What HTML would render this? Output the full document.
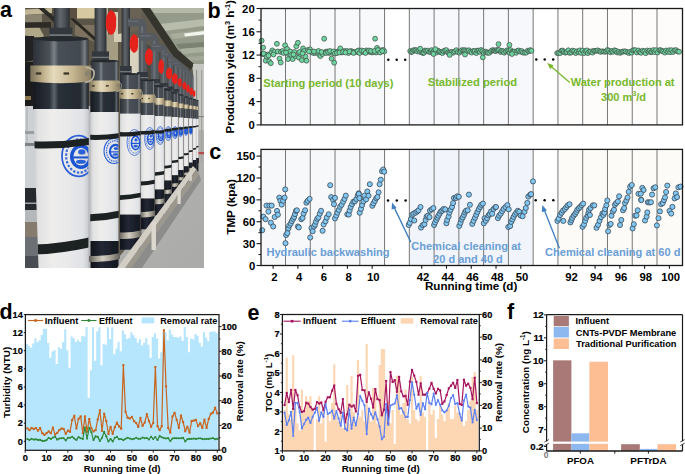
<!DOCTYPE html>
<html><head><meta charset="utf-8"><title>Figure</title>
<style>
html,body{margin:0;padding:0;background:#fff;width:685px;height:474px;overflow:hidden;}
svg{display:block;}
text{font-family:"Liberation Sans",sans-serif;}
</style></head>
<body>
<svg width="685" height="474" viewBox="0 0 685 474">
<defs>
<clipPath id="pc"><rect x="25" y="8" width="179" height="260"/></clipPath>
<filter id="blur1" x="-5%" y="-5%" width="110%" height="110%"><feGaussianBlur stdDeviation="0.6"/></filter>
<linearGradient id="gwhite" x1="0" y1="0" x2="1" y2="0"><stop offset="0" stop-color="#caccce"/><stop offset="0.1" stop-color="#e2e2e2"/><stop offset="0.35" stop-color="#eeedec"/><stop offset="0.6" stop-color="#eaeaeb"/><stop offset="0.9" stop-color="#e0e2e6"/><stop offset="1" stop-color="#c8cbd0"/></linearGradient>
<linearGradient id="gdark" x1="0" y1="0" x2="1" y2="0"><stop offset="0" stop-color="#2c3137"/><stop offset="0.3" stop-color="#4c5259"/><stop offset="0.38" stop-color="#7c8288"/><stop offset="0.46" stop-color="#4a5057"/><stop offset="0.85" stop-color="#42484f"/><stop offset="0.93" stop-color="#787e84"/><stop offset="1" stop-color="#30353b"/></linearGradient>
<linearGradient id="gpipe" x1="0" y1="0" x2="1" y2="0"><stop offset="0" stop-color="#2c3034"/><stop offset="0.4" stop-color="#62676d"/><stop offset="0.7" stop-color="#4a4f55"/><stop offset="1" stop-color="#2a2e32"/></linearGradient>
<linearGradient id="gblack" x1="0" y1="0" x2="1" y2="0"><stop offset="0" stop-color="#10131a"/><stop offset="0.4" stop-color="#222734"/><stop offset="1" stop-color="#141820"/></linearGradient>
<linearGradient id="gclamp" x1="0" y1="0" x2="1" y2="0"><stop offset="0" stop-color="#7a705a"/><stop offset="0.2" stop-color="#bcad88"/><stop offset="0.38" stop-color="#e4dabc"/><stop offset="0.7" stop-color="#c6b690"/><stop offset="1" stop-color="#8c7f62"/></linearGradient>
<linearGradient id="gdark2" x1="0" y1="0" x2="1" y2="0"><stop offset="0" stop-color="#161a20"/><stop offset="0.3" stop-color="#2c323a"/><stop offset="0.38" stop-color="#5e646c"/><stop offset="0.46" stop-color="#2a3038"/><stop offset="0.85" stop-color="#242a32"/><stop offset="0.93" stop-color="#5e646a"/><stop offset="1" stop-color="#1a1e24"/></linearGradient>
<linearGradient id="gsilver" x1="0" y1="0" x2="1" y2="0"><stop offset="0" stop-color="#5e5c56"/><stop offset="0.25" stop-color="#a8a498"/><stop offset="0.45" stop-color="#d2cec2"/><stop offset="0.75" stop-color="#9c988c"/><stop offset="1" stop-color="#62605a"/></linearGradient>
<linearGradient id="gceil" x1="0" y1="0" x2="0" y2="1"><stop offset="0" stop-color="#a4a99b"/><stop offset="1" stop-color="#c4c7bd"/></linearGradient>
<linearGradient id="gfloor" x1="0" y1="0" x2="1" y2="1"><stop offset="0" stop-color="#b4b4b2"/><stop offset="1" stop-color="#aaaaa8"/></linearGradient>
</defs>
<defs><g id="photoc">
<rect x="15" y="-2" width="199" height="280" fill="#625c50"/>
<rect x="25" y="8" width="95" height="60" fill="#5a5446"/>
<polygon points="25,9.5 52,8 52,13 25,15" fill="#c2b898"/>
<polygon points="25,15 42,14 42,22 25,22.5" fill="#8a8470"/>
<polygon points="38,8 44,8 60,22 56,24" fill="#2c2a26"/>
<polygon points="25,22.5 51,22 51,27.7 25,27.7" fill="#2e2b26"/>
<polygon points="25,28 39.5,27.7 44,36 42,38 25,35.6" fill="#b0a688"/>
<polygon points="70,8 77,8 77,18 70,20" fill="#5a5040"/>
<polygon points="77,8 96,8 96,18.5 77,18.5" fill="#d6c8a0"/>
<polygon points="75,25 95,25 95,42 75,35" fill="#7c725e"/>
<polygon points="70,18.5 74,18.5 96,38 96,42" fill="#2a2620"/>
<polygon points="25,36 34,36 34,60 25,62" fill="#242220"/>
<polygon points="96,8 108,8 108,48 96,40" fill="#beb497"/>
<polygon points="106,36 118,30 118,62 106,62" fill="#a59c84"/>
<rect x="114" y="12" width="8" height="30" fill="#d5cdb5"/>
<rect x="130" y="38" width="9" height="40" fill="#d9d2be"/>
<polygon points="118,8 142,8 142,30 118,34" fill="#6a6454"/>
<polygon points="140,40 190,70 190,100 140,100" fill="#4e4a42"/>
<polygon points="144,8 204,8 204,112 192,68 176,54" fill="#959b8a"/>
<polygon points="150,8 204,8 204,13 154,13" fill="#b4b8a6"/>
<polygon points="160,24 204,19 204,26 165,31" fill="#b8bcaa"/>
<polygon points="170,34 204,30 204,35 173,39" fill="#a9ae9c"/>
<polygon points="184,33.5 204,31 204,34.5 185,36.5" fill="#f2f4ee"/>
<polygon points="176,44 204,42 204,47 179,49" fill="#7c8272"/>
<polygon points="180,49 204,47 204,52 183,54" fill="#aab09e"/>
<polygon points="186,57 204,56 204,60 188,61" fill="#a4a898"/>
<polygon points="141,8 150,8 178,50 194,64 191,70 173,56" fill="#34362f"/>
<rect x="193" y="64" width="11" height="140" fill="#b0afab"/>
<rect x="193" y="64" width="11" height="66" fill="#c6c6c0"/>
<rect x="192" y="158" width="7" height="18" fill="#4a3a3c"/>
<rect x="196" y="70" width="1.2" height="125" fill="#8e918e"/>
<rect x="201" y="70" width="1.2" height="125" fill="#a0a3a0"/>
<rect x="192" y="152" width="12" height="2.2" fill="#b84848"/>
<rect x="193" y="116" width="11" height="1.2" fill="#888"/>
<rect x="25" y="62" width="11" height="44" fill="#1c1b1a"/>
<rect x="25" y="96" width="6" height="4" fill="#8a7650"/>
<rect x="25" y="106" width="14" height="162" fill="#cdd1d4"/>
<rect x="26.5" y="106" width="1" height="40" fill="#a8acb0"/>
<rect x="25" y="131" width="14" height="3" fill="#9a9ea2"/>
<rect x="25" y="143" width="14" height="3" fill="#7e8286"/>
<rect x="25" y="188" width="14" height="22" fill="#25292d"/>
<rect x="25" y="202.5" width="14" height="1.5" fill="#a0a4a8"/>
<rect x="25" y="210" width="14" height="12" fill="#b4b8bb"/>
<rect x="25" y="222" width="14" height="15" fill="#857c6e"/>
<circle cx="37.5" cy="240" r="1.3" fill="#c03030"/>
<rect x="25" y="237" width="14" height="31" fill="#6c7074"/>
<rect x="25" y="256" width="14" height="12" fill="#4a4d52"/>
<rect x="86" y="106" width="6" height="162" fill="#b9bbbe"/>
<polygon points="110,268 204,268 204,160 194,166" fill="url(#gfloor)"/>
<rect x="53.8" y="8" width="16.00" height="31.0" fill="url(#gpipe)"/>
<rect x="94.6" y="8" width="11.90" height="53.0" fill="url(#gpipe)"/>
<rect x="121.6" y="8" width="8.40" height="67.0" fill="url(#gpipe)"/>
<path d="M138.70,81.0 L138.70,26.40 L128.00,26.40 L128.00,18.50 L138.70,18.50 Q146.60,18.50 146.60,26.40 L146.60,81.0 Z" fill="#555a60"/>
<rect x="141.07" y="26.40" width="1.98" height="54.60" fill="#6c7177"/>
<rect x="128.00" y="20.48" width="10.70" height="1.74" fill="#666b70"/>
<path d="M151.00,87.0 L151.00,40.80 L140.00,40.80 L140.00,33.00 L151.00,33.00 Q158.80,33.00 158.80,40.80 L158.80,87.0 Z" fill="#555a60"/>
<rect x="153.34" y="40.80" width="1.95" height="46.20" fill="#6c7177"/>
<rect x="140.00" y="34.95" width="11.00" height="1.72" fill="#666b70"/>
<path d="M160.60,90.0 L160.60,50.60 L152.00,50.60 L152.00,44.00 L160.60,44.00 Q167.20,44.00 167.20,50.60 L167.20,90.0 Z" fill="#555a60"/>
<rect x="162.58" y="50.60" width="1.65" height="39.40" fill="#6c7177"/>
<rect x="152.00" y="45.65" width="8.60" height="1.45" fill="#666b70"/>
<path d="M168.20,93.0 L168.20,57.30 L161.00,57.30 L161.00,52.50 L168.20,52.50 Q173.00,52.50 173.00,57.30 L173.00,93.0 Z" fill="#555a60"/>
<rect x="169.64" y="57.30" width="1.20" height="35.70" fill="#6c7177"/>
<rect x="161.00" y="53.70" width="7.20" height="1.06" fill="#666b70"/>
<path d="M173.90,95.0 L173.90,63.00 L168.00,63.00 L168.00,58.30 L173.90,58.30 Q178.60,58.30 178.60,63.00 L178.60,95.0 Z" fill="#555a60"/>
<rect x="175.31" y="63.00" width="1.17" height="32.00" fill="#6c7177"/>
<rect x="168.00" y="59.47" width="5.90" height="1.03" fill="#666b70"/>
<path d="M178.60,97.0 L178.60,65.80 L173.00,65.80 L173.00,62.00 L178.60,62.00 Q182.40,62.00 182.40,65.80 L182.40,97.0 Z" fill="#555a60"/>
<rect x="179.74" y="65.80" width="0.95" height="31.20" fill="#6c7177"/>
<rect x="173.00" y="62.95" width="5.60" height="0.84" fill="#666b70"/>
<path d="M182.40,98.5 L182.40,68.20 L178.00,68.20 L178.00,65.00 L182.40,65.00 Q185.60,65.00 185.60,68.20 L185.60,98.5 Z" fill="#555a60"/>
<rect x="183.36" y="68.20" width="0.80" height="30.30" fill="#6c7177"/>
<rect x="178.00" y="65.80" width="4.40" height="0.70" fill="#666b70"/>
<path d="M185.60,99.5 L185.60,71.10 L182.00,71.10 L182.00,68.00 L185.60,68.00 Q188.70,68.00 188.70,71.10 L188.70,99.5 Z" fill="#555a60"/>
<rect x="186.53" y="71.10" width="0.77" height="28.40" fill="#6c7177"/>
<rect x="182.00" y="68.78" width="3.60" height="0.68" fill="#666b70"/>
<path d="M188.70,100.5 L188.70,73.50 L185.00,73.50 L185.00,71.00 L188.70,71.00 Q191.20,71.00 191.20,73.50 L191.20,100.5 Z" fill="#555a60"/>
<rect x="189.45" y="73.50" width="0.62" height="27.00" fill="#6c7177"/>
<rect x="185.00" y="71.62" width="3.70" height="0.55" fill="#666b70"/>
<path d="M191.20,101.0 L191.20,75.90 L188.00,75.90 L188.00,73.50 L191.20,73.50 Q193.60,73.50 193.60,75.90 L193.60,101.0 Z" fill="#555a60"/>
<rect x="191.92" y="75.90" width="0.60" height="25.10" fill="#6c7177"/>
<rect x="188.00" y="74.10" width="3.20" height="0.53" fill="#666b70"/>
<rect x="49.3" y="27.7" width="23.00" height="11.80" fill="#33373c"/>
<rect x="49.3" y="34.2" width="23.00" height="1.8" fill="#70757a"/>
<rect x="92.0" y="51.4" width="17.00" height="9.60" fill="#33373c"/>
<rect x="92.0" y="56.7" width="17.00" height="1.4" fill="#70757a"/>
<rect x="120.0" y="66.0" width="11.60" height="9.00" fill="#33373c"/>
<rect x="120.0" y="71.0" width="11.60" height="1.3" fill="#70757a"/>
<rect x="137.2" y="72.0" width="11.00" height="9.00" fill="#33373c"/>
<rect x="137.2" y="77.0" width="11.00" height="1.3" fill="#70757a"/>
<rect x="149.8" y="79.0" width="10.20" height="8.00" fill="#33373c"/>
<rect x="149.8" y="83.4" width="10.20" height="1.2" fill="#70757a"/>
<rect x="159.6" y="83.0" width="8.60" height="7.00" fill="#33373c"/>
<rect x="159.6" y="86.8" width="8.60" height="1.1" fill="#70757a"/>
<rect x="167.4" y="86.5" width="6.40" height="6.50" fill="#33373c"/>
<rect x="167.4" y="90.1" width="6.40" height="1.0" fill="#70757a"/>
<rect x="173.2" y="89.0" width="6.00" height="6.00" fill="#33373c"/>
<rect x="173.2" y="92.3" width="6.00" height="0.9" fill="#70757a"/>
<path d="M110.9,10.0 Q117.5,12.5 116.0,22.5 Q117.0,33.1 110.9,35.0 Q105.3,31.2 105.8,22.5 Q105.5,13.8 110.9,10.0 Z" fill="#e5241d"/>
<path d="M133.8,34.0 Q139.3,35.9 138.0,43.5 Q138.8,51.6 133.8,53.0 Q129.2,50.1 129.6,43.5 Q129.4,36.9 133.8,34.0 Z" fill="#e5241d"/>
<path d="M148.8,48.3 Q153.7,50.0 152.6,56.9 Q153.4,64.2 148.8,65.5 Q144.6,62.9 145.0,56.9 Q144.8,50.9 148.8,48.3 Z" fill="#e5241d"/>
<path d="M161.0,59.0 Q164.6,60.5 163.8,66.5 Q164.4,72.9 161.0,74.0 Q157.9,71.8 158.2,66.5 Q158.1,61.2 161.0,59.0 Z" fill="#e5241d"/>
<path d="M169.0,67.5 Q172.9,68.7 172.0,73.5 Q172.6,78.6 169.0,79.5 Q165.7,77.7 166.0,73.5 Q165.8,69.3 169.0,67.5 Z" fill="#e5241d"/>
<path d="M174.7,73.2 Q178.5,74.3 177.6,78.8 Q178.2,83.5 174.7,84.3 Q171.5,82.6 171.8,78.8 Q171.7,74.9 174.7,73.2 Z" fill="#e5241d"/>
<path d="M179.6,78.0 Q182.5,78.9 181.8,82.5 Q182.2,86.3 179.6,87.0 Q177.2,85.7 177.4,82.5 Q177.3,79.3 179.6,78.0 Z" fill="#e5241d"/>
<path d="M184.3,81.8 Q187.0,82.6 186.4,85.9 Q186.8,89.4 184.3,90.0 Q182.0,88.8 182.2,85.9 Q182.1,83.0 184.3,81.8 Z" fill="#e5241d"/>
<path d="M187.8,84.7 Q190.1,85.5 189.6,88.8 Q190.0,92.2 187.8,92.8 Q185.8,91.6 186.0,88.8 Q185.9,85.9 187.8,84.7 Z" fill="#e5241d"/>
<path d="M191.2,87.5 Q193.6,88.3 193.0,91.5 Q193.4,94.9 191.2,95.5 Q189.1,94.3 189.3,91.5 Q189.2,88.7 191.2,87.5 Z" fill="#e5241d"/>
<path d="M194.0,90.0 Q195.8,90.7 195.4,93.5 Q195.7,96.5 194.0,97.0 Q192.5,96.0 192.6,93.5 Q192.5,91.0 194.0,90.0 Z" fill="#e5241d"/>
<rect x="196.2" y="100.5" width="2.200000000000017" height="18.799999999999997" fill="url(#gdark)"/>
<ellipse cx="197.3" cy="100.5" rx="1.1000000000000085" ry="0.80" fill="#262a2f"/>
<path d="M196.09,106.5 L198.51,106.5 L198.51,110.0 Q197.30,110.13 196.09,110.0 Z" fill="url(#gclamp)"/>
<rect x="196.2" y="118.8" width="2.200000000000017" height="39.2" fill="url(#gwhite)"/>
<path d="M196.18,146.14 Q197.30,146.11 198.42,145.86 L198.42,147.36 Q197.30,147.61 196.18,147.64 Z" fill="#1d2024"/>
<path d="M196.18,125.47 Q197.30,125.51 198.42,125.33 L198.42,126.83 Q197.30,127.01 196.18,126.97 Z" fill="#1d2024"/>
<rect x="196.2" y="158.0" width="2.200000000000017" height="13.48" fill="url(#gblack)"/>
<rect x="193.0" y="99.5" width="3.0" height="19.599999999999994" fill="url(#gdark)"/>
<ellipse cx="194.5" cy="99.5" rx="1.5" ry="0.80" fill="#262a2f"/>
<path d="M192.85,106.0 L196.15,106.0 L196.15,109.5 Q194.50,109.68 192.85,109.5 Z" fill="url(#gclamp)"/>
<rect x="193.0" y="118.6" width="3.0" height="41.400000000000006" fill="url(#gwhite)"/>
<path d="M192.97,148.19 Q194.50,148.15 196.03,147.81 L196.03,149.41 Q194.50,149.75 192.97,149.79 Z" fill="#1d2024"/>
<path d="M192.97,125.89 Q194.50,125.95 196.03,125.71 L196.03,127.31 Q194.50,127.55 192.97,127.49 Z" fill="#1d2024"/>
<rect x="193.0" y="160.0" width="3.0" height="14.75" fill="url(#gblack)"/>
<rect x="189.0" y="98.5" width="3.5999999999999943" height="20.299999999999997" fill="url(#gdark)"/>
<ellipse cx="190.8" cy="98.5" rx="1.7999999999999972" ry="0.80" fill="#262a2f"/>
<path d="M188.82,105.5 L192.78,105.5 L192.78,109.0 Q190.80,109.22 188.82,109.0 Z" fill="url(#gclamp)"/>
<rect x="189.0" y="118.3" width="3.5999999999999943" height="44.39999999999999" fill="url(#gwhite)"/>
<path d="M188.96,150.43 Q190.80,150.38 192.64,149.97 L192.64,151.77 Q190.80,152.18 188.96,152.23 Z" fill="#1d2024"/>
<clipPath id="lc189"><rect x="189.0" y="118.3" width="3.5999999999999943" height="44.39999999999999"/></clipPath>
<g clip-path="url(#lc189)"><ellipse cx="190.8" cy="130.5" rx="1.4" ry="4.0" fill="none" stroke="#2b5fd6" stroke-width="0.77"/><ellipse cx="190.87" cy="130.5" rx="1.12" ry="3.28" fill="none" stroke="#3a6ad6" stroke-width="0.98" stroke-dasharray="1.05,0.70"/><ellipse cx="191.01" cy="130.62" rx="0.78" ry="2.08" fill="none" stroke="#1d55d2" stroke-width="1.54"/><rect x="190.17" y="130.58" width="1.68" height="0.40" fill="#1d55d2"/><ellipse cx="191.08" cy="129.70" rx="0.31" ry="0.52" fill="#2a60d8"/><ellipse cx="191.01" cy="131.62" rx="0.42" ry="0.40" fill="#2a60d8"/></g>
<path d="M188.96,126.31 Q190.80,126.38 192.64,126.09 L192.64,127.89 Q190.80,128.18 188.96,128.11 Z" fill="#1d2024"/>
<rect x="189.0" y="162.7" width="3.5999999999999943" height="16.36" fill="url(#gblack)"/>
<path d="M188.82,168.22 Q190.80,168.36 192.78,167.86 L192.78,170.06 Q190.80,170.56 188.82,170.42 Z" fill="url(#gsilver)"/>
<rect x="184.0" y="97.0" width="4.5" height="21.5" fill="url(#gdark)"/>
<ellipse cx="186.25" cy="97.0" rx="2.25" ry="0.80" fill="#262a2f"/>
<path d="M183.78,104.5 L188.72,104.5 L188.72,108.5 Q186.25,108.77 183.78,108.5 Z" fill="url(#gclamp)"/>
<rect x="184.0" y="118.0" width="4.5" height="48.30000000000001" fill="url(#gwhite)"/>
<path d="M183.96,153.29 Q186.25,153.22 188.54,152.71 L188.54,154.71 Q186.25,155.22 183.96,155.29 Z" fill="#1d2024"/>
<clipPath id="lc184"><rect x="184.0" y="118.0" width="4.5" height="48.30000000000001"/></clipPath>
<g clip-path="url(#lc184)"><ellipse cx="186.0" cy="131.0" rx="1.7" ry="4.5" fill="none" stroke="#2b5fd6" stroke-width="0.77"/><ellipse cx="186.09" cy="131.0" rx="1.36" ry="3.69" fill="none" stroke="#3a6ad6" stroke-width="0.98" stroke-dasharray="1.05,0.70"/><ellipse cx="186.25" cy="131.13" rx="0.95" ry="2.34" fill="none" stroke="#1d55d2" stroke-width="1.54"/><rect x="185.24" y="131.09" width="2.04" height="0.45" fill="#1d55d2"/><ellipse cx="186.34" cy="130.10" rx="0.37" ry="0.58" fill="#2a60d8"/><ellipse cx="186.25" cy="132.26" rx="0.51" ry="0.45" fill="#2a60d8"/></g>
<path d="M183.96,126.73 Q186.25,126.82 188.54,126.46 L188.54,128.46 Q186.25,128.82 183.96,128.74 Z" fill="#1d2024"/>
<rect x="184.0" y="166.3" width="4.5" height="18.07" fill="url(#gblack)"/>
<path d="M183.78,172.77 Q186.25,172.95 188.72,172.32 L188.72,174.82 Q186.25,175.45 183.78,175.27 Z" fill="url(#gsilver)"/>
<rect x="178.5" y="95.0" width="5.0" height="23.0" fill="url(#gdark)"/>
<ellipse cx="181.0" cy="95.0" rx="2.5" ry="0.80" fill="#262a2f"/>
<path d="M178.25,103.5 L183.75,103.5 L183.75,108.0 Q181.00,108.30 178.25,108.0 Z" fill="url(#gclamp)"/>
<rect x="178.5" y="117.5" width="5.0" height="52.5" fill="url(#gwhite)"/>
<path d="M178.45,156.92 Q181.00,156.85 183.55,156.28 L183.55,158.47 Q181.00,159.05 178.45,159.12 Z" fill="#1d2024"/>
<clipPath id="lc178"><rect x="178.5" y="117.5" width="5.0" height="52.5"/></clipPath>
<g clip-path="url(#lc178)"><ellipse cx="180.6" cy="131.8" rx="2.0" ry="5.0" fill="none" stroke="#2b5fd6" stroke-width="0.77"/><ellipse cx="180.70" cy="131.8" rx="1.60" ry="4.10" fill="none" stroke="#3a6ad6" stroke-width="0.98" stroke-dasharray="1.05,0.70"/><ellipse cx="180.90" cy="131.95" rx="1.12" ry="2.60" fill="none" stroke="#1d55d2" stroke-width="1.54"/><rect x="179.70" y="131.90" width="2.40" height="0.50" fill="#1d55d2"/><ellipse cx="181.00" cy="130.80" rx="0.44" ry="0.65" fill="#2a60d8"/><ellipse cx="180.90" cy="133.20" rx="0.60" ry="0.50" fill="#2a60d8"/></g>
<path d="M178.45,127.35 Q181.00,127.45 183.55,127.05 L183.55,129.25 Q181.00,129.65 178.45,129.55 Z" fill="#1d2024"/>
<rect x="178.5" y="170.0" width="5.0" height="20.50" fill="url(#gblack)"/>
<path d="M178.25,177.30 Q181.00,177.50 183.75,176.80 L183.75,179.80 Q181.00,180.50 178.25,180.30 Z" fill="url(#gsilver)"/>
<rect x="172.0" y="93.0" width="6.0" height="24.5" fill="url(#gdark)"/>
<ellipse cx="175.0" cy="93.0" rx="3.0" ry="0.80" fill="#262a2f"/>
<path d="M171.70,102.0 L178.30,102.0 L178.30,107.0 Q175.00,107.36 171.70,107.0 Z" fill="url(#gclamp)"/>
<rect x="172.0" y="117.0" width="6.0" height="58.30000000000001" fill="url(#gwhite)"/>
<path d="M171.94,160.59 Q175.00,160.50 178.06,159.81 L178.06,162.31 Q175.00,163.00 171.94,163.09 Z" fill="#1d2024"/>
<clipPath id="lc172"><rect x="172.0" y="117.0" width="6.0" height="58.30000000000001"/></clipPath>
<g clip-path="url(#lc172)"><ellipse cx="175.0" cy="132.6" rx="2.6" ry="6.0" fill="none" stroke="#2b5fd6" stroke-width="0.77"/><ellipse cx="175.13" cy="132.6" rx="2.08" ry="4.92" fill="none" stroke="#3a6ad6" stroke-width="0.98" stroke-dasharray="1.05,0.70"/><ellipse cx="175.39" cy="132.78" rx="1.46" ry="3.12" fill="none" stroke="#1d55d2" stroke-width="1.54"/><rect x="173.83" y="132.72" width="3.12" height="0.60" fill="#1d55d2"/><ellipse cx="175.52" cy="131.40" rx="0.57" ry="0.78" fill="#2a60d8"/><ellipse cx="175.39" cy="134.28" rx="0.78" ry="0.60" fill="#2a60d8"/></g>
<path d="M171.94,127.98 Q175.00,128.10 178.06,127.62 L178.06,130.12 Q175.00,130.60 171.94,130.48 Z" fill="#1d2024"/>
<rect x="172.0" y="175.3" width="6.0" height="22.20" fill="url(#gblack)"/>
<path d="M171.70,183.36 Q175.00,183.60 178.30,182.76 L178.30,186.26 Q175.00,187.10 171.70,186.86 Z" fill="url(#gsilver)"/>
<rect x="164.5" y="90.0" width="7.0" height="27.0" fill="url(#gdark)"/>
<ellipse cx="168.0" cy="90.0" rx="3.5" ry="0.80" fill="#262a2f"/>
<path d="M164.15,100.6 L171.85,100.6 L171.85,106.0 Q168.00,106.42 164.15,106.0 Z" fill="url(#gclamp)"/>
<rect x="164.5" y="116.5" width="7.0" height="64.1" fill="url(#gwhite)"/>
<path d="M164.43,165.66 Q168.00,165.55 171.57,164.74 L171.57,167.54 Q168.00,168.35 164.43,168.46 Z" fill="#1d2024"/>
<clipPath id="lc164"><rect x="164.5" y="116.5" width="7.0" height="64.1"/></clipPath>
<g clip-path="url(#lc164)"><ellipse cx="168.3" cy="133.6" rx="3.2" ry="7.0" fill="none" stroke="#2b5fd6" stroke-width="0.77"/><ellipse cx="168.46" cy="133.6" rx="2.56" ry="5.74" fill="none" stroke="#3a6ad6" stroke-width="0.98" stroke-dasharray="1.05,0.70"/><ellipse cx="168.78" cy="133.81" rx="1.79" ry="3.64" fill="none" stroke="#1d55d2" stroke-width="1.54"/><rect x="166.86" y="133.74" width="3.84" height="0.70" fill="#1d55d2"/><ellipse cx="168.94" cy="132.20" rx="0.70" ry="0.91" fill="#2a60d8"/><ellipse cx="168.78" cy="135.56" rx="0.96" ry="0.70" fill="#2a60d8"/></g>
<path d="M164.43,128.91 Q168.00,129.05 171.57,128.49 L171.57,131.29 Q168.00,131.85 164.43,131.71 Z" fill="#1d2024"/>
<rect x="164.5" y="180.6" width="7.0" height="25.06" fill="url(#gblack)"/>
<path d="M164.15,190.02 Q168.00,190.30 171.85,189.32 L171.85,193.32 Q168.00,194.30 164.15,194.02 Z" fill="url(#gsilver)"/>
<rect x="155.0" y="86.5" width="9.0" height="30.0" fill="url(#gdark)"/>
<ellipse cx="159.5" cy="86.5" rx="4.5" ry="0.80" fill="#262a2f"/>
<path d="M154.55,98.0 L164.45,98.0 L164.45,104.5 Q159.50,105.04 154.55,104.5 Z" fill="url(#gclamp)"/>
<rect x="155.0" y="116.0" width="9.0" height="73.6" fill="url(#gwhite)"/>
<path d="M154.91,172.28 Q159.50,172.15 164.09,171.11 L164.09,174.61 Q159.50,175.65 154.91,175.78 Z" fill="#1d2024"/>
<clipPath id="lc155"><rect x="155.0" y="116.0" width="9.0" height="73.6"/></clipPath>
<g clip-path="url(#lc155)"><ellipse cx="160.2" cy="135.5" rx="4.0" ry="9.0" fill="none" stroke="#2b5fd6" stroke-width="0.77"/><ellipse cx="160.40" cy="135.5" rx="3.20" ry="7.38" fill="none" stroke="#3a6ad6" stroke-width="0.98" stroke-dasharray="1.05,0.70"/><ellipse cx="160.80" cy="135.77" rx="2.24" ry="4.68" fill="none" stroke="#1d55d2" stroke-width="1.54"/><rect x="158.40" y="135.68" width="4.80" height="0.90" fill="#1d55d2"/><ellipse cx="161.00" cy="133.70" rx="0.88" ry="1.17" fill="#2a60d8"/><ellipse cx="160.80" cy="138.02" rx="1.20" ry="0.90" fill="#2a60d8"/></g>
<path d="M154.91,130.57 Q159.50,130.75 164.09,130.03 L164.09,133.03 Q159.50,133.75 154.91,133.57 Z" fill="#1d2024"/>
<rect x="155.0" y="189.6" width="9.0" height="25.98" fill="url(#gblack)"/>
<path d="M154.55,199.14 Q159.50,199.50 164.45,198.24 L164.45,203.24 Q159.50,204.50 154.55,204.14 Z" fill="url(#gsilver)"/>
<rect x="141.0" y="80.5" width="13.5" height="35.0" fill="url(#gdark)"/>
<ellipse cx="147.75" cy="80.5" rx="6.75" ry="0.80" fill="#262a2f"/>
<path d="M140.32,94.5 L155.17,94.5 L155.17,102.5 Q147.75,103.31 140.32,102.5 Z" fill="url(#gclamp)"/>
<rect x="141.68" y="97.94" width="1.35" height="1.12" fill="#3a3428"/>
<rect x="148.43" y="97.94" width="1.35" height="1.12" fill="#3a3428"/>
<path d="M153.69,95.30 Q156.12,96.10 155.85,98.50 Q155.85,102.50 153.69,102.90" fill="none" stroke="#b9b2a2" stroke-width="0.60"/>
<circle cx="154.23" cy="98.50" r="0.61" fill="#8a8272"/>
<rect x="141.0" y="115.0" width="13.5" height="83.6" fill="url(#gwhite)"/>
<path d="M140.87,181.48 Q147.75,181.28 154.63,179.72 L154.63,183.72 Q147.75,185.28 140.87,185.48 Z" fill="#1d2024"/>
<clipPath id="lc141"><rect x="141.0" y="115.0" width="13.5" height="83.6"/></clipPath>
<g clip-path="url(#lc141)"><ellipse cx="149.8" cy="138.5" rx="5.2" ry="11.0" fill="none" stroke="#2b5fd6" stroke-width="0.77"/><ellipse cx="150.06" cy="138.5" rx="4.16" ry="9.02" fill="none" stroke="#3a6ad6" stroke-width="0.98" stroke-dasharray="1.05,0.70"/><ellipse cx="150.58" cy="138.83" rx="2.91" ry="5.72" fill="none" stroke="#1d55d2" stroke-width="1.54"/><rect x="147.46" y="138.72" width="6.24" height="1.10" fill="#1d55d2"/><ellipse cx="150.84" cy="136.30" rx="1.14" ry="1.43" fill="#2a60d8"/><ellipse cx="150.58" cy="141.58" rx="1.56" ry="1.10" fill="#2a60d8"/></g>
<path d="M140.87,130.91 Q147.75,131.18 154.63,130.09 L154.63,133.69 Q147.75,134.78 140.87,134.50 Z" fill="#1d2024"/>
<rect x="141.0" y="198.6" width="13.5" height="30.69" fill="url(#gblack)"/>
<path d="M140.32,211.81 Q147.75,212.35 155.18,210.46 L155.18,215.96 Q147.75,217.85 140.32,217.31 Z" fill="url(#gsilver)"/>
<rect x="120.0" y="74.0" width="20.5" height="40.099999999999994" fill="url(#gdark)"/>
<ellipse cx="130.25" cy="74.0" rx="10.25" ry="0.92" fill="#262a2f"/>
<path d="M118.97,89.0 L141.53,89.0 L141.53,98.5 Q130.25,99.73 118.97,98.5 Z" fill="url(#gclamp)"/>
<rect x="121.03" y="93.08" width="2.05" height="1.33" fill="#3a3428"/>
<rect x="131.28" y="93.08" width="2.05" height="1.33" fill="#3a3428"/>
<path d="M139.27,89.95 Q142.96,90.90 142.55,93.75 Q142.55,98.50 139.27,98.97" fill="none" stroke="#b9b2a2" stroke-width="0.61"/>
<circle cx="140.09" cy="93.75" r="0.92" fill="#8a8272"/>
<rect x="120.0" y="113.6" width="20.5" height="101.1" fill="url(#gwhite)"/>
<path d="M119.80,195.33 Q130.25,195.03 140.71,192.67 L140.71,197.27 Q130.25,199.62 119.80,199.93 Z" fill="#1d2024"/>
<clipPath id="lc120"><rect x="120.0" y="113.6" width="20.5" height="101.1"/></clipPath>
<g clip-path="url(#lc120)"><ellipse cx="134.5" cy="142.5" rx="7.5" ry="13.0" fill="none" stroke="#2b5fd6" stroke-width="0.78"/><ellipse cx="134.88" cy="142.5" rx="6.00" ry="10.66" fill="none" stroke="#3a6ad6" stroke-width="1.00" stroke-dasharray="1.07,0.71"/><ellipse cx="135.62" cy="142.89" rx="4.20" ry="6.76" fill="none" stroke="#1d55d2" stroke-width="1.57"/><rect x="131.12" y="142.76" width="9.00" height="1.30" fill="#1d55d2"/><ellipse cx="136.00" cy="139.90" rx="1.65" ry="1.69" fill="#2a60d8"/><ellipse cx="135.62" cy="146.14" rx="2.25" ry="1.30" fill="#2a60d8"/></g>
<path d="M119.80,132.12 Q130.25,132.53 140.71,130.88 L140.71,135.19 Q130.25,136.83 119.80,136.42 Z" fill="#1d2024"/>
<rect x="120.0" y="214.7" width="20.5" height="35.01" fill="url(#gblack)"/>
<path d="M118.97,232.23 Q130.25,233.05 141.53,230.18 L141.53,236.68 Q130.25,239.55 118.97,238.73 Z" fill="url(#gsilver)"/>
<rect x="90.5" y="61.0" width="28.0" height="51.5" fill="url(#gdark)"/>
<rect x="90.5" y="91.1" width="28.0" height="21.400000000000006" fill="url(#gdark2)"/>
<ellipse cx="104.5" cy="61.0" rx="14.0" ry="1.26" fill="#262a2f"/>
<path d="M89.10,80.6 L119.90,80.6 L119.90,91.1 Q104.50,92.78 89.10,91.1 Z" fill="url(#gclamp)"/>
<rect x="91.90" y="85.11" width="2.80" height="1.47" fill="#3a3428"/>
<rect x="105.90" y="85.11" width="2.80" height="1.47" fill="#3a3428"/>
<path d="M116.82,81.65 Q121.86,82.70 121.30,85.85 Q121.30,91.10 116.82,91.62" fill="none" stroke="#b9b2a2" stroke-width="0.84"/>
<circle cx="117.94" cy="85.85" r="1.26" fill="#8a8272"/>
<rect x="90.5" y="112.0" width="28.0" height="129.0" fill="url(#gwhite)"/>
<path d="M90.22,214.32 Q104.50,213.90 118.78,210.68 L118.78,217.68 Q104.50,220.90 90.22,221.32 Z" fill="#1d2024"/>
<clipPath id="lc90"><rect x="90.5" y="112.0" width="28.0" height="129.0"/></clipPath>
<g clip-path="url(#lc90)"><ellipse cx="114.0" cy="151.0" rx="10.0" ry="12.5" fill="none" stroke="#2b5fd6" stroke-width="1.04"/><ellipse cx="114.50" cy="151.0" rx="8.00" ry="10.25" fill="none" stroke="#3a6ad6" stroke-width="1.33" stroke-dasharray="1.42,0.95"/><ellipse cx="115.50" cy="151.38" rx="5.60" ry="6.50" fill="none" stroke="#1d55d2" stroke-width="2.09"/><rect x="109.50" y="151.25" width="12.00" height="1.25" fill="#1d55d2"/><ellipse cx="116.00" cy="148.50" rx="2.20" ry="1.62" fill="#2a60d8"/><ellipse cx="115.50" cy="154.50" rx="3.00" ry="1.25" fill="#2a60d8"/></g>
<path d="M90.22,134.84 Q104.50,135.40 118.78,133.16 L118.78,138.16 Q104.50,140.40 90.22,139.84 Z" fill="#1d2024"/>
<rect x="90.5" y="241.0" width="28.0" height="29.00" fill="url(#gblack)"/>
<path d="M89.10,255.68 Q104.50,256.80 119.90,252.88 L119.90,258.88 Q104.50,262.80 89.10,261.68 Z" fill="url(#gsilver)"/>
<rect x="33.0" y="38.8" width="55.5" height="70.7" fill="url(#gdark)"/>
<rect x="33.0" y="81.5" width="55.5" height="28.0" fill="url(#gdark2)"/>
<ellipse cx="60.75" cy="38.8" rx="27.75" ry="2.50" fill="#262a2f"/>
<path d="M30.23,65.5 L91.28,65.5 L91.28,81.5 Q60.75,84.83 30.23,81.5 Z" fill="url(#gclamp)"/>
<rect x="35.77" y="72.38" width="5.55" height="2.24" fill="#3a3428"/>
<rect x="63.53" y="72.38" width="5.55" height="2.24" fill="#3a3428"/>
<path d="M85.17,67.10 Q95.16,68.70 94.05,73.50 Q94.05,81.50 85.17,82.30" fill="none" stroke="#b9b2a2" stroke-width="1.67"/>
<circle cx="87.39" cy="73.50" r="2.50" fill="#8a8272"/>
<clipPath id="m1c"><polygon points="33,100 89,100 88.3,270 38.6,270"/></clipPath><g clip-path="url(#m1c)">
<rect x="33.0" y="109.0" width="55.5" height="161.0" fill="url(#gwhite)"/>
<path d="M32.45,244.61 Q60.75,243.78 89.06,237.39 L89.06,247.39 Q60.75,253.78 32.45,254.61 Z" fill="#1d2024"/>
<clipPath id="lc33"><rect x="33.0" y="109.0" width="55.5" height="161.0"/></clipPath>
<g clip-path="url(#lc33)"><ellipse cx="78.5" cy="156.0" rx="16.5" ry="20.3" fill="none" stroke="#2b5fd6" stroke-width="1.72"/><ellipse cx="79.33" cy="156.0" rx="13.20" ry="16.65" fill="none" stroke="#3a6ad6" stroke-width="2.19" stroke-dasharray="2.35,1.57"/><ellipse cx="80.97" cy="156.61" rx="9.24" ry="10.56" fill="none" stroke="#1d55d2" stroke-width="3.45"/><rect x="71.08" y="156.41" width="19.80" height="2.03" fill="#1d55d2"/><ellipse cx="81.80" cy="151.94" rx="3.63" ry="2.64" fill="#2a60d8"/><ellipse cx="80.97" cy="161.68" rx="4.95" ry="2.03" fill="#2a60d8"/></g>
<path d="M32.45,141.26 Q60.75,142.38 89.06,137.94 L89.06,144.94 Q60.75,149.38 32.45,148.26 Z" fill="#1d2024"/>
</g>
<polygon points="117,268 125,268 196.5,169.5 193,166" fill="#d2cec4"/>
<polygon points="125,268 131,268 199,174 196.5,169.5" fill="#9c988e"/>
<polygon points="131,268 142,268 201,180 199,174" fill="#8c8c8a"/>
<rect x="151.5" y="222" width="4.5" height="28" fill="#dcd8d0"/>
<rect x="177.5" y="190" width="3.2" height="14" fill="#dcd8d0"/>
<rect x="189.3" y="173" width="2.6" height="8" fill="#d4d0c8"/>
</g></defs>
<g clip-path="url(#pc)"><use href="#photoc"/><use href="#photoc" filter="url(#blur1)"/></g>
<text x="0.00" y="16.80" font-size="21.5" font-weight="bold" fill="#000" text-anchor="start" >a</text>
<text x="207.60" y="17.60" font-size="21.5" font-weight="bold" fill="#000" text-anchor="start" >b</text>
<text x="209.30" y="158.90" font-size="21.5" font-weight="bold" fill="#000" text-anchor="start" >c</text>
<text x="-0.60" y="318.70" font-size="21.5" font-weight="bold" fill="#000" text-anchor="start" >d</text>
<text x="247.40" y="319.60" font-size="21.5" font-weight="bold" fill="#000" text-anchor="start" >e</text>
<text x="507.00" y="318.60" font-size="21.5" font-weight="bold" fill="#000" text-anchor="start" >f</text>
<rect x="261.00" y="8.5" width="24.50" height="116.4" fill="#f8f9fa"/>
<rect x="285.50" y="8.5" width="24.77" height="116.4" fill="#f8f9fa"/>
<rect x="310.27" y="8.5" width="24.77" height="116.4" fill="#f8f9fa"/>
<rect x="335.03" y="8.5" width="24.77" height="116.4" fill="#f8f9fa"/>
<rect x="359.80" y="8.5" width="24.77" height="116.4" fill="#f8f9fa"/>
<rect x="409.33" y="8.5" width="24.77" height="116.4" fill="#f6f8fc"/>
<rect x="434.10" y="8.5" width="24.77" height="116.4" fill="#f6f8fc"/>
<rect x="458.87" y="8.5" width="24.77" height="116.4" fill="#f6f8fc"/>
<rect x="483.64" y="8.5" width="24.77" height="116.4" fill="#f6f8fc"/>
<rect x="508.40" y="8.5" width="24.77" height="116.4" fill="#f6f8fc"/>
<rect x="557.94" y="8.5" width="24.77" height="116.4" fill="#fdfcfa"/>
<rect x="582.70" y="8.5" width="24.77" height="116.4" fill="#fdfcfa"/>
<rect x="607.47" y="8.5" width="24.77" height="116.4" fill="#fdfcfa"/>
<rect x="632.24" y="8.5" width="24.77" height="116.4" fill="#fdfcfa"/>
<rect x="657.00" y="8.5" width="25.50" height="116.4" fill="#fdfcfa"/>
<line x1="285.50" y1="8.5" x2="285.50" y2="124.9" stroke="#777777" stroke-width="1"/>
<line x1="310.27" y1="8.5" x2="310.27" y2="124.9" stroke="#777777" stroke-width="1"/>
<line x1="335.03" y1="8.5" x2="335.03" y2="124.9" stroke="#777777" stroke-width="1"/>
<line x1="359.80" y1="8.5" x2="359.80" y2="124.9" stroke="#777777" stroke-width="1"/>
<line x1="384.57" y1="8.5" x2="384.57" y2="124.9" stroke="#777777" stroke-width="1"/>
<line x1="409.33" y1="8.5" x2="409.33" y2="124.9" stroke="#777777" stroke-width="1"/>
<line x1="434.10" y1="8.5" x2="434.10" y2="124.9" stroke="#777777" stroke-width="1"/>
<line x1="458.87" y1="8.5" x2="458.87" y2="124.9" stroke="#777777" stroke-width="1"/>
<line x1="483.64" y1="8.5" x2="483.64" y2="124.9" stroke="#777777" stroke-width="1"/>
<line x1="508.40" y1="8.5" x2="508.40" y2="124.9" stroke="#777777" stroke-width="1"/>
<line x1="533.17" y1="8.5" x2="533.17" y2="124.9" stroke="#777777" stroke-width="1"/>
<line x1="557.94" y1="8.5" x2="557.94" y2="124.9" stroke="#777777" stroke-width="1"/>
<line x1="582.70" y1="8.5" x2="582.70" y2="124.9" stroke="#777777" stroke-width="1"/>
<line x1="607.47" y1="8.5" x2="607.47" y2="124.9" stroke="#777777" stroke-width="1"/>
<line x1="632.24" y1="8.5" x2="632.24" y2="124.9" stroke="#777777" stroke-width="1"/>
<line x1="657.00" y1="8.5" x2="657.00" y2="124.9" stroke="#777777" stroke-width="1"/>
<circle cx="261.6" cy="40.7" r="2.45" fill="#6dd5a0" stroke="#45574d" stroke-width="0.8"/>
<circle cx="263.1" cy="47.6" r="2.45" fill="#6dd5a0" stroke="#45574d" stroke-width="0.8"/>
<circle cx="262.6" cy="54.0" r="2.45" fill="#6dd5a0" stroke="#45574d" stroke-width="0.8"/>
<circle cx="264.6" cy="54.5" r="2.45" fill="#6dd5a0" stroke="#45574d" stroke-width="0.8"/>
<circle cx="265.7" cy="60.7" r="2.45" fill="#6dd5a0" stroke="#45574d" stroke-width="0.8"/>
<circle cx="267.7" cy="54.5" r="2.45" fill="#6dd5a0" stroke="#45574d" stroke-width="0.8"/>
<circle cx="266.7" cy="56.6" r="2.45" fill="#6dd5a0" stroke="#45574d" stroke-width="0.8"/>
<circle cx="269.2" cy="61.2" r="2.45" fill="#6dd5a0" stroke="#45574d" stroke-width="0.8"/>
<circle cx="270.8" cy="63.2" r="2.45" fill="#6dd5a0" stroke="#45574d" stroke-width="0.8"/>
<circle cx="272.3" cy="50.4" r="2.45" fill="#6dd5a0" stroke="#45574d" stroke-width="0.8"/>
<circle cx="271.3" cy="53.0" r="2.45" fill="#6dd5a0" stroke="#45574d" stroke-width="0.8"/>
<circle cx="274.3" cy="52.0" r="2.45" fill="#6dd5a0" stroke="#45574d" stroke-width="0.8"/>
<circle cx="276.9" cy="43.8" r="2.45" fill="#6dd5a0" stroke="#45574d" stroke-width="0.8"/>
<circle cx="277.9" cy="51.5" r="2.45" fill="#6dd5a0" stroke="#45574d" stroke-width="0.8"/>
<circle cx="279.5" cy="58.6" r="2.45" fill="#6dd5a0" stroke="#45574d" stroke-width="0.8"/>
<circle cx="280.7" cy="62.5" r="2.45" fill="#6dd5a0" stroke="#45574d" stroke-width="0.8"/>
<circle cx="281.0" cy="52.0" r="2.45" fill="#6dd5a0" stroke="#45574d" stroke-width="0.8"/>
<circle cx="282.5" cy="51.0" r="2.45" fill="#6dd5a0" stroke="#45574d" stroke-width="0.8"/>
<circle cx="285.1" cy="45.3" r="2.45" fill="#6dd5a0" stroke="#45574d" stroke-width="0.8"/>
<circle cx="287.1" cy="48.9" r="2.45" fill="#6dd5a0" stroke="#45574d" stroke-width="0.8"/>
<circle cx="288.1" cy="59.1" r="2.45" fill="#6dd5a0" stroke="#45574d" stroke-width="0.8"/>
<circle cx="288.7" cy="54.0" r="2.45" fill="#6dd5a0" stroke="#45574d" stroke-width="0.8"/>
<circle cx="290.2" cy="51.5" r="2.45" fill="#6dd5a0" stroke="#45574d" stroke-width="0.8"/>
<circle cx="291.2" cy="55.0" r="2.45" fill="#6dd5a0" stroke="#45574d" stroke-width="0.8"/>
<circle cx="292.7" cy="59.1" r="2.45" fill="#6dd5a0" stroke="#45574d" stroke-width="0.8"/>
<circle cx="294.3" cy="52.0" r="2.45" fill="#6dd5a0" stroke="#45574d" stroke-width="0.8"/>
<circle cx="295.3" cy="56.1" r="2.45" fill="#6dd5a0" stroke="#45574d" stroke-width="0.8"/>
<circle cx="296.3" cy="46.3" r="2.45" fill="#6dd5a0" stroke="#45574d" stroke-width="0.8"/>
<circle cx="297.9" cy="42.8" r="2.45" fill="#6dd5a0" stroke="#45574d" stroke-width="0.8"/>
<circle cx="298.9" cy="57.6" r="2.45" fill="#6dd5a0" stroke="#45574d" stroke-width="0.8"/>
<circle cx="300.4" cy="54.0" r="2.45" fill="#6dd5a0" stroke="#45574d" stroke-width="0.8"/>
<circle cx="301.9" cy="60.1" r="2.45" fill="#6dd5a0" stroke="#45574d" stroke-width="0.8"/>
<circle cx="303.0" cy="48.4" r="2.45" fill="#6dd5a0" stroke="#45574d" stroke-width="0.8"/>
<circle cx="304.0" cy="51.0" r="2.45" fill="#6dd5a0" stroke="#45574d" stroke-width="0.8"/>
<circle cx="305.5" cy="56.6" r="2.45" fill="#6dd5a0" stroke="#45574d" stroke-width="0.8"/>
<circle cx="306.5" cy="60.7" r="2.45" fill="#6dd5a0" stroke="#45574d" stroke-width="0.8"/>
<circle cx="308.1" cy="49.9" r="2.45" fill="#6dd5a0" stroke="#45574d" stroke-width="0.8"/>
<circle cx="310.1" cy="49.4" r="2.45" fill="#6dd5a0" stroke="#45574d" stroke-width="0.8"/>
<circle cx="311.6" cy="52.0" r="2.45" fill="#6dd5a0" stroke="#45574d" stroke-width="0.8"/>
<circle cx="313.2" cy="53.0" r="2.45" fill="#6dd5a0" stroke="#45574d" stroke-width="0.8"/>
<circle cx="315.2" cy="53.0" r="2.45" fill="#6dd5a0" stroke="#45574d" stroke-width="0.8"/>
<circle cx="317.3" cy="52.5" r="2.45" fill="#6dd5a0" stroke="#45574d" stroke-width="0.8"/>
<circle cx="319.3" cy="54.5" r="2.45" fill="#6dd5a0" stroke="#45574d" stroke-width="0.8"/>
<circle cx="320.3" cy="56.1" r="2.45" fill="#6dd5a0" stroke="#45574d" stroke-width="0.8"/>
<circle cx="322.4" cy="54.0" r="2.45" fill="#6dd5a0" stroke="#45574d" stroke-width="0.8"/>
<circle cx="324.2" cy="38.7" r="2.45" fill="#6dd5a0" stroke="#45574d" stroke-width="0.8"/>
<circle cx="325.4" cy="52.0" r="2.45" fill="#6dd5a0" stroke="#45574d" stroke-width="0.8"/>
<circle cx="327.0" cy="51.5" r="2.45" fill="#6dd5a0" stroke="#45574d" stroke-width="0.8"/>
<circle cx="329.1" cy="53.0" r="2.45" fill="#6dd5a0" stroke="#45574d" stroke-width="0.8"/>
<circle cx="331.6" cy="58.6" r="2.45" fill="#6dd5a0" stroke="#45574d" stroke-width="0.8"/>
<circle cx="334.2" cy="62.7" r="2.45" fill="#6dd5a0" stroke="#45574d" stroke-width="0.8"/>
<circle cx="332.7" cy="53.0" r="2.45" fill="#6dd5a0" stroke="#45574d" stroke-width="0.8"/>
<circle cx="336.2" cy="52.0" r="2.45" fill="#6dd5a0" stroke="#45574d" stroke-width="0.8"/>
<circle cx="338.3" cy="51.5" r="2.45" fill="#6dd5a0" stroke="#45574d" stroke-width="0.8"/>
<circle cx="340.3" cy="48.4" r="2.45" fill="#6dd5a0" stroke="#45574d" stroke-width="0.8"/>
<circle cx="341.9" cy="52.5" r="2.45" fill="#6dd5a0" stroke="#45574d" stroke-width="0.8"/>
<circle cx="344.4" cy="51.0" r="2.45" fill="#6dd5a0" stroke="#45574d" stroke-width="0.8"/>
<circle cx="347.0" cy="51.0" r="2.45" fill="#6dd5a0" stroke="#45574d" stroke-width="0.8"/>
<circle cx="348.5" cy="53.0" r="2.45" fill="#6dd5a0" stroke="#45574d" stroke-width="0.8"/>
<circle cx="351.1" cy="51.0" r="2.45" fill="#6dd5a0" stroke="#45574d" stroke-width="0.8"/>
<circle cx="352.6" cy="52.0" r="2.45" fill="#6dd5a0" stroke="#45574d" stroke-width="0.8"/>
<circle cx="354.6" cy="52.0" r="2.45" fill="#6dd5a0" stroke="#45574d" stroke-width="0.8"/>
<circle cx="356.7" cy="52.0" r="2.45" fill="#6dd5a0" stroke="#45574d" stroke-width="0.8"/>
<circle cx="358.7" cy="50.4" r="2.45" fill="#6dd5a0" stroke="#45574d" stroke-width="0.8"/>
<circle cx="360.8" cy="51.5" r="2.45" fill="#6dd5a0" stroke="#45574d" stroke-width="0.8"/>
<circle cx="362.8" cy="52.0" r="2.45" fill="#6dd5a0" stroke="#45574d" stroke-width="0.8"/>
<circle cx="364.9" cy="52.0" r="2.45" fill="#6dd5a0" stroke="#45574d" stroke-width="0.8"/>
<circle cx="366.4" cy="50.4" r="2.45" fill="#6dd5a0" stroke="#45574d" stroke-width="0.8"/>
<circle cx="367.9" cy="51.5" r="2.45" fill="#6dd5a0" stroke="#45574d" stroke-width="0.8"/>
<circle cx="370.0" cy="52.0" r="2.45" fill="#6dd5a0" stroke="#45574d" stroke-width="0.8"/>
<circle cx="372.0" cy="52.5" r="2.45" fill="#6dd5a0" stroke="#45574d" stroke-width="0.8"/>
<circle cx="373.5" cy="52.0" r="2.45" fill="#6dd5a0" stroke="#45574d" stroke-width="0.8"/>
<circle cx="375.1" cy="38.7" r="2.45" fill="#6dd5a0" stroke="#45574d" stroke-width="0.8"/>
<circle cx="377.1" cy="47.9" r="2.45" fill="#6dd5a0" stroke="#45574d" stroke-width="0.8"/>
<circle cx="376.1" cy="52.5" r="2.45" fill="#6dd5a0" stroke="#45574d" stroke-width="0.8"/>
<circle cx="379.2" cy="51.5" r="2.45" fill="#6dd5a0" stroke="#45574d" stroke-width="0.8"/>
<circle cx="381.2" cy="50.4" r="2.45" fill="#6dd5a0" stroke="#45574d" stroke-width="0.8"/>
<circle cx="383.2" cy="49.9" r="2.45" fill="#6dd5a0" stroke="#45574d" stroke-width="0.8"/>
<circle cx="384.3" cy="51.5" r="2.45" fill="#6dd5a0" stroke="#45574d" stroke-width="0.8"/>
<circle cx="263.5" cy="53.5" r="2.45" fill="#6dd5a0" stroke="#45574d" stroke-width="0.8"/>
<circle cx="268.5" cy="55.5" r="2.45" fill="#6dd5a0" stroke="#45574d" stroke-width="0.8"/>
<circle cx="273.5" cy="54.5" r="2.45" fill="#6dd5a0" stroke="#45574d" stroke-width="0.8"/>
<circle cx="283.5" cy="53.0" r="2.45" fill="#6dd5a0" stroke="#45574d" stroke-width="0.8"/>
<circle cx="286.0" cy="52.5" r="2.45" fill="#6dd5a0" stroke="#45574d" stroke-width="0.8"/>
<circle cx="293.5" cy="54.5" r="2.45" fill="#6dd5a0" stroke="#45574d" stroke-width="0.8"/>
<circle cx="299.5" cy="52.0" r="2.45" fill="#6dd5a0" stroke="#45574d" stroke-width="0.8"/>
<circle cx="302.5" cy="53.5" r="2.45" fill="#6dd5a0" stroke="#45574d" stroke-width="0.8"/>
<circle cx="309.0" cy="51.5" r="2.45" fill="#6dd5a0" stroke="#45574d" stroke-width="0.8"/>
<circle cx="314.0" cy="51.5" r="2.45" fill="#6dd5a0" stroke="#45574d" stroke-width="0.8"/>
<circle cx="318.5" cy="51.0" r="2.45" fill="#6dd5a0" stroke="#45574d" stroke-width="0.8"/>
<circle cx="321.5" cy="52.0" r="2.45" fill="#6dd5a0" stroke="#45574d" stroke-width="0.8"/>
<circle cx="326.0" cy="53.0" r="2.45" fill="#6dd5a0" stroke="#45574d" stroke-width="0.8"/>
<circle cx="328.0" cy="52.0" r="2.45" fill="#6dd5a0" stroke="#45574d" stroke-width="0.8"/>
<circle cx="330.0" cy="51.0" r="2.45" fill="#6dd5a0" stroke="#45574d" stroke-width="0.8"/>
<circle cx="333.5" cy="51.5" r="2.45" fill="#6dd5a0" stroke="#45574d" stroke-width="0.8"/>
<circle cx="335.0" cy="53.5" r="2.45" fill="#6dd5a0" stroke="#45574d" stroke-width="0.8"/>
<circle cx="337.0" cy="53.0" r="2.45" fill="#6dd5a0" stroke="#45574d" stroke-width="0.8"/>
<circle cx="339.5" cy="52.5" r="2.45" fill="#6dd5a0" stroke="#45574d" stroke-width="0.8"/>
<circle cx="343.0" cy="52.0" r="2.45" fill="#6dd5a0" stroke="#45574d" stroke-width="0.8"/>
<circle cx="345.5" cy="52.5" r="2.45" fill="#6dd5a0" stroke="#45574d" stroke-width="0.8"/>
<circle cx="349.5" cy="51.5" r="2.45" fill="#6dd5a0" stroke="#45574d" stroke-width="0.8"/>
<circle cx="353.5" cy="53.0" r="2.45" fill="#6dd5a0" stroke="#45574d" stroke-width="0.8"/>
<circle cx="357.5" cy="51.0" r="2.45" fill="#6dd5a0" stroke="#45574d" stroke-width="0.8"/>
<circle cx="359.5" cy="53.0" r="2.45" fill="#6dd5a0" stroke="#45574d" stroke-width="0.8"/>
<circle cx="361.5" cy="50.5" r="2.45" fill="#6dd5a0" stroke="#45574d" stroke-width="0.8"/>
<circle cx="363.5" cy="51.0" r="2.45" fill="#6dd5a0" stroke="#45574d" stroke-width="0.8"/>
<circle cx="365.5" cy="53.0" r="2.45" fill="#6dd5a0" stroke="#45574d" stroke-width="0.8"/>
<circle cx="369.0" cy="50.5" r="2.45" fill="#6dd5a0" stroke="#45574d" stroke-width="0.8"/>
<circle cx="371.0" cy="51.0" r="2.45" fill="#6dd5a0" stroke="#45574d" stroke-width="0.8"/>
<circle cx="374.5" cy="51.0" r="2.45" fill="#6dd5a0" stroke="#45574d" stroke-width="0.8"/>
<circle cx="378.0" cy="50.0" r="2.45" fill="#6dd5a0" stroke="#45574d" stroke-width="0.8"/>
<circle cx="380.2" cy="52.5" r="2.45" fill="#6dd5a0" stroke="#45574d" stroke-width="0.8"/>
<circle cx="382.2" cy="51.0" r="2.45" fill="#6dd5a0" stroke="#45574d" stroke-width="0.8"/>
<circle cx="410.2" cy="51.0" r="2.45" fill="#6dd5a0" stroke="#45574d" stroke-width="0.8"/>
<circle cx="411.3" cy="52.1" r="2.45" fill="#6dd5a0" stroke="#45574d" stroke-width="0.8"/>
<circle cx="412.4" cy="51.7" r="2.45" fill="#6dd5a0" stroke="#45574d" stroke-width="0.8"/>
<circle cx="413.6" cy="50.2" r="2.45" fill="#6dd5a0" stroke="#45574d" stroke-width="0.8"/>
<circle cx="415.0" cy="50.1" r="2.45" fill="#6dd5a0" stroke="#45574d" stroke-width="0.8"/>
<circle cx="416.3" cy="50.2" r="2.45" fill="#6dd5a0" stroke="#45574d" stroke-width="0.8"/>
<circle cx="417.3" cy="51.4" r="2.45" fill="#6dd5a0" stroke="#45574d" stroke-width="0.8"/>
<circle cx="418.9" cy="50.4" r="2.45" fill="#6dd5a0" stroke="#45574d" stroke-width="0.8"/>
<circle cx="420.1" cy="52.0" r="2.45" fill="#6dd5a0" stroke="#45574d" stroke-width="0.8"/>
<circle cx="421.7" cy="51.8" r="2.45" fill="#6dd5a0" stroke="#45574d" stroke-width="0.8"/>
<circle cx="423.0" cy="53.1" r="2.45" fill="#6dd5a0" stroke="#45574d" stroke-width="0.8"/>
<circle cx="424.0" cy="52.7" r="2.45" fill="#6dd5a0" stroke="#45574d" stroke-width="0.8"/>
<circle cx="425.2" cy="50.5" r="2.45" fill="#6dd5a0" stroke="#45574d" stroke-width="0.8"/>
<circle cx="426.3" cy="51.0" r="2.45" fill="#6dd5a0" stroke="#45574d" stroke-width="0.8"/>
<circle cx="427.9" cy="50.6" r="2.45" fill="#6dd5a0" stroke="#45574d" stroke-width="0.8"/>
<circle cx="429.3" cy="52.0" r="2.45" fill="#6dd5a0" stroke="#45574d" stroke-width="0.8"/>
<circle cx="430.6" cy="51.8" r="2.45" fill="#6dd5a0" stroke="#45574d" stroke-width="0.8"/>
<circle cx="431.6" cy="50.2" r="2.45" fill="#6dd5a0" stroke="#45574d" stroke-width="0.8"/>
<circle cx="432.8" cy="52.2" r="2.45" fill="#6dd5a0" stroke="#45574d" stroke-width="0.8"/>
<circle cx="434.1" cy="51.0" r="2.45" fill="#6dd5a0" stroke="#45574d" stroke-width="0.8"/>
<circle cx="435.5" cy="51.5" r="2.45" fill="#6dd5a0" stroke="#45574d" stroke-width="0.8"/>
<circle cx="436.7" cy="52.5" r="2.45" fill="#6dd5a0" stroke="#45574d" stroke-width="0.8"/>
<circle cx="438.2" cy="50.8" r="2.45" fill="#6dd5a0" stroke="#45574d" stroke-width="0.8"/>
<circle cx="439.6" cy="51.7" r="2.45" fill="#6dd5a0" stroke="#45574d" stroke-width="0.8"/>
<circle cx="441.2" cy="52.3" r="2.45" fill="#6dd5a0" stroke="#45574d" stroke-width="0.8"/>
<circle cx="442.4" cy="53.1" r="2.45" fill="#6dd5a0" stroke="#45574d" stroke-width="0.8"/>
<circle cx="443.5" cy="51.3" r="2.45" fill="#6dd5a0" stroke="#45574d" stroke-width="0.8"/>
<circle cx="445.0" cy="50.5" r="2.45" fill="#6dd5a0" stroke="#45574d" stroke-width="0.8"/>
<circle cx="446.3" cy="50.1" r="2.45" fill="#6dd5a0" stroke="#45574d" stroke-width="0.8"/>
<circle cx="447.8" cy="52.4" r="2.45" fill="#6dd5a0" stroke="#45574d" stroke-width="0.8"/>
<circle cx="449.2" cy="52.8" r="2.45" fill="#6dd5a0" stroke="#45574d" stroke-width="0.8"/>
<circle cx="450.4" cy="52.2" r="2.45" fill="#6dd5a0" stroke="#45574d" stroke-width="0.8"/>
<circle cx="451.8" cy="51.9" r="2.45" fill="#6dd5a0" stroke="#45574d" stroke-width="0.8"/>
<circle cx="453.2" cy="52.7" r="2.45" fill="#6dd5a0" stroke="#45574d" stroke-width="0.8"/>
<circle cx="454.8" cy="51.5" r="2.45" fill="#6dd5a0" stroke="#45574d" stroke-width="0.8"/>
<circle cx="456.3" cy="50.2" r="2.45" fill="#6dd5a0" stroke="#45574d" stroke-width="0.8"/>
<circle cx="457.8" cy="52.1" r="2.45" fill="#6dd5a0" stroke="#45574d" stroke-width="0.8"/>
<circle cx="459.5" cy="52.6" r="2.45" fill="#6dd5a0" stroke="#45574d" stroke-width="0.8"/>
<circle cx="460.7" cy="51.2" r="2.45" fill="#6dd5a0" stroke="#45574d" stroke-width="0.8"/>
<circle cx="462.1" cy="50.1" r="2.45" fill="#6dd5a0" stroke="#45574d" stroke-width="0.8"/>
<circle cx="463.5" cy="50.5" r="2.45" fill="#6dd5a0" stroke="#45574d" stroke-width="0.8"/>
<circle cx="464.5" cy="50.2" r="2.45" fill="#6dd5a0" stroke="#45574d" stroke-width="0.8"/>
<circle cx="466.1" cy="50.4" r="2.45" fill="#6dd5a0" stroke="#45574d" stroke-width="0.8"/>
<circle cx="467.3" cy="51.3" r="2.45" fill="#6dd5a0" stroke="#45574d" stroke-width="0.8"/>
<circle cx="468.9" cy="50.3" r="2.45" fill="#6dd5a0" stroke="#45574d" stroke-width="0.8"/>
<circle cx="470.2" cy="51.8" r="2.45" fill="#6dd5a0" stroke="#45574d" stroke-width="0.8"/>
<circle cx="471.8" cy="52.6" r="2.45" fill="#6dd5a0" stroke="#45574d" stroke-width="0.8"/>
<circle cx="473.4" cy="50.9" r="2.45" fill="#6dd5a0" stroke="#45574d" stroke-width="0.8"/>
<circle cx="474.7" cy="51.1" r="2.45" fill="#6dd5a0" stroke="#45574d" stroke-width="0.8"/>
<circle cx="476.3" cy="53.1" r="2.45" fill="#6dd5a0" stroke="#45574d" stroke-width="0.8"/>
<circle cx="477.4" cy="50.6" r="2.45" fill="#6dd5a0" stroke="#45574d" stroke-width="0.8"/>
<circle cx="478.6" cy="50.7" r="2.45" fill="#6dd5a0" stroke="#45574d" stroke-width="0.8"/>
<circle cx="479.9" cy="51.9" r="2.45" fill="#6dd5a0" stroke="#45574d" stroke-width="0.8"/>
<circle cx="481.1" cy="50.0" r="2.45" fill="#6dd5a0" stroke="#45574d" stroke-width="0.8"/>
<circle cx="482.4" cy="51.2" r="2.45" fill="#6dd5a0" stroke="#45574d" stroke-width="0.8"/>
<circle cx="483.8" cy="53.0" r="2.45" fill="#6dd5a0" stroke="#45574d" stroke-width="0.8"/>
<circle cx="485.3" cy="51.6" r="2.45" fill="#6dd5a0" stroke="#45574d" stroke-width="0.8"/>
<circle cx="486.7" cy="52.2" r="2.45" fill="#6dd5a0" stroke="#45574d" stroke-width="0.8"/>
<circle cx="487.7" cy="52.9" r="2.45" fill="#6dd5a0" stroke="#45574d" stroke-width="0.8"/>
<circle cx="489.3" cy="52.8" r="2.45" fill="#6dd5a0" stroke="#45574d" stroke-width="0.8"/>
<circle cx="490.9" cy="51.3" r="2.45" fill="#6dd5a0" stroke="#45574d" stroke-width="0.8"/>
<circle cx="492.1" cy="50.3" r="2.45" fill="#6dd5a0" stroke="#45574d" stroke-width="0.8"/>
<circle cx="493.6" cy="50.2" r="2.45" fill="#6dd5a0" stroke="#45574d" stroke-width="0.8"/>
<circle cx="494.6" cy="50.7" r="2.45" fill="#6dd5a0" stroke="#45574d" stroke-width="0.8"/>
<circle cx="495.7" cy="51.1" r="2.45" fill="#6dd5a0" stroke="#45574d" stroke-width="0.8"/>
<circle cx="496.8" cy="50.0" r="2.45" fill="#6dd5a0" stroke="#45574d" stroke-width="0.8"/>
<circle cx="497.9" cy="50.3" r="2.45" fill="#6dd5a0" stroke="#45574d" stroke-width="0.8"/>
<circle cx="499.1" cy="50.1" r="2.45" fill="#6dd5a0" stroke="#45574d" stroke-width="0.8"/>
<circle cx="500.7" cy="52.0" r="2.45" fill="#6dd5a0" stroke="#45574d" stroke-width="0.8"/>
<circle cx="501.8" cy="50.8" r="2.45" fill="#6dd5a0" stroke="#45574d" stroke-width="0.8"/>
<circle cx="503.1" cy="51.2" r="2.45" fill="#6dd5a0" stroke="#45574d" stroke-width="0.8"/>
<circle cx="504.2" cy="52.7" r="2.45" fill="#6dd5a0" stroke="#45574d" stroke-width="0.8"/>
<circle cx="505.9" cy="51.5" r="2.45" fill="#6dd5a0" stroke="#45574d" stroke-width="0.8"/>
<circle cx="507.2" cy="50.3" r="2.45" fill="#6dd5a0" stroke="#45574d" stroke-width="0.8"/>
<circle cx="508.3" cy="51.1" r="2.45" fill="#6dd5a0" stroke="#45574d" stroke-width="0.8"/>
<circle cx="509.5" cy="52.7" r="2.45" fill="#6dd5a0" stroke="#45574d" stroke-width="0.8"/>
<circle cx="510.6" cy="50.1" r="2.45" fill="#6dd5a0" stroke="#45574d" stroke-width="0.8"/>
<circle cx="512.2" cy="51.7" r="2.45" fill="#6dd5a0" stroke="#45574d" stroke-width="0.8"/>
<circle cx="513.3" cy="51.7" r="2.45" fill="#6dd5a0" stroke="#45574d" stroke-width="0.8"/>
<circle cx="514.4" cy="51.7" r="2.45" fill="#6dd5a0" stroke="#45574d" stroke-width="0.8"/>
<circle cx="516.1" cy="52.8" r="2.45" fill="#6dd5a0" stroke="#45574d" stroke-width="0.8"/>
<circle cx="517.5" cy="50.8" r="2.45" fill="#6dd5a0" stroke="#45574d" stroke-width="0.8"/>
<circle cx="518.8" cy="50.5" r="2.45" fill="#6dd5a0" stroke="#45574d" stroke-width="0.8"/>
<circle cx="520.3" cy="51.7" r="2.45" fill="#6dd5a0" stroke="#45574d" stroke-width="0.8"/>
<circle cx="521.9" cy="51.1" r="2.45" fill="#6dd5a0" stroke="#45574d" stroke-width="0.8"/>
<circle cx="523.0" cy="52.6" r="2.45" fill="#6dd5a0" stroke="#45574d" stroke-width="0.8"/>
<circle cx="524.7" cy="52.7" r="2.45" fill="#6dd5a0" stroke="#45574d" stroke-width="0.8"/>
<circle cx="526.3" cy="52.6" r="2.45" fill="#6dd5a0" stroke="#45574d" stroke-width="0.8"/>
<circle cx="527.8" cy="50.7" r="2.45" fill="#6dd5a0" stroke="#45574d" stroke-width="0.8"/>
<circle cx="529.2" cy="51.1" r="2.45" fill="#6dd5a0" stroke="#45574d" stroke-width="0.8"/>
<circle cx="530.2" cy="50.1" r="2.45" fill="#6dd5a0" stroke="#45574d" stroke-width="0.8"/>
<circle cx="531.4" cy="50.8" r="2.45" fill="#6dd5a0" stroke="#45574d" stroke-width="0.8"/>
<circle cx="557.2" cy="53.1" r="2.45" fill="#6dd5a0" stroke="#45574d" stroke-width="0.8"/>
<circle cx="558.5" cy="53.0" r="2.45" fill="#6dd5a0" stroke="#45574d" stroke-width="0.8"/>
<circle cx="560.2" cy="53.1" r="2.45" fill="#6dd5a0" stroke="#45574d" stroke-width="0.8"/>
<circle cx="561.5" cy="50.7" r="2.45" fill="#6dd5a0" stroke="#45574d" stroke-width="0.8"/>
<circle cx="562.6" cy="50.6" r="2.45" fill="#6dd5a0" stroke="#45574d" stroke-width="0.8"/>
<circle cx="563.8" cy="52.0" r="2.45" fill="#6dd5a0" stroke="#45574d" stroke-width="0.8"/>
<circle cx="565.4" cy="52.7" r="2.45" fill="#6dd5a0" stroke="#45574d" stroke-width="0.8"/>
<circle cx="566.7" cy="52.1" r="2.45" fill="#6dd5a0" stroke="#45574d" stroke-width="0.8"/>
<circle cx="568.3" cy="50.3" r="2.45" fill="#6dd5a0" stroke="#45574d" stroke-width="0.8"/>
<circle cx="569.7" cy="52.9" r="2.45" fill="#6dd5a0" stroke="#45574d" stroke-width="0.8"/>
<circle cx="571.3" cy="52.4" r="2.45" fill="#6dd5a0" stroke="#45574d" stroke-width="0.8"/>
<circle cx="572.6" cy="50.6" r="2.45" fill="#6dd5a0" stroke="#45574d" stroke-width="0.8"/>
<circle cx="574.2" cy="51.1" r="2.45" fill="#6dd5a0" stroke="#45574d" stroke-width="0.8"/>
<circle cx="575.7" cy="53.1" r="2.45" fill="#6dd5a0" stroke="#45574d" stroke-width="0.8"/>
<circle cx="577.0" cy="51.3" r="2.45" fill="#6dd5a0" stroke="#45574d" stroke-width="0.8"/>
<circle cx="578.7" cy="52.3" r="2.45" fill="#6dd5a0" stroke="#45574d" stroke-width="0.8"/>
<circle cx="579.8" cy="50.4" r="2.45" fill="#6dd5a0" stroke="#45574d" stroke-width="0.8"/>
<circle cx="580.9" cy="52.9" r="2.45" fill="#6dd5a0" stroke="#45574d" stroke-width="0.8"/>
<circle cx="582.5" cy="50.5" r="2.45" fill="#6dd5a0" stroke="#45574d" stroke-width="0.8"/>
<circle cx="584.1" cy="53.1" r="2.45" fill="#6dd5a0" stroke="#45574d" stroke-width="0.8"/>
<circle cx="585.5" cy="51.1" r="2.45" fill="#6dd5a0" stroke="#45574d" stroke-width="0.8"/>
<circle cx="586.9" cy="50.4" r="2.45" fill="#6dd5a0" stroke="#45574d" stroke-width="0.8"/>
<circle cx="587.9" cy="53.1" r="2.45" fill="#6dd5a0" stroke="#45574d" stroke-width="0.8"/>
<circle cx="589.4" cy="51.7" r="2.45" fill="#6dd5a0" stroke="#45574d" stroke-width="0.8"/>
<circle cx="591.0" cy="51.4" r="2.45" fill="#6dd5a0" stroke="#45574d" stroke-width="0.8"/>
<circle cx="592.6" cy="52.6" r="2.45" fill="#6dd5a0" stroke="#45574d" stroke-width="0.8"/>
<circle cx="593.8" cy="50.8" r="2.45" fill="#6dd5a0" stroke="#45574d" stroke-width="0.8"/>
<circle cx="595.0" cy="50.8" r="2.45" fill="#6dd5a0" stroke="#45574d" stroke-width="0.8"/>
<circle cx="596.4" cy="50.8" r="2.45" fill="#6dd5a0" stroke="#45574d" stroke-width="0.8"/>
<circle cx="597.7" cy="50.4" r="2.45" fill="#6dd5a0" stroke="#45574d" stroke-width="0.8"/>
<circle cx="599.3" cy="51.1" r="2.45" fill="#6dd5a0" stroke="#45574d" stroke-width="0.8"/>
<circle cx="600.6" cy="51.9" r="2.45" fill="#6dd5a0" stroke="#45574d" stroke-width="0.8"/>
<circle cx="602.3" cy="51.3" r="2.45" fill="#6dd5a0" stroke="#45574d" stroke-width="0.8"/>
<circle cx="603.9" cy="51.6" r="2.45" fill="#6dd5a0" stroke="#45574d" stroke-width="0.8"/>
<circle cx="605.3" cy="51.7" r="2.45" fill="#6dd5a0" stroke="#45574d" stroke-width="0.8"/>
<circle cx="606.3" cy="51.4" r="2.45" fill="#6dd5a0" stroke="#45574d" stroke-width="0.8"/>
<circle cx="607.4" cy="50.0" r="2.45" fill="#6dd5a0" stroke="#45574d" stroke-width="0.8"/>
<circle cx="609.0" cy="50.6" r="2.45" fill="#6dd5a0" stroke="#45574d" stroke-width="0.8"/>
<circle cx="610.3" cy="52.3" r="2.45" fill="#6dd5a0" stroke="#45574d" stroke-width="0.8"/>
<circle cx="611.7" cy="51.0" r="2.45" fill="#6dd5a0" stroke="#45574d" stroke-width="0.8"/>
<circle cx="613.1" cy="51.8" r="2.45" fill="#6dd5a0" stroke="#45574d" stroke-width="0.8"/>
<circle cx="614.6" cy="50.3" r="2.45" fill="#6dd5a0" stroke="#45574d" stroke-width="0.8"/>
<circle cx="616.0" cy="50.8" r="2.45" fill="#6dd5a0" stroke="#45574d" stroke-width="0.8"/>
<circle cx="617.2" cy="52.5" r="2.45" fill="#6dd5a0" stroke="#45574d" stroke-width="0.8"/>
<circle cx="618.6" cy="51.8" r="2.45" fill="#6dd5a0" stroke="#45574d" stroke-width="0.8"/>
<circle cx="620.1" cy="52.9" r="2.45" fill="#6dd5a0" stroke="#45574d" stroke-width="0.8"/>
<circle cx="621.4" cy="52.0" r="2.45" fill="#6dd5a0" stroke="#45574d" stroke-width="0.8"/>
<circle cx="622.8" cy="51.6" r="2.45" fill="#6dd5a0" stroke="#45574d" stroke-width="0.8"/>
<circle cx="624.2" cy="51.4" r="2.45" fill="#6dd5a0" stroke="#45574d" stroke-width="0.8"/>
<circle cx="625.6" cy="51.5" r="2.45" fill="#6dd5a0" stroke="#45574d" stroke-width="0.8"/>
<circle cx="627.3" cy="52.2" r="2.45" fill="#6dd5a0" stroke="#45574d" stroke-width="0.8"/>
<circle cx="628.9" cy="53.0" r="2.45" fill="#6dd5a0" stroke="#45574d" stroke-width="0.8"/>
<circle cx="630.1" cy="51.8" r="2.45" fill="#6dd5a0" stroke="#45574d" stroke-width="0.8"/>
<circle cx="631.7" cy="52.7" r="2.45" fill="#6dd5a0" stroke="#45574d" stroke-width="0.8"/>
<circle cx="632.8" cy="50.4" r="2.45" fill="#6dd5a0" stroke="#45574d" stroke-width="0.8"/>
<circle cx="634.1" cy="50.2" r="2.45" fill="#6dd5a0" stroke="#45574d" stroke-width="0.8"/>
<circle cx="635.3" cy="50.2" r="2.45" fill="#6dd5a0" stroke="#45574d" stroke-width="0.8"/>
<circle cx="636.8" cy="52.5" r="2.45" fill="#6dd5a0" stroke="#45574d" stroke-width="0.8"/>
<circle cx="638.4" cy="50.5" r="2.45" fill="#6dd5a0" stroke="#45574d" stroke-width="0.8"/>
<circle cx="639.9" cy="52.1" r="2.45" fill="#6dd5a0" stroke="#45574d" stroke-width="0.8"/>
<circle cx="641.0" cy="52.8" r="2.45" fill="#6dd5a0" stroke="#45574d" stroke-width="0.8"/>
<circle cx="642.7" cy="50.7" r="2.45" fill="#6dd5a0" stroke="#45574d" stroke-width="0.8"/>
<circle cx="644.3" cy="51.3" r="2.45" fill="#6dd5a0" stroke="#45574d" stroke-width="0.8"/>
<circle cx="645.7" cy="53.2" r="2.45" fill="#6dd5a0" stroke="#45574d" stroke-width="0.8"/>
<circle cx="647.3" cy="50.5" r="2.45" fill="#6dd5a0" stroke="#45574d" stroke-width="0.8"/>
<circle cx="648.6" cy="51.6" r="2.45" fill="#6dd5a0" stroke="#45574d" stroke-width="0.8"/>
<circle cx="649.8" cy="50.6" r="2.45" fill="#6dd5a0" stroke="#45574d" stroke-width="0.8"/>
<circle cx="651.0" cy="52.3" r="2.45" fill="#6dd5a0" stroke="#45574d" stroke-width="0.8"/>
<circle cx="652.0" cy="51.8" r="2.45" fill="#6dd5a0" stroke="#45574d" stroke-width="0.8"/>
<circle cx="653.4" cy="50.1" r="2.45" fill="#6dd5a0" stroke="#45574d" stroke-width="0.8"/>
<circle cx="654.6" cy="52.0" r="2.45" fill="#6dd5a0" stroke="#45574d" stroke-width="0.8"/>
<circle cx="655.9" cy="50.2" r="2.45" fill="#6dd5a0" stroke="#45574d" stroke-width="0.8"/>
<circle cx="657.6" cy="52.5" r="2.45" fill="#6dd5a0" stroke="#45574d" stroke-width="0.8"/>
<circle cx="659.3" cy="50.3" r="2.45" fill="#6dd5a0" stroke="#45574d" stroke-width="0.8"/>
<circle cx="660.5" cy="50.1" r="2.45" fill="#6dd5a0" stroke="#45574d" stroke-width="0.8"/>
<circle cx="662.0" cy="50.9" r="2.45" fill="#6dd5a0" stroke="#45574d" stroke-width="0.8"/>
<circle cx="663.1" cy="51.4" r="2.45" fill="#6dd5a0" stroke="#45574d" stroke-width="0.8"/>
<circle cx="664.8" cy="52.6" r="2.45" fill="#6dd5a0" stroke="#45574d" stroke-width="0.8"/>
<circle cx="666.0" cy="50.5" r="2.45" fill="#6dd5a0" stroke="#45574d" stroke-width="0.8"/>
<circle cx="667.6" cy="51.8" r="2.45" fill="#6dd5a0" stroke="#45574d" stroke-width="0.8"/>
<circle cx="669.1" cy="50.3" r="2.45" fill="#6dd5a0" stroke="#45574d" stroke-width="0.8"/>
<circle cx="670.1" cy="52.2" r="2.45" fill="#6dd5a0" stroke="#45574d" stroke-width="0.8"/>
<circle cx="671.4" cy="50.2" r="2.45" fill="#6dd5a0" stroke="#45574d" stroke-width="0.8"/>
<circle cx="673.1" cy="52.0" r="2.45" fill="#6dd5a0" stroke="#45574d" stroke-width="0.8"/>
<circle cx="674.6" cy="50.3" r="2.45" fill="#6dd5a0" stroke="#45574d" stroke-width="0.8"/>
<circle cx="676.2" cy="50.2" r="2.45" fill="#6dd5a0" stroke="#45574d" stroke-width="0.8"/>
<circle cx="677.8" cy="51.5" r="2.45" fill="#6dd5a0" stroke="#45574d" stroke-width="0.8"/>
<circle cx="679.1" cy="51.8" r="2.45" fill="#6dd5a0" stroke="#45574d" stroke-width="0.8"/>
<circle cx="498.5" cy="44.1" r="2.45" fill="#6dd5a0" stroke="#45574d" stroke-width="0.8"/>
<circle cx="509.4" cy="44.9" r="2.45" fill="#6dd5a0" stroke="#45574d" stroke-width="0.8"/>
<circle cx="482.8" cy="57.4" r="2.45" fill="#6dd5a0" stroke="#45574d" stroke-width="0.8"/>
<circle cx="449.6" cy="54.9" r="2.45" fill="#6dd5a0" stroke="#45574d" stroke-width="0.8"/>
<circle cx="433.5" cy="54.0" r="2.45" fill="#6dd5a0" stroke="#45574d" stroke-width="0.8"/>
<circle cx="420.2" cy="48.7" r="2.45" fill="#6dd5a0" stroke="#45574d" stroke-width="0.8"/>
<circle cx="435.4" cy="49.2" r="2.45" fill="#6dd5a0" stroke="#45574d" stroke-width="0.8"/>
<circle cx="465.0" cy="54.5" r="2.45" fill="#6dd5a0" stroke="#45574d" stroke-width="0.8"/>
<circle cx="512.0" cy="54.0" r="2.45" fill="#6dd5a0" stroke="#45574d" stroke-width="0.8"/>
<circle cx="388.3" cy="59.7" r="1.25" fill="#000"/>
<circle cx="396.7" cy="59.7" r="1.25" fill="#000"/>
<circle cx="405.2" cy="59.7" r="1.25" fill="#000"/>
<circle cx="536.3" cy="59.5" r="1.25" fill="#000"/>
<circle cx="544.7" cy="59.5" r="1.25" fill="#000"/>
<circle cx="553.2" cy="59.5" r="1.25" fill="#000"/>
<rect x="261.0" y="8.5" width="421.5" height="116.4" fill="none" stroke="#1a1a1a" stroke-width="1.3"/>
<line x1="256.5" y1="124.90" x2="261.0" y2="124.90" stroke="#1a1a1a" stroke-width="1.1"/>
<text x="254.70" y="128.90" font-size="11.3" font-weight="bold" fill="#000" text-anchor="end" >0</text>
<line x1="256.5" y1="101.62" x2="261.0" y2="101.62" stroke="#1a1a1a" stroke-width="1.1"/>
<text x="254.70" y="105.62" font-size="11.3" font-weight="bold" fill="#000" text-anchor="end" >4</text>
<line x1="256.5" y1="78.34" x2="261.0" y2="78.34" stroke="#1a1a1a" stroke-width="1.1"/>
<text x="254.70" y="82.34" font-size="11.3" font-weight="bold" fill="#000" text-anchor="end" >8</text>
<line x1="256.5" y1="55.06" x2="261.0" y2="55.06" stroke="#1a1a1a" stroke-width="1.1"/>
<text x="254.70" y="59.06" font-size="11.3" font-weight="bold" fill="#000" text-anchor="end" >12</text>
<line x1="256.5" y1="31.78" x2="261.0" y2="31.78" stroke="#1a1a1a" stroke-width="1.1"/>
<text x="254.70" y="35.78" font-size="11.3" font-weight="bold" fill="#000" text-anchor="end" >16</text>
<line x1="256.5" y1="8.50" x2="261.0" y2="8.50" stroke="#1a1a1a" stroke-width="1.1"/>
<text x="254.70" y="12.50" font-size="11.3" font-weight="bold" fill="#000" text-anchor="end" >20</text>
<line x1="258.5" y1="113.26" x2="261.0" y2="113.26" stroke="#1a1a1a" stroke-width="1"/>
<line x1="258.5" y1="89.98" x2="261.0" y2="89.98" stroke="#1a1a1a" stroke-width="1"/>
<line x1="258.5" y1="66.70" x2="261.0" y2="66.70" stroke="#1a1a1a" stroke-width="1"/>
<line x1="258.5" y1="43.42" x2="261.0" y2="43.42" stroke="#1a1a1a" stroke-width="1"/>
<line x1="258.5" y1="20.14" x2="261.0" y2="20.14" stroke="#1a1a1a" stroke-width="1"/>
<text x="263.29" y="86.50" font-size="11.1" font-weight="bold" fill="#77b82b" textLength="130.15" lengthAdjust="spacingAndGlyphs">Starting period (10 days)</text>
<text x="427.69" y="86.20" font-size="11.1" font-weight="bold" fill="#77b82b" textLength="89.45" lengthAdjust="spacingAndGlyphs">Stabilized period</text>
<text x="570.69" y="85.90" font-size="11.1" font-weight="bold" fill="#77b82b" textLength="103.85" lengthAdjust="spacingAndGlyphs">Water production at</text>
<text x="623.6" y="100.6" font-size="11.05" font-weight="bold" fill="#77b82b" text-anchor="middle">300 m<tspan font-size="7" dy="-4.2">3</tspan><tspan dy="4.2">/d</tspan></text>
<line x1="569.8" y1="82.4" x2="550.0" y2="65.6" stroke="#77b82b" stroke-width="1.3"/>
<polygon points="547.2,63.0 553.6,65.3 550.2,69.2" fill="#77b82b"/>
<text transform="translate(234.4,133.6) rotate(-90)" font-size="11.65" font-weight="bold" fill="#000">Production yield (m<tspan font-size="7.3" dy="-4.4">3</tspan><tspan dy="4.4"> h</tspan><tspan font-size="7.3" dy="-4.4">-1</tspan><tspan dy="4.4">)</tspan></text>
<rect x="261.00" y="149.4" width="24.50" height="116.1" fill="#f6f8fa"/>
<rect x="285.50" y="149.4" width="24.77" height="116.1" fill="#f6f8fa"/>
<rect x="310.27" y="149.4" width="24.77" height="116.1" fill="#f6f8fa"/>
<rect x="335.03" y="149.4" width="24.77" height="116.1" fill="#f6f8fa"/>
<rect x="359.80" y="149.4" width="24.77" height="116.1" fill="#f6f8fa"/>
<rect x="409.33" y="149.4" width="24.77" height="116.1" fill="#f1f5fb"/>
<rect x="434.10" y="149.4" width="24.77" height="116.1" fill="#f1f5fb"/>
<rect x="458.87" y="149.4" width="24.77" height="116.1" fill="#f1f5fb"/>
<rect x="483.64" y="149.4" width="24.77" height="116.1" fill="#f1f5fb"/>
<rect x="508.40" y="149.4" width="24.77" height="116.1" fill="#f1f5fb"/>
<rect x="557.94" y="149.4" width="24.77" height="116.1" fill="#fcfbf8"/>
<rect x="582.70" y="149.4" width="24.77" height="116.1" fill="#fcfbf8"/>
<rect x="607.47" y="149.4" width="24.77" height="116.1" fill="#fcfbf8"/>
<rect x="632.24" y="149.4" width="24.77" height="116.1" fill="#fcfbf8"/>
<rect x="657.00" y="149.4" width="25.50" height="116.1" fill="#fcfbf8"/>
<line x1="285.50" y1="149.4" x2="285.50" y2="265.5" stroke="#777777" stroke-width="1"/>
<line x1="310.27" y1="149.4" x2="310.27" y2="265.5" stroke="#777777" stroke-width="1"/>
<line x1="335.03" y1="149.4" x2="335.03" y2="265.5" stroke="#777777" stroke-width="1"/>
<line x1="359.80" y1="149.4" x2="359.80" y2="265.5" stroke="#777777" stroke-width="1"/>
<line x1="384.57" y1="149.4" x2="384.57" y2="265.5" stroke="#777777" stroke-width="1"/>
<line x1="409.33" y1="149.4" x2="409.33" y2="265.5" stroke="#777777" stroke-width="1"/>
<line x1="434.10" y1="149.4" x2="434.10" y2="265.5" stroke="#777777" stroke-width="1"/>
<line x1="458.87" y1="149.4" x2="458.87" y2="265.5" stroke="#777777" stroke-width="1"/>
<line x1="483.64" y1="149.4" x2="483.64" y2="265.5" stroke="#777777" stroke-width="1"/>
<line x1="508.40" y1="149.4" x2="508.40" y2="265.5" stroke="#777777" stroke-width="1"/>
<line x1="533.17" y1="149.4" x2="533.17" y2="265.5" stroke="#777777" stroke-width="1"/>
<line x1="557.94" y1="149.4" x2="557.94" y2="265.5" stroke="#777777" stroke-width="1"/>
<line x1="582.70" y1="149.4" x2="582.70" y2="265.5" stroke="#777777" stroke-width="1"/>
<line x1="607.47" y1="149.4" x2="607.47" y2="265.5" stroke="#777777" stroke-width="1"/>
<line x1="632.24" y1="149.4" x2="632.24" y2="265.5" stroke="#777777" stroke-width="1"/>
<line x1="657.00" y1="149.4" x2="657.00" y2="265.5" stroke="#777777" stroke-width="1"/>
<circle cx="262.2" cy="230.2" r="2.55" fill="#7fc8f5" stroke="#3c4852" stroke-width="0.8"/>
<circle cx="263.3" cy="216.6" r="2.55" fill="#7fc8f5" stroke="#3c4852" stroke-width="0.8"/>
<circle cx="265.6" cy="219.2" r="2.55" fill="#7fc8f5" stroke="#3c4852" stroke-width="0.8"/>
<circle cx="266.5" cy="205.6" r="2.55" fill="#7fc8f5" stroke="#3c4852" stroke-width="0.8"/>
<circle cx="268.4" cy="211.6" r="2.55" fill="#7fc8f5" stroke="#3c4852" stroke-width="0.8"/>
<circle cx="269.4" cy="205.6" r="2.55" fill="#7fc8f5" stroke="#3c4852" stroke-width="0.8"/>
<circle cx="271.7" cy="205.6" r="2.55" fill="#7fc8f5" stroke="#3c4852" stroke-width="0.8"/>
<circle cx="270.9" cy="222.7" r="2.55" fill="#7fc8f5" stroke="#3c4852" stroke-width="0.8"/>
<circle cx="273.2" cy="226.5" r="2.55" fill="#7fc8f5" stroke="#3c4852" stroke-width="0.8"/>
<circle cx="274.7" cy="217.0" r="2.55" fill="#7fc8f5" stroke="#3c4852" stroke-width="0.8"/>
<circle cx="277.0" cy="210.9" r="2.55" fill="#7fc8f5" stroke="#3c4852" stroke-width="0.8"/>
<circle cx="277.9" cy="214.7" r="2.55" fill="#7fc8f5" stroke="#3c4852" stroke-width="0.8"/>
<circle cx="279.3" cy="197.6" r="2.55" fill="#7fc8f5" stroke="#3c4852" stroke-width="0.8"/>
<circle cx="280.4" cy="200.8" r="2.55" fill="#7fc8f5" stroke="#3c4852" stroke-width="0.8"/>
<circle cx="281.7" cy="204.6" r="2.55" fill="#7fc8f5" stroke="#3c4852" stroke-width="0.8"/>
<circle cx="283.1" cy="200.8" r="2.55" fill="#7fc8f5" stroke="#3c4852" stroke-width="0.8"/>
<circle cx="284.6" cy="197.6" r="2.55" fill="#7fc8f5" stroke="#3c4852" stroke-width="0.8"/>
<circle cx="285.2" cy="189.4" r="2.55" fill="#7fc8f5" stroke="#3c4852" stroke-width="0.8"/>
<circle cx="285.5" cy="243.2" r="2.55" fill="#7fc8f5" stroke="#3c4852" stroke-width="0.8"/>
<circle cx="286.1" cy="235.0" r="2.55" fill="#7fc8f5" stroke="#3c4852" stroke-width="0.8"/>
<circle cx="287.4" cy="233.1" r="2.55" fill="#7fc8f5" stroke="#3c4852" stroke-width="0.8"/>
<circle cx="288.4" cy="228.4" r="2.55" fill="#7fc8f5" stroke="#3c4852" stroke-width="0.8"/>
<circle cx="289.3" cy="225.5" r="2.55" fill="#7fc8f5" stroke="#3c4852" stroke-width="0.8"/>
<circle cx="290.7" cy="223.6" r="2.55" fill="#7fc8f5" stroke="#3c4852" stroke-width="0.8"/>
<circle cx="291.8" cy="221.1" r="2.55" fill="#7fc8f5" stroke="#3c4852" stroke-width="0.8"/>
<circle cx="293.1" cy="218.9" r="2.55" fill="#7fc8f5" stroke="#3c4852" stroke-width="0.8"/>
<circle cx="294.1" cy="217.0" r="2.55" fill="#7fc8f5" stroke="#3c4852" stroke-width="0.8"/>
<circle cx="295.0" cy="214.1" r="2.55" fill="#7fc8f5" stroke="#3c4852" stroke-width="0.8"/>
<circle cx="296.0" cy="210.9" r="2.55" fill="#7fc8f5" stroke="#3c4852" stroke-width="0.8"/>
<circle cx="296.9" cy="210.3" r="2.55" fill="#7fc8f5" stroke="#3c4852" stroke-width="0.8"/>
<circle cx="297.9" cy="226.5" r="2.55" fill="#7fc8f5" stroke="#3c4852" stroke-width="0.8"/>
<circle cx="298.8" cy="227.4" r="2.55" fill="#7fc8f5" stroke="#3c4852" stroke-width="0.8"/>
<circle cx="301.3" cy="219.2" r="2.55" fill="#7fc8f5" stroke="#3c4852" stroke-width="0.8"/>
<circle cx="302.6" cy="217.9" r="2.55" fill="#7fc8f5" stroke="#3c4852" stroke-width="0.8"/>
<circle cx="303.6" cy="213.5" r="2.55" fill="#7fc8f5" stroke="#3c4852" stroke-width="0.8"/>
<circle cx="305.1" cy="210.3" r="2.55" fill="#7fc8f5" stroke="#3c4852" stroke-width="0.8"/>
<circle cx="306.4" cy="202.7" r="2.55" fill="#7fc8f5" stroke="#3c4852" stroke-width="0.8"/>
<circle cx="307.7" cy="200.8" r="2.55" fill="#7fc8f5" stroke="#3c4852" stroke-width="0.8"/>
<circle cx="309.6" cy="198.9" r="2.55" fill="#7fc8f5" stroke="#3c4852" stroke-width="0.8"/>
<circle cx="310.2" cy="237.5" r="2.55" fill="#7fc8f5" stroke="#3c4852" stroke-width="0.8"/>
<circle cx="311.5" cy="228.0" r="2.55" fill="#7fc8f5" stroke="#3c4852" stroke-width="0.8"/>
<circle cx="312.7" cy="231.2" r="2.55" fill="#7fc8f5" stroke="#3c4852" stroke-width="0.8"/>
<circle cx="314.0" cy="226.5" r="2.55" fill="#7fc8f5" stroke="#3c4852" stroke-width="0.8"/>
<circle cx="315.0" cy="224.6" r="2.55" fill="#7fc8f5" stroke="#3c4852" stroke-width="0.8"/>
<circle cx="315.9" cy="221.7" r="2.55" fill="#7fc8f5" stroke="#3c4852" stroke-width="0.8"/>
<circle cx="317.2" cy="218.9" r="2.55" fill="#7fc8f5" stroke="#3c4852" stroke-width="0.8"/>
<circle cx="318.4" cy="217.5" r="2.55" fill="#7fc8f5" stroke="#3c4852" stroke-width="0.8"/>
<circle cx="319.8" cy="213.7" r="2.55" fill="#7fc8f5" stroke="#3c4852" stroke-width="0.8"/>
<circle cx="321.1" cy="210.8" r="2.55" fill="#7fc8f5" stroke="#3c4852" stroke-width="0.8"/>
<circle cx="322.6" cy="230.8" r="2.55" fill="#7fc8f5" stroke="#3c4852" stroke-width="0.8"/>
<circle cx="323.6" cy="224.5" r="2.55" fill="#7fc8f5" stroke="#3c4852" stroke-width="0.8"/>
<circle cx="325.5" cy="221.3" r="2.55" fill="#7fc8f5" stroke="#3c4852" stroke-width="0.8"/>
<circle cx="326.8" cy="217.5" r="2.55" fill="#7fc8f5" stroke="#3c4852" stroke-width="0.8"/>
<circle cx="328.7" cy="214.3" r="2.55" fill="#7fc8f5" stroke="#3c4852" stroke-width="0.8"/>
<circle cx="330.2" cy="185.2" r="2.55" fill="#7fc8f5" stroke="#3c4852" stroke-width="0.8"/>
<circle cx="331.2" cy="197.1" r="2.55" fill="#7fc8f5" stroke="#3c4852" stroke-width="0.8"/>
<circle cx="333.1" cy="199.8" r="2.55" fill="#7fc8f5" stroke="#3c4852" stroke-width="0.8"/>
<circle cx="334.0" cy="204.2" r="2.55" fill="#7fc8f5" stroke="#3c4852" stroke-width="0.8"/>
<circle cx="335.0" cy="197.9" r="2.55" fill="#7fc8f5" stroke="#3c4852" stroke-width="0.8"/>
<circle cx="335.0" cy="218.4" r="2.55" fill="#7fc8f5" stroke="#3c4852" stroke-width="0.8"/>
<circle cx="336.3" cy="215.6" r="2.55" fill="#7fc8f5" stroke="#3c4852" stroke-width="0.8"/>
<circle cx="337.4" cy="212.7" r="2.55" fill="#7fc8f5" stroke="#3c4852" stroke-width="0.8"/>
<circle cx="338.8" cy="209.9" r="2.55" fill="#7fc8f5" stroke="#3c4852" stroke-width="0.8"/>
<circle cx="340.1" cy="206.7" r="2.55" fill="#7fc8f5" stroke="#3c4852" stroke-width="0.8"/>
<circle cx="341.6" cy="204.8" r="2.55" fill="#7fc8f5" stroke="#3c4852" stroke-width="0.8"/>
<circle cx="343.1" cy="201.7" r="2.55" fill="#7fc8f5" stroke="#3c4852" stroke-width="0.8"/>
<circle cx="344.5" cy="199.0" r="2.55" fill="#7fc8f5" stroke="#3c4852" stroke-width="0.8"/>
<circle cx="345.8" cy="195.6" r="2.55" fill="#7fc8f5" stroke="#3c4852" stroke-width="0.8"/>
<circle cx="347.3" cy="214.3" r="2.55" fill="#7fc8f5" stroke="#3c4852" stroke-width="0.8"/>
<circle cx="348.8" cy="214.6" r="2.55" fill="#7fc8f5" stroke="#3c4852" stroke-width="0.8"/>
<circle cx="349.6" cy="210.5" r="2.55" fill="#7fc8f5" stroke="#3c4852" stroke-width="0.8"/>
<circle cx="350.7" cy="207.0" r="2.55" fill="#7fc8f5" stroke="#3c4852" stroke-width="0.8"/>
<circle cx="352.1" cy="204.2" r="2.55" fill="#7fc8f5" stroke="#3c4852" stroke-width="0.8"/>
<circle cx="353.4" cy="201.7" r="2.55" fill="#7fc8f5" stroke="#3c4852" stroke-width="0.8"/>
<circle cx="354.9" cy="201.3" r="2.55" fill="#7fc8f5" stroke="#3c4852" stroke-width="0.8"/>
<circle cx="356.4" cy="199.0" r="2.55" fill="#7fc8f5" stroke="#3c4852" stroke-width="0.8"/>
<circle cx="357.8" cy="195.6" r="2.55" fill="#7fc8f5" stroke="#3c4852" stroke-width="0.8"/>
<circle cx="358.7" cy="193.3" r="2.55" fill="#7fc8f5" stroke="#3c4852" stroke-width="0.8"/>
<circle cx="359.7" cy="212.7" r="2.55" fill="#7fc8f5" stroke="#3c4852" stroke-width="0.8"/>
<circle cx="361.0" cy="208.9" r="2.55" fill="#7fc8f5" stroke="#3c4852" stroke-width="0.8"/>
<circle cx="362.1" cy="205.1" r="2.55" fill="#7fc8f5" stroke="#3c4852" stroke-width="0.8"/>
<circle cx="363.5" cy="201.3" r="2.55" fill="#7fc8f5" stroke="#3c4852" stroke-width="0.8"/>
<circle cx="364.4" cy="197.5" r="2.55" fill="#7fc8f5" stroke="#3c4852" stroke-width="0.8"/>
<circle cx="358.8" cy="194.0" r="2.55" fill="#7fc8f5" stroke="#3c4852" stroke-width="0.8"/>
<circle cx="359.4" cy="198.2" r="2.55" fill="#7fc8f5" stroke="#3c4852" stroke-width="0.8"/>
<circle cx="364.4" cy="195.7" r="2.55" fill="#7fc8f5" stroke="#3c4852" stroke-width="0.8"/>
<circle cx="366.1" cy="199.4" r="2.55" fill="#7fc8f5" stroke="#3c4852" stroke-width="0.8"/>
<circle cx="367.3" cy="191.5" r="2.55" fill="#7fc8f5" stroke="#3c4852" stroke-width="0.8"/>
<circle cx="368.5" cy="195.7" r="2.55" fill="#7fc8f5" stroke="#3c4852" stroke-width="0.8"/>
<circle cx="369.8" cy="184.2" r="2.55" fill="#7fc8f5" stroke="#3c4852" stroke-width="0.8"/>
<circle cx="372.3" cy="205.8" r="2.55" fill="#7fc8f5" stroke="#3c4852" stroke-width="0.8"/>
<circle cx="373.5" cy="203.3" r="2.55" fill="#7fc8f5" stroke="#3c4852" stroke-width="0.8"/>
<circle cx="374.9" cy="200.8" r="2.55" fill="#7fc8f5" stroke="#3c4852" stroke-width="0.8"/>
<circle cx="376.2" cy="198.2" r="2.55" fill="#7fc8f5" stroke="#3c4852" stroke-width="0.8"/>
<circle cx="377.4" cy="197.0" r="2.55" fill="#7fc8f5" stroke="#3c4852" stroke-width="0.8"/>
<circle cx="378.6" cy="192.3" r="2.55" fill="#7fc8f5" stroke="#3c4852" stroke-width="0.8"/>
<circle cx="379.6" cy="184.2" r="2.55" fill="#7fc8f5" stroke="#3c4852" stroke-width="0.8"/>
<circle cx="380.8" cy="179.7" r="2.55" fill="#7fc8f5" stroke="#3c4852" stroke-width="0.8"/>
<circle cx="382.0" cy="171.2" r="2.55" fill="#7fc8f5" stroke="#3c4852" stroke-width="0.8"/>
<circle cx="383.3" cy="169.5" r="2.55" fill="#7fc8f5" stroke="#3c4852" stroke-width="0.8"/>
<circle cx="384.2" cy="171.7" r="2.55" fill="#7fc8f5" stroke="#3c4852" stroke-width="0.8"/>
<circle cx="408.7" cy="225.0" r="2.55" fill="#7fc8f5" stroke="#3c4852" stroke-width="0.8"/>
<circle cx="409.7" cy="222.8" r="2.55" fill="#7fc8f5" stroke="#3c4852" stroke-width="0.8"/>
<circle cx="410.9" cy="219.1" r="2.55" fill="#7fc8f5" stroke="#3c4852" stroke-width="0.8"/>
<circle cx="412.1" cy="214.9" r="2.55" fill="#7fc8f5" stroke="#3c4852" stroke-width="0.8"/>
<circle cx="413.4" cy="213.7" r="2.55" fill="#7fc8f5" stroke="#3c4852" stroke-width="0.8"/>
<circle cx="414.3" cy="220.5" r="2.55" fill="#7fc8f5" stroke="#3c4852" stroke-width="0.8"/>
<circle cx="415.5" cy="212.7" r="2.55" fill="#7fc8f5" stroke="#3c4852" stroke-width="0.8"/>
<circle cx="417.2" cy="211.5" r="2.55" fill="#7fc8f5" stroke="#3c4852" stroke-width="0.8"/>
<circle cx="418.5" cy="210.3" r="2.55" fill="#7fc8f5" stroke="#3c4852" stroke-width="0.8"/>
<circle cx="420.5" cy="207.0" r="2.55" fill="#7fc8f5" stroke="#3c4852" stroke-width="0.8"/>
<circle cx="421.0" cy="227.6" r="2.55" fill="#7fc8f5" stroke="#3c4852" stroke-width="0.8"/>
<circle cx="422.7" cy="225.0" r="2.55" fill="#7fc8f5" stroke="#3c4852" stroke-width="0.8"/>
<circle cx="424.4" cy="224.2" r="2.55" fill="#7fc8f5" stroke="#3c4852" stroke-width="0.8"/>
<circle cx="425.6" cy="220.0" r="2.55" fill="#7fc8f5" stroke="#3c4852" stroke-width="0.8"/>
<circle cx="426.6" cy="216.6" r="2.55" fill="#7fc8f5" stroke="#3c4852" stroke-width="0.8"/>
<circle cx="427.8" cy="215.7" r="2.55" fill="#7fc8f5" stroke="#3c4852" stroke-width="0.8"/>
<circle cx="429.5" cy="217.1" r="2.55" fill="#7fc8f5" stroke="#3c4852" stroke-width="0.8"/>
<circle cx="430.0" cy="210.7" r="2.55" fill="#7fc8f5" stroke="#3c4852" stroke-width="0.8"/>
<circle cx="431.7" cy="209.3" r="2.55" fill="#7fc8f5" stroke="#3c4852" stroke-width="0.8"/>
<circle cx="433.4" cy="208.1" r="2.55" fill="#7fc8f5" stroke="#3c4852" stroke-width="0.8"/>
<circle cx="434.1" cy="225.0" r="2.55" fill="#7fc8f5" stroke="#3c4852" stroke-width="0.8"/>
<circle cx="435.1" cy="222.5" r="2.55" fill="#7fc8f5" stroke="#3c4852" stroke-width="0.8"/>
<circle cx="436.3" cy="220.0" r="2.55" fill="#7fc8f5" stroke="#3c4852" stroke-width="0.8"/>
<circle cx="437.4" cy="217.8" r="2.55" fill="#7fc8f5" stroke="#3c4852" stroke-width="0.8"/>
<circle cx="438.4" cy="215.7" r="2.55" fill="#7fc8f5" stroke="#3c4852" stroke-width="0.8"/>
<circle cx="439.6" cy="213.7" r="2.55" fill="#7fc8f5" stroke="#3c4852" stroke-width="0.8"/>
<circle cx="440.8" cy="211.5" r="2.55" fill="#7fc8f5" stroke="#3c4852" stroke-width="0.8"/>
<circle cx="442.2" cy="210.7" r="2.55" fill="#7fc8f5" stroke="#3c4852" stroke-width="0.8"/>
<circle cx="443.5" cy="209.0" r="2.55" fill="#7fc8f5" stroke="#3c4852" stroke-width="0.8"/>
<circle cx="445.2" cy="209.3" r="2.55" fill="#7fc8f5" stroke="#3c4852" stroke-width="0.8"/>
<circle cx="446.4" cy="223.3" r="2.55" fill="#7fc8f5" stroke="#3c4852" stroke-width="0.8"/>
<circle cx="447.2" cy="220.0" r="2.55" fill="#7fc8f5" stroke="#3c4852" stroke-width="0.8"/>
<circle cx="448.6" cy="216.6" r="2.55" fill="#7fc8f5" stroke="#3c4852" stroke-width="0.8"/>
<circle cx="449.3" cy="212.7" r="2.55" fill="#7fc8f5" stroke="#3c4852" stroke-width="0.8"/>
<circle cx="450.6" cy="209.8" r="2.55" fill="#7fc8f5" stroke="#3c4852" stroke-width="0.8"/>
<circle cx="452.0" cy="207.0" r="2.55" fill="#7fc8f5" stroke="#3c4852" stroke-width="0.8"/>
<circle cx="453.1" cy="203.1" r="2.55" fill="#7fc8f5" stroke="#3c4852" stroke-width="0.8"/>
<circle cx="454.0" cy="198.0" r="2.55" fill="#7fc8f5" stroke="#3c4852" stroke-width="0.8"/>
<circle cx="455.9" cy="198.0" r="2.55" fill="#7fc8f5" stroke="#3c4852" stroke-width="0.8"/>
<circle cx="457.1" cy="196.3" r="2.55" fill="#7fc8f5" stroke="#3c4852" stroke-width="0.8"/>
<circle cx="458.8" cy="196.8" r="2.55" fill="#7fc8f5" stroke="#3c4852" stroke-width="0.8"/>
<circle cx="459.3" cy="225.9" r="2.55" fill="#7fc8f5" stroke="#3c4852" stroke-width="0.8"/>
<circle cx="460.5" cy="222.8" r="2.55" fill="#7fc8f5" stroke="#3c4852" stroke-width="0.8"/>
<circle cx="461.5" cy="219.5" r="2.55" fill="#7fc8f5" stroke="#3c4852" stroke-width="0.8"/>
<circle cx="462.7" cy="217.4" r="2.55" fill="#7fc8f5" stroke="#3c4852" stroke-width="0.8"/>
<circle cx="463.9" cy="214.9" r="2.55" fill="#7fc8f5" stroke="#3c4852" stroke-width="0.8"/>
<circle cx="464.9" cy="212.4" r="2.55" fill="#7fc8f5" stroke="#3c4852" stroke-width="0.8"/>
<circle cx="466.0" cy="210.7" r="2.55" fill="#7fc8f5" stroke="#3c4852" stroke-width="0.8"/>
<circle cx="467.7" cy="210.3" r="2.55" fill="#7fc8f5" stroke="#3c4852" stroke-width="0.8"/>
<circle cx="468.9" cy="194.6" r="2.55" fill="#7fc8f5" stroke="#3c4852" stroke-width="0.8"/>
<circle cx="469.9" cy="204.8" r="2.55" fill="#7fc8f5" stroke="#3c4852" stroke-width="0.8"/>
<circle cx="472.3" cy="223.9" r="2.55" fill="#7fc8f5" stroke="#3c4852" stroke-width="0.8"/>
<circle cx="473.6" cy="220.8" r="2.55" fill="#7fc8f5" stroke="#3c4852" stroke-width="0.8"/>
<circle cx="475.0" cy="217.8" r="2.55" fill="#7fc8f5" stroke="#3c4852" stroke-width="0.8"/>
<circle cx="476.2" cy="214.9" r="2.55" fill="#7fc8f5" stroke="#3c4852" stroke-width="0.8"/>
<circle cx="477.4" cy="212.0" r="2.55" fill="#7fc8f5" stroke="#3c4852" stroke-width="0.8"/>
<circle cx="478.7" cy="209.3" r="2.55" fill="#7fc8f5" stroke="#3c4852" stroke-width="0.8"/>
<circle cx="480.1" cy="207.0" r="2.55" fill="#7fc8f5" stroke="#3c4852" stroke-width="0.8"/>
<circle cx="481.3" cy="204.8" r="2.55" fill="#7fc8f5" stroke="#3c4852" stroke-width="0.8"/>
<circle cx="482.9" cy="203.6" r="2.55" fill="#7fc8f5" stroke="#3c4852" stroke-width="0.8"/>
<circle cx="483.8" cy="223.3" r="2.55" fill="#7fc8f5" stroke="#3c4852" stroke-width="0.8"/>
<circle cx="484.6" cy="218.3" r="2.55" fill="#7fc8f5" stroke="#3c4852" stroke-width="0.8"/>
<circle cx="485.8" cy="220.8" r="2.55" fill="#7fc8f5" stroke="#3c4852" stroke-width="0.8"/>
<circle cx="487.2" cy="218.3" r="2.55" fill="#7fc8f5" stroke="#3c4852" stroke-width="0.8"/>
<circle cx="488.5" cy="215.4" r="2.55" fill="#7fc8f5" stroke="#3c4852" stroke-width="0.8"/>
<circle cx="489.7" cy="214.1" r="2.55" fill="#7fc8f5" stroke="#3c4852" stroke-width="0.8"/>
<circle cx="490.9" cy="211.5" r="2.55" fill="#7fc8f5" stroke="#3c4852" stroke-width="0.8"/>
<circle cx="492.2" cy="213.7" r="2.55" fill="#7fc8f5" stroke="#3c4852" stroke-width="0.8"/>
<circle cx="493.6" cy="209.0" r="2.55" fill="#7fc8f5" stroke="#3c4852" stroke-width="0.8"/>
<circle cx="495.3" cy="207.3" r="2.55" fill="#7fc8f5" stroke="#3c4852" stroke-width="0.8"/>
<circle cx="496.0" cy="207.0" r="2.55" fill="#7fc8f5" stroke="#3c4852" stroke-width="0.8"/>
<circle cx="497.9" cy="218.1" r="2.55" fill="#7fc8f5" stroke="#3c4852" stroke-width="0.8"/>
<circle cx="499.2" cy="215.6" r="2.55" fill="#7fc8f5" stroke="#3c4852" stroke-width="0.8"/>
<circle cx="500.7" cy="213.7" r="2.55" fill="#7fc8f5" stroke="#3c4852" stroke-width="0.8"/>
<circle cx="502.2" cy="211.2" r="2.55" fill="#7fc8f5" stroke="#3c4852" stroke-width="0.8"/>
<circle cx="503.6" cy="208.9" r="2.55" fill="#7fc8f5" stroke="#3c4852" stroke-width="0.8"/>
<circle cx="505.5" cy="207.0" r="2.55" fill="#7fc8f5" stroke="#3c4852" stroke-width="0.8"/>
<circle cx="507.4" cy="205.1" r="2.55" fill="#7fc8f5" stroke="#3c4852" stroke-width="0.8"/>
<circle cx="508.7" cy="209.3" r="2.55" fill="#7fc8f5" stroke="#3c4852" stroke-width="0.8"/>
<circle cx="508.3" cy="227.0" r="2.55" fill="#7fc8f5" stroke="#3c4852" stroke-width="0.8"/>
<circle cx="510.2" cy="226.0" r="2.55" fill="#7fc8f5" stroke="#3c4852" stroke-width="0.8"/>
<circle cx="511.2" cy="221.9" r="2.55" fill="#7fc8f5" stroke="#3c4852" stroke-width="0.8"/>
<circle cx="512.5" cy="219.4" r="2.55" fill="#7fc8f5" stroke="#3c4852" stroke-width="0.8"/>
<circle cx="513.6" cy="216.9" r="2.55" fill="#7fc8f5" stroke="#3c4852" stroke-width="0.8"/>
<circle cx="515.0" cy="214.6" r="2.55" fill="#7fc8f5" stroke="#3c4852" stroke-width="0.8"/>
<circle cx="516.3" cy="212.7" r="2.55" fill="#7fc8f5" stroke="#3c4852" stroke-width="0.8"/>
<circle cx="517.8" cy="210.8" r="2.55" fill="#7fc8f5" stroke="#3c4852" stroke-width="0.8"/>
<circle cx="519.3" cy="211.8" r="2.55" fill="#7fc8f5" stroke="#3c4852" stroke-width="0.8"/>
<circle cx="520.7" cy="215.6" r="2.55" fill="#7fc8f5" stroke="#3c4852" stroke-width="0.8"/>
<circle cx="522.6" cy="216.2" r="2.55" fill="#7fc8f5" stroke="#3c4852" stroke-width="0.8"/>
<circle cx="524.5" cy="211.8" r="2.55" fill="#7fc8f5" stroke="#3c4852" stroke-width="0.8"/>
<circle cx="525.8" cy="208.0" r="2.55" fill="#7fc8f5" stroke="#3c4852" stroke-width="0.8"/>
<circle cx="527.3" cy="202.9" r="2.55" fill="#7fc8f5" stroke="#3c4852" stroke-width="0.8"/>
<circle cx="528.3" cy="196.6" r="2.55" fill="#7fc8f5" stroke="#3c4852" stroke-width="0.8"/>
<circle cx="530.2" cy="194.7" r="2.55" fill="#7fc8f5" stroke="#3c4852" stroke-width="0.8"/>
<circle cx="531.1" cy="194.1" r="2.55" fill="#7fc8f5" stroke="#3c4852" stroke-width="0.8"/>
<circle cx="533.0" cy="181.4" r="2.55" fill="#7fc8f5" stroke="#3c4852" stroke-width="0.8"/>
<circle cx="557.4" cy="220.9" r="2.55" fill="#7fc8f5" stroke="#3c4852" stroke-width="0.8"/>
<circle cx="558.6" cy="218.7" r="2.55" fill="#7fc8f5" stroke="#3c4852" stroke-width="0.8"/>
<circle cx="560.1" cy="215.0" r="2.55" fill="#7fc8f5" stroke="#3c4852" stroke-width="0.8"/>
<circle cx="561.6" cy="212.8" r="2.55" fill="#7fc8f5" stroke="#3c4852" stroke-width="0.8"/>
<circle cx="563.0" cy="210.6" r="2.55" fill="#7fc8f5" stroke="#3c4852" stroke-width="0.8"/>
<circle cx="563.3" cy="220.9" r="2.55" fill="#7fc8f5" stroke="#3c4852" stroke-width="0.8"/>
<circle cx="564.8" cy="209.1" r="2.55" fill="#7fc8f5" stroke="#3c4852" stroke-width="0.8"/>
<circle cx="566.3" cy="207.2" r="2.55" fill="#7fc8f5" stroke="#3c4852" stroke-width="0.8"/>
<circle cx="567.7" cy="205.4" r="2.55" fill="#7fc8f5" stroke="#3c4852" stroke-width="0.8"/>
<circle cx="569.5" cy="204.2" r="2.55" fill="#7fc8f5" stroke="#3c4852" stroke-width="0.8"/>
<circle cx="570.4" cy="222.4" r="2.55" fill="#7fc8f5" stroke="#3c4852" stroke-width="0.8"/>
<circle cx="571.4" cy="220.1" r="2.55" fill="#7fc8f5" stroke="#3c4852" stroke-width="0.8"/>
<circle cx="572.2" cy="217.9" r="2.55" fill="#7fc8f5" stroke="#3c4852" stroke-width="0.8"/>
<circle cx="573.6" cy="215.7" r="2.55" fill="#7fc8f5" stroke="#3c4852" stroke-width="0.8"/>
<circle cx="575.1" cy="214.0" r="2.55" fill="#7fc8f5" stroke="#3c4852" stroke-width="0.8"/>
<circle cx="576.3" cy="212.0" r="2.55" fill="#7fc8f5" stroke="#3c4852" stroke-width="0.8"/>
<circle cx="577.3" cy="209.8" r="2.55" fill="#7fc8f5" stroke="#3c4852" stroke-width="0.8"/>
<circle cx="578.8" cy="208.3" r="2.55" fill="#7fc8f5" stroke="#3c4852" stroke-width="0.8"/>
<circle cx="580.3" cy="206.9" r="2.55" fill="#7fc8f5" stroke="#3c4852" stroke-width="0.8"/>
<circle cx="581.8" cy="205.1" r="2.55" fill="#7fc8f5" stroke="#3c4852" stroke-width="0.8"/>
<circle cx="583.2" cy="203.6" r="2.55" fill="#7fc8f5" stroke="#3c4852" stroke-width="0.8"/>
<circle cx="582.5" cy="226.8" r="2.55" fill="#7fc8f5" stroke="#3c4852" stroke-width="0.8"/>
<circle cx="584.0" cy="224.6" r="2.55" fill="#7fc8f5" stroke="#3c4852" stroke-width="0.8"/>
<circle cx="585.2" cy="220.9" r="2.55" fill="#7fc8f5" stroke="#3c4852" stroke-width="0.8"/>
<circle cx="586.2" cy="217.9" r="2.55" fill="#7fc8f5" stroke="#3c4852" stroke-width="0.8"/>
<circle cx="587.7" cy="215.7" r="2.55" fill="#7fc8f5" stroke="#3c4852" stroke-width="0.8"/>
<circle cx="588.4" cy="213.1" r="2.55" fill="#7fc8f5" stroke="#3c4852" stroke-width="0.8"/>
<circle cx="589.9" cy="215.0" r="2.55" fill="#7fc8f5" stroke="#3c4852" stroke-width="0.8"/>
<circle cx="589.1" cy="209.8" r="2.55" fill="#7fc8f5" stroke="#3c4852" stroke-width="0.8"/>
<circle cx="590.6" cy="208.1" r="2.55" fill="#7fc8f5" stroke="#3c4852" stroke-width="0.8"/>
<circle cx="592.8" cy="205.4" r="2.55" fill="#7fc8f5" stroke="#3c4852" stroke-width="0.8"/>
<circle cx="594.3" cy="205.4" r="2.55" fill="#7fc8f5" stroke="#3c4852" stroke-width="0.8"/>
<circle cx="596.5" cy="227.8" r="2.55" fill="#7fc8f5" stroke="#3c4852" stroke-width="0.8"/>
<circle cx="598.0" cy="224.9" r="2.55" fill="#7fc8f5" stroke="#3c4852" stroke-width="0.8"/>
<circle cx="599.5" cy="220.9" r="2.55" fill="#7fc8f5" stroke="#3c4852" stroke-width="0.8"/>
<circle cx="601.0" cy="217.2" r="2.55" fill="#7fc8f5" stroke="#3c4852" stroke-width="0.8"/>
<circle cx="602.4" cy="213.5" r="2.55" fill="#7fc8f5" stroke="#3c4852" stroke-width="0.8"/>
<circle cx="603.4" cy="214.9" r="2.55" fill="#7fc8f5" stroke="#3c4852" stroke-width="0.8"/>
<circle cx="604.4" cy="212.7" r="2.55" fill="#7fc8f5" stroke="#3c4852" stroke-width="0.8"/>
<circle cx="605.1" cy="209.0" r="2.55" fill="#7fc8f5" stroke="#3c4852" stroke-width="0.8"/>
<circle cx="606.4" cy="205.3" r="2.55" fill="#7fc8f5" stroke="#3c4852" stroke-width="0.8"/>
<circle cx="607.3" cy="200.5" r="2.55" fill="#7fc8f5" stroke="#3c4852" stroke-width="0.8"/>
<circle cx="608.1" cy="231.3" r="2.55" fill="#7fc8f5" stroke="#3c4852" stroke-width="0.8"/>
<circle cx="609.5" cy="225.0" r="2.55" fill="#7fc8f5" stroke="#3c4852" stroke-width="0.8"/>
<circle cx="610.7" cy="223.9" r="2.55" fill="#7fc8f5" stroke="#3c4852" stroke-width="0.8"/>
<circle cx="611.5" cy="215.7" r="2.55" fill="#7fc8f5" stroke="#3c4852" stroke-width="0.8"/>
<circle cx="612.9" cy="211.5" r="2.55" fill="#7fc8f5" stroke="#3c4852" stroke-width="0.8"/>
<circle cx="614.0" cy="209.8" r="2.55" fill="#7fc8f5" stroke="#3c4852" stroke-width="0.8"/>
<circle cx="614.9" cy="204.8" r="2.55" fill="#7fc8f5" stroke="#3c4852" stroke-width="0.8"/>
<circle cx="616.2" cy="203.1" r="2.55" fill="#7fc8f5" stroke="#3c4852" stroke-width="0.8"/>
<circle cx="617.9" cy="201.4" r="2.55" fill="#7fc8f5" stroke="#3c4852" stroke-width="0.8"/>
<circle cx="619.1" cy="196.3" r="2.55" fill="#7fc8f5" stroke="#3c4852" stroke-width="0.8"/>
<circle cx="620.0" cy="225.0" r="2.55" fill="#7fc8f5" stroke="#3c4852" stroke-width="0.8"/>
<circle cx="621.3" cy="220.0" r="2.55" fill="#7fc8f5" stroke="#3c4852" stroke-width="0.8"/>
<circle cx="623.0" cy="210.3" r="2.55" fill="#7fc8f5" stroke="#3c4852" stroke-width="0.8"/>
<circle cx="624.2" cy="208.1" r="2.55" fill="#7fc8f5" stroke="#3c4852" stroke-width="0.8"/>
<circle cx="625.0" cy="203.1" r="2.55" fill="#7fc8f5" stroke="#3c4852" stroke-width="0.8"/>
<circle cx="626.4" cy="200.5" r="2.55" fill="#7fc8f5" stroke="#3c4852" stroke-width="0.8"/>
<circle cx="627.6" cy="197.5" r="2.55" fill="#7fc8f5" stroke="#3c4852" stroke-width="0.8"/>
<circle cx="628.7" cy="191.8" r="2.55" fill="#7fc8f5" stroke="#3c4852" stroke-width="0.8"/>
<circle cx="630.1" cy="186.7" r="2.55" fill="#7fc8f5" stroke="#3c4852" stroke-width="0.8"/>
<circle cx="631.8" cy="185.0" r="2.55" fill="#7fc8f5" stroke="#3c4852" stroke-width="0.8"/>
<circle cx="632.6" cy="228.4" r="2.55" fill="#7fc8f5" stroke="#3c4852" stroke-width="0.8"/>
<circle cx="633.8" cy="224.2" r="2.55" fill="#7fc8f5" stroke="#3c4852" stroke-width="0.8"/>
<circle cx="635.2" cy="215.7" r="2.55" fill="#7fc8f5" stroke="#3c4852" stroke-width="0.8"/>
<circle cx="636.5" cy="215.4" r="2.55" fill="#7fc8f5" stroke="#3c4852" stroke-width="0.8"/>
<circle cx="637.7" cy="210.3" r="2.55" fill="#7fc8f5" stroke="#3c4852" stroke-width="0.8"/>
<circle cx="638.5" cy="193.8" r="2.55" fill="#7fc8f5" stroke="#3c4852" stroke-width="0.8"/>
<circle cx="641.1" cy="199.7" r="2.55" fill="#7fc8f5" stroke="#3c4852" stroke-width="0.8"/>
<circle cx="642.3" cy="187.9" r="2.55" fill="#7fc8f5" stroke="#3c4852" stroke-width="0.8"/>
<circle cx="643.6" cy="190.1" r="2.55" fill="#7fc8f5" stroke="#3c4852" stroke-width="0.8"/>
<circle cx="645.0" cy="220.5" r="2.55" fill="#7fc8f5" stroke="#3c4852" stroke-width="0.8"/>
<circle cx="646.6" cy="216.6" r="2.55" fill="#7fc8f5" stroke="#3c4852" stroke-width="0.8"/>
<circle cx="647.3" cy="212.4" r="2.55" fill="#7fc8f5" stroke="#3c4852" stroke-width="0.8"/>
<circle cx="647.8" cy="202.2" r="2.55" fill="#7fc8f5" stroke="#3c4852" stroke-width="0.8"/>
<circle cx="640.8" cy="193.7" r="2.55" fill="#7fc8f5" stroke="#3c4852" stroke-width="0.8"/>
<circle cx="641.3" cy="200.1" r="2.55" fill="#7fc8f5" stroke="#3c4852" stroke-width="0.8"/>
<circle cx="649.3" cy="202.5" r="2.55" fill="#7fc8f5" stroke="#3c4852" stroke-width="0.8"/>
<circle cx="651.0" cy="202.2" r="2.55" fill="#7fc8f5" stroke="#3c4852" stroke-width="0.8"/>
<circle cx="652.1" cy="194.6" r="2.55" fill="#7fc8f5" stroke="#3c4852" stroke-width="0.8"/>
<circle cx="653.5" cy="188.3" r="2.55" fill="#7fc8f5" stroke="#3c4852" stroke-width="0.8"/>
<circle cx="655.2" cy="187.3" r="2.55" fill="#7fc8f5" stroke="#3c4852" stroke-width="0.8"/>
<circle cx="656.9" cy="225.4" r="2.55" fill="#7fc8f5" stroke="#3c4852" stroke-width="0.8"/>
<circle cx="658.5" cy="218.2" r="2.55" fill="#7fc8f5" stroke="#3c4852" stroke-width="0.8"/>
<circle cx="659.9" cy="211.4" r="2.55" fill="#7fc8f5" stroke="#3c4852" stroke-width="0.8"/>
<circle cx="661.1" cy="204.2" r="2.55" fill="#7fc8f5" stroke="#3c4852" stroke-width="0.8"/>
<circle cx="662.8" cy="203.0" r="2.55" fill="#7fc8f5" stroke="#3c4852" stroke-width="0.8"/>
<circle cx="664.0" cy="200.1" r="2.55" fill="#7fc8f5" stroke="#3c4852" stroke-width="0.8"/>
<circle cx="665.0" cy="197.4" r="2.55" fill="#7fc8f5" stroke="#3c4852" stroke-width="0.8"/>
<circle cx="666.1" cy="192.0" r="2.55" fill="#7fc8f5" stroke="#3c4852" stroke-width="0.8"/>
<circle cx="667.3" cy="185.6" r="2.55" fill="#7fc8f5" stroke="#3c4852" stroke-width="0.8"/>
<circle cx="669.5" cy="210.9" r="2.55" fill="#7fc8f5" stroke="#3c4852" stroke-width="0.8"/>
<circle cx="671.2" cy="213.6" r="2.55" fill="#7fc8f5" stroke="#3c4852" stroke-width="0.8"/>
<circle cx="672.4" cy="206.9" r="2.55" fill="#7fc8f5" stroke="#3c4852" stroke-width="0.8"/>
<circle cx="674.6" cy="198.4" r="2.55" fill="#7fc8f5" stroke="#3c4852" stroke-width="0.8"/>
<circle cx="675.8" cy="193.4" r="2.55" fill="#7fc8f5" stroke="#3c4852" stroke-width="0.8"/>
<circle cx="677.1" cy="197.1" r="2.55" fill="#7fc8f5" stroke="#3c4852" stroke-width="0.8"/>
<circle cx="678.4" cy="187.3" r="2.55" fill="#7fc8f5" stroke="#3c4852" stroke-width="0.8"/>
<circle cx="680.5" cy="186.6" r="2.55" fill="#7fc8f5" stroke="#3c4852" stroke-width="0.8"/>
<circle cx="388.0" cy="200.4" r="1.25" fill="#000"/>
<circle cx="396.8" cy="200.4" r="1.25" fill="#000"/>
<circle cx="405.6" cy="200.4" r="1.25" fill="#000"/>
<circle cx="535.7" cy="200.2" r="1.25" fill="#000"/>
<circle cx="544.6" cy="200.2" r="1.25" fill="#000"/>
<circle cx="553.3" cy="200.2" r="1.25" fill="#000"/>
<rect x="261.0" y="149.4" width="421.5" height="116.1" fill="none" stroke="#1a1a1a" stroke-width="1.3"/>
<line x1="256.5" y1="265.50" x2="261.0" y2="265.50" stroke="#1a1a1a" stroke-width="1.1"/>
<text x="255.40" y="269.50" font-size="11.3" font-weight="bold" fill="#000" text-anchor="end" >0</text>
<line x1="256.5" y1="243.62" x2="261.0" y2="243.62" stroke="#1a1a1a" stroke-width="1.1"/>
<text x="255.40" y="247.62" font-size="11.3" font-weight="bold" fill="#000" text-anchor="end" >30</text>
<line x1="256.5" y1="221.74" x2="261.0" y2="221.74" stroke="#1a1a1a" stroke-width="1.1"/>
<text x="255.40" y="225.74" font-size="11.3" font-weight="bold" fill="#000" text-anchor="end" >60</text>
<line x1="256.5" y1="199.86" x2="261.0" y2="199.86" stroke="#1a1a1a" stroke-width="1.1"/>
<text x="255.40" y="203.86" font-size="11.3" font-weight="bold" fill="#000" text-anchor="end" >90</text>
<line x1="256.5" y1="177.98" x2="261.0" y2="177.98" stroke="#1a1a1a" stroke-width="1.1"/>
<text x="255.40" y="181.98" font-size="11.3" font-weight="bold" fill="#000" text-anchor="end" >120</text>
<line x1="256.5" y1="156.11" x2="261.0" y2="156.11" stroke="#1a1a1a" stroke-width="1.1"/>
<text x="255.40" y="160.11" font-size="11.3" font-weight="bold" fill="#000" text-anchor="end" >150</text>
<line x1="258.5" y1="254.56" x2="261.0" y2="254.56" stroke="#1a1a1a" stroke-width="1"/>
<line x1="258.5" y1="232.68" x2="261.0" y2="232.68" stroke="#1a1a1a" stroke-width="1"/>
<line x1="258.5" y1="210.80" x2="261.0" y2="210.80" stroke="#1a1a1a" stroke-width="1"/>
<line x1="258.5" y1="188.92" x2="261.0" y2="188.92" stroke="#1a1a1a" stroke-width="1"/>
<line x1="258.5" y1="167.04" x2="261.0" y2="167.04" stroke="#1a1a1a" stroke-width="1"/>
<line x1="273.12" y1="265.5" x2="273.12" y2="268.7" stroke="#1a1a1a" stroke-width="1.1"/>
<text x="274.32" y="280.80" font-size="11.3" font-weight="bold" fill="#000" text-anchor="middle" >2</text>
<line x1="297.88" y1="265.5" x2="297.88" y2="268.7" stroke="#1a1a1a" stroke-width="1.1"/>
<text x="299.08" y="280.80" font-size="11.3" font-weight="bold" fill="#000" text-anchor="middle" >4</text>
<line x1="322.65" y1="265.5" x2="322.65" y2="268.7" stroke="#1a1a1a" stroke-width="1.1"/>
<text x="323.85" y="280.80" font-size="11.3" font-weight="bold" fill="#000" text-anchor="middle" >6</text>
<line x1="347.42" y1="265.5" x2="347.42" y2="268.7" stroke="#1a1a1a" stroke-width="1.1"/>
<text x="348.62" y="280.80" font-size="11.3" font-weight="bold" fill="#000" text-anchor="middle" >8</text>
<line x1="372.18" y1="265.5" x2="372.18" y2="268.7" stroke="#1a1a1a" stroke-width="1.1"/>
<text x="373.38" y="280.80" font-size="11.3" font-weight="bold" fill="#000" text-anchor="middle" >10</text>
<line x1="421.72" y1="265.5" x2="421.72" y2="268.7" stroke="#1a1a1a" stroke-width="1.1"/>
<text x="422.92" y="280.80" font-size="11.3" font-weight="bold" fill="#000" text-anchor="middle" >42</text>
<line x1="446.49" y1="265.5" x2="446.49" y2="268.7" stroke="#1a1a1a" stroke-width="1.1"/>
<text x="447.69" y="280.80" font-size="11.3" font-weight="bold" fill="#000" text-anchor="middle" >44</text>
<line x1="471.25" y1="265.5" x2="471.25" y2="268.7" stroke="#1a1a1a" stroke-width="1.1"/>
<text x="472.45" y="280.80" font-size="11.3" font-weight="bold" fill="#000" text-anchor="middle" >46</text>
<line x1="496.02" y1="265.5" x2="496.02" y2="268.7" stroke="#1a1a1a" stroke-width="1.1"/>
<text x="497.22" y="280.80" font-size="11.3" font-weight="bold" fill="#000" text-anchor="middle" >48</text>
<line x1="520.79" y1="265.5" x2="520.79" y2="268.7" stroke="#1a1a1a" stroke-width="1.1"/>
<text x="521.99" y="280.80" font-size="11.3" font-weight="bold" fill="#000" text-anchor="middle" >50</text>
<line x1="570.32" y1="265.5" x2="570.32" y2="268.7" stroke="#1a1a1a" stroke-width="1.1"/>
<text x="571.52" y="280.80" font-size="11.3" font-weight="bold" fill="#000" text-anchor="middle" >92</text>
<line x1="595.09" y1="265.5" x2="595.09" y2="268.7" stroke="#1a1a1a" stroke-width="1.1"/>
<text x="596.29" y="280.80" font-size="11.3" font-weight="bold" fill="#000" text-anchor="middle" >94</text>
<line x1="619.85" y1="265.5" x2="619.85" y2="268.7" stroke="#1a1a1a" stroke-width="1.1"/>
<text x="621.05" y="280.80" font-size="11.3" font-weight="bold" fill="#000" text-anchor="middle" >96</text>
<line x1="644.62" y1="265.5" x2="644.62" y2="268.7" stroke="#1a1a1a" stroke-width="1.1"/>
<text x="645.82" y="280.80" font-size="11.3" font-weight="bold" fill="#000" text-anchor="middle" >98</text>
<line x1="669.39" y1="265.5" x2="669.39" y2="268.7" stroke="#1a1a1a" stroke-width="1.1"/>
<text x="670.59" y="280.80" font-size="11.3" font-weight="bold" fill="#000" text-anchor="middle" >100</text>
<text x="424.93" y="290.40" font-size="11.2" font-weight="bold" fill="#000" textLength="92.34" lengthAdjust="spacingAndGlyphs">Running time (d)</text>
<text transform="translate(234.60,234.73) rotate(-90)" font-size="11.3" font-weight="bold" fill="#000" textLength="55.50" lengthAdjust="spacingAndGlyphs">TMP (kpa)</text>
<text x="266.47" y="256.40" font-size="11.1" font-weight="bold" fill="#6a9ed6" textLength="123.07" lengthAdjust="spacingAndGlyphs">Hydraulic backwashing</text>
<text x="411.25" y="249.80" font-size="11.1" font-weight="bold" fill="#6a9ed6" textLength="109.68" lengthAdjust="spacingAndGlyphs">Chemical cleaning at</text>
<text x="433.23" y="262.50" font-size="11.1" font-weight="bold" fill="#6a9ed6" textLength="69.59" lengthAdjust="spacingAndGlyphs">20 d and 40 d</text>
<text x="544.95" y="256.20" font-size="11.1" font-weight="bold" fill="#6a9ed6" textLength="135.58" lengthAdjust="spacingAndGlyphs">Chemical cleaning at 60 d</text>
<line x1="410.8" y1="242.1" x2="393.3" y2="205.6" stroke="#3f7fc1" stroke-width="1.3"/>
<polygon points="392.0,202.6 396.6,208.0 391.6,209.6" fill="#3f7fc1"/>
<line x1="559.4" y1="248.2" x2="543.6" y2="208.2" stroke="#3f7fc1" stroke-width="1.3"/>
<polygon points="542.4,205.0 546.9,210.6 541.8,212.2" fill="#3f7fc1"/>
<clipPath id="dclip"><rect x="25.4" y="314.6" width="193.6" height="135.7"/></clipPath>
<g clip-path="url(#dclip)">
<path d="M25.77,450.3 L25.77,344.0 L27.90,344.0 L27.90,346.1 L30.04,346.1 L30.03,347.7 L32.17,347.7 L32.17,343.5 L34.30,343.5 L34.30,338.2 L36.44,338.2 L36.44,341.9 L38.57,341.9 L38.57,340.3 L40.70,340.3 L40.70,335.0 L42.84,335.0 L42.84,328.7 L44.97,328.7 L44.97,328.7 L47.11,328.7 L47.11,342.9 L49.24,342.9 L49.24,357.7 L51.37,357.7 L51.37,351.4 L53.51,351.4 L53.51,350.3 L55.64,350.3 L55.64,364.0 L57.78,364.0 L57.78,347.2 L59.91,347.2 L59.91,348.7 L62.04,348.7 L62.04,341.9 L64.18,341.9 L64.18,329.2 L66.31,329.2 L66.31,350.3 L68.45,350.3 L68.45,367.7 L70.58,367.7 L70.58,336.6 L72.71,336.6 L72.72,338.2 L74.85,338.2 L74.85,341.9 L76.98,341.9 L76.98,339.8 L79.12,339.8 L79.12,341.9 L81.25,341.9 L81.25,336.1 L83.38,336.1 L83.39,336.6 L85.52,336.6 L85.52,327.1 L87.65,327.1 L87.65,397.8 L89.79,397.8 L89.79,370.3 L91.92,370.3 L91.92,327.2 L94.05,327.2 L94.06,360.8 L96.19,360.8 L96.19,331.4 L98.32,331.4 L98.32,327.2 L100.46,327.2 L100.46,365.5 L102.59,365.5 L102.59,343.7 L104.72,343.7 L104.73,344.7 L106.86,344.7 L106.86,327.2 L108.99,327.2 L108.99,339.0 L111.13,339.0 L111.13,327.2 L113.26,327.2 L113.26,354.2 L115.39,354.2 L115.40,348.5 L117.53,348.5 L117.53,341.8 L119.66,341.8 L119.66,351.3 L121.80,351.3 L121.80,330.4 L123.93,330.4 L123.93,334.2 L126.06,334.2 L126.06,339.0 L128.20,339.0 L128.20,338.0 L130.33,338.0 L130.33,332.3 L132.47,332.3 L132.47,335.2 L134.60,335.2 L134.60,338.0 L136.73,338.0 L136.73,342.8 L138.87,342.8 L138.87,339.0 L141.00,339.0 L141.00,345.6 L143.14,345.6 L143.14,342.8 L145.27,342.8 L145.27,338.0 L147.41,338.0 L147.40,344.7 L149.54,344.7 L149.54,358.0 L151.67,358.0 L151.67,337.1 L153.81,337.1 L153.81,333.3 L155.94,333.3 L155.94,338.4 L158.07,338.4 L158.07,358.6 L160.21,358.6 L160.21,352.3 L162.34,352.3 L162.34,331.4 L164.48,331.4 L164.48,332.0 L166.61,332.0 L166.61,340.3 L168.74,340.3 L168.74,329.5 L170.88,329.5 L170.88,334.6 L173.01,334.6 L173.01,337.1 L175.15,337.1 L175.15,337.1 L177.28,337.1 L177.28,337.7 L179.41,337.7 L179.41,336.5 L181.55,336.5 L181.55,340.9 L183.68,340.9 L183.68,327.0 L185.82,327.0 L185.82,337.1 L187.95,337.1 L187.95,352.3 L190.08,352.3 L190.08,338.4 L192.22,338.4 L192.22,339.6 L194.35,339.6 L194.35,333.9 L196.49,333.9 L196.49,335.8 L198.62,335.8 L198.62,342.8 L200.75,342.8 L200.75,346.6 L202.89,346.6 L202.89,332.0 L205.02,332.0 L205.02,337.7 L207.16,337.7 L207.16,340.9 L209.29,340.9 L209.29,332.0 L211.42,332.0 L211.42,331.4 L213.56,331.4 L213.56,331.4 L215.69,331.4 L215.69,332.7 L217.83,332.7 L217.83,450.3 Z" fill="#b6e5fe"/>
<polyline points="27.33,428.30 29.47,430.10 31.60,428.00 33.74,429.00 35.87,428.00 38.00,430.60 40.14,428.00 42.27,433.20 44.41,434.80 46.54,433.20 48.67,431.40 50.81,433.20 52.94,427.60 55.08,434.60 57.21,432.90 59.34,430.10 61.48,428.50 63.61,429.00 65.75,433.80 67.88,430.60 70.01,431.70 72.15,420.00 74.28,415.80 76.42,428.50 78.55,418.80 80.68,416.40 82.82,433.20 84.95,416.40 87.09,431.70 89.22,419.00 91.35,428.30 93.49,431.40 95.62,430.10 97.76,419.50 99.89,410.30 102.02,430.80 104.16,413.70 106.29,421.10 108.43,434.00 110.56,426.90 112.69,433.80 114.83,427.20 116.96,422.70 119.10,426.40 121.23,428.70 123.36,365.20 125.50,411.80 127.63,417.70 129.77,418.50 131.90,416.90 134.03,421.10 136.17,423.00 138.30,426.90 140.44,417.90 142.57,425.90 144.70,422.50 146.84,414.20 148.97,421.00 151.11,426.80 153.24,422.80 155.37,367.10 157.51,426.10 159.64,430.10 161.78,426.10 163.91,330.30 166.04,386.30 168.18,427.90 170.31,432.60 172.45,416.60 174.58,412.90 176.71,419.90 178.85,427.90 180.98,415.50 183.12,422.10 185.25,431.20 187.38,426.80 189.52,432.60 191.65,421.00 193.79,420.60 195.92,419.90 198.05,426.10 200.19,423.20 202.32,427.90 204.46,419.70 206.59,427.90 208.72,418.80 210.86,413.70 212.99,412.60 215.13,407.70 217.26,413.40" fill="none" stroke="#c8641c" stroke-width="1.2" stroke-linejoin="round"/>
<rect x="26.28" y="427.25" width="2.1" height="2.1" fill="#c8641c"/>
<rect x="28.42" y="429.05" width="2.1" height="2.1" fill="#c8641c"/>
<rect x="30.55" y="426.95" width="2.1" height="2.1" fill="#c8641c"/>
<rect x="32.69" y="427.95" width="2.1" height="2.1" fill="#c8641c"/>
<rect x="34.82" y="426.95" width="2.1" height="2.1" fill="#c8641c"/>
<rect x="36.95" y="429.55" width="2.1" height="2.1" fill="#c8641c"/>
<rect x="39.09" y="426.95" width="2.1" height="2.1" fill="#c8641c"/>
<rect x="41.22" y="432.15" width="2.1" height="2.1" fill="#c8641c"/>
<rect x="43.36" y="433.75" width="2.1" height="2.1" fill="#c8641c"/>
<rect x="45.49" y="432.15" width="2.1" height="2.1" fill="#c8641c"/>
<rect x="47.62" y="430.35" width="2.1" height="2.1" fill="#c8641c"/>
<rect x="49.76" y="432.15" width="2.1" height="2.1" fill="#c8641c"/>
<rect x="51.89" y="426.55" width="2.1" height="2.1" fill="#c8641c"/>
<rect x="54.03" y="433.55" width="2.1" height="2.1" fill="#c8641c"/>
<rect x="56.16" y="431.85" width="2.1" height="2.1" fill="#c8641c"/>
<rect x="58.29" y="429.05" width="2.1" height="2.1" fill="#c8641c"/>
<rect x="60.43" y="427.45" width="2.1" height="2.1" fill="#c8641c"/>
<rect x="62.56" y="427.95" width="2.1" height="2.1" fill="#c8641c"/>
<rect x="64.70" y="432.75" width="2.1" height="2.1" fill="#c8641c"/>
<rect x="66.83" y="429.55" width="2.1" height="2.1" fill="#c8641c"/>
<rect x="68.96" y="430.65" width="2.1" height="2.1" fill="#c8641c"/>
<rect x="71.10" y="418.95" width="2.1" height="2.1" fill="#c8641c"/>
<rect x="73.23" y="414.75" width="2.1" height="2.1" fill="#c8641c"/>
<rect x="75.37" y="427.45" width="2.1" height="2.1" fill="#c8641c"/>
<rect x="77.50" y="417.75" width="2.1" height="2.1" fill="#c8641c"/>
<rect x="79.63" y="415.35" width="2.1" height="2.1" fill="#c8641c"/>
<rect x="81.77" y="432.15" width="2.1" height="2.1" fill="#c8641c"/>
<rect x="83.90" y="415.35" width="2.1" height="2.1" fill="#c8641c"/>
<rect x="86.04" y="430.65" width="2.1" height="2.1" fill="#c8641c"/>
<rect x="88.17" y="417.95" width="2.1" height="2.1" fill="#c8641c"/>
<rect x="90.30" y="427.25" width="2.1" height="2.1" fill="#c8641c"/>
<rect x="92.44" y="430.35" width="2.1" height="2.1" fill="#c8641c"/>
<rect x="94.57" y="429.05" width="2.1" height="2.1" fill="#c8641c"/>
<rect x="96.71" y="418.45" width="2.1" height="2.1" fill="#c8641c"/>
<rect x="98.84" y="409.25" width="2.1" height="2.1" fill="#c8641c"/>
<rect x="100.97" y="429.75" width="2.1" height="2.1" fill="#c8641c"/>
<rect x="103.11" y="412.65" width="2.1" height="2.1" fill="#c8641c"/>
<rect x="105.24" y="420.05" width="2.1" height="2.1" fill="#c8641c"/>
<rect x="107.38" y="432.95" width="2.1" height="2.1" fill="#c8641c"/>
<rect x="109.51" y="425.85" width="2.1" height="2.1" fill="#c8641c"/>
<rect x="111.64" y="432.75" width="2.1" height="2.1" fill="#c8641c"/>
<rect x="113.78" y="426.15" width="2.1" height="2.1" fill="#c8641c"/>
<rect x="115.91" y="421.65" width="2.1" height="2.1" fill="#c8641c"/>
<rect x="118.05" y="425.35" width="2.1" height="2.1" fill="#c8641c"/>
<rect x="120.18" y="427.65" width="2.1" height="2.1" fill="#c8641c"/>
<rect x="122.31" y="364.15" width="2.1" height="2.1" fill="#c8641c"/>
<rect x="124.45" y="410.75" width="2.1" height="2.1" fill="#c8641c"/>
<rect x="126.58" y="416.65" width="2.1" height="2.1" fill="#c8641c"/>
<rect x="128.72" y="417.45" width="2.1" height="2.1" fill="#c8641c"/>
<rect x="130.85" y="415.85" width="2.1" height="2.1" fill="#c8641c"/>
<rect x="132.98" y="420.05" width="2.1" height="2.1" fill="#c8641c"/>
<rect x="135.12" y="421.95" width="2.1" height="2.1" fill="#c8641c"/>
<rect x="137.25" y="425.85" width="2.1" height="2.1" fill="#c8641c"/>
<rect x="139.39" y="416.85" width="2.1" height="2.1" fill="#c8641c"/>
<rect x="141.52" y="424.85" width="2.1" height="2.1" fill="#c8641c"/>
<rect x="143.65" y="421.45" width="2.1" height="2.1" fill="#c8641c"/>
<rect x="145.79" y="413.15" width="2.1" height="2.1" fill="#c8641c"/>
<rect x="147.92" y="419.95" width="2.1" height="2.1" fill="#c8641c"/>
<rect x="150.06" y="425.75" width="2.1" height="2.1" fill="#c8641c"/>
<rect x="152.19" y="421.75" width="2.1" height="2.1" fill="#c8641c"/>
<rect x="154.32" y="366.05" width="2.1" height="2.1" fill="#c8641c"/>
<rect x="156.46" y="425.05" width="2.1" height="2.1" fill="#c8641c"/>
<rect x="158.59" y="429.05" width="2.1" height="2.1" fill="#c8641c"/>
<rect x="160.73" y="425.05" width="2.1" height="2.1" fill="#c8641c"/>
<rect x="162.86" y="329.25" width="2.1" height="2.1" fill="#c8641c"/>
<rect x="164.99" y="385.25" width="2.1" height="2.1" fill="#c8641c"/>
<rect x="167.13" y="426.85" width="2.1" height="2.1" fill="#c8641c"/>
<rect x="169.26" y="431.55" width="2.1" height="2.1" fill="#c8641c"/>
<rect x="171.40" y="415.55" width="2.1" height="2.1" fill="#c8641c"/>
<rect x="173.53" y="411.85" width="2.1" height="2.1" fill="#c8641c"/>
<rect x="175.66" y="418.85" width="2.1" height="2.1" fill="#c8641c"/>
<rect x="177.80" y="426.85" width="2.1" height="2.1" fill="#c8641c"/>
<rect x="179.93" y="414.45" width="2.1" height="2.1" fill="#c8641c"/>
<rect x="182.07" y="421.05" width="2.1" height="2.1" fill="#c8641c"/>
<rect x="184.20" y="430.15" width="2.1" height="2.1" fill="#c8641c"/>
<rect x="186.33" y="425.75" width="2.1" height="2.1" fill="#c8641c"/>
<rect x="188.47" y="431.55" width="2.1" height="2.1" fill="#c8641c"/>
<rect x="190.60" y="419.95" width="2.1" height="2.1" fill="#c8641c"/>
<rect x="192.74" y="419.55" width="2.1" height="2.1" fill="#c8641c"/>
<rect x="194.87" y="418.85" width="2.1" height="2.1" fill="#c8641c"/>
<rect x="197.00" y="425.05" width="2.1" height="2.1" fill="#c8641c"/>
<rect x="199.14" y="422.15" width="2.1" height="2.1" fill="#c8641c"/>
<rect x="201.27" y="426.85" width="2.1" height="2.1" fill="#c8641c"/>
<rect x="203.41" y="418.65" width="2.1" height="2.1" fill="#c8641c"/>
<rect x="205.54" y="426.85" width="2.1" height="2.1" fill="#c8641c"/>
<rect x="207.67" y="417.75" width="2.1" height="2.1" fill="#c8641c"/>
<rect x="209.81" y="412.65" width="2.1" height="2.1" fill="#c8641c"/>
<rect x="211.94" y="411.55" width="2.1" height="2.1" fill="#c8641c"/>
<rect x="214.08" y="406.65" width="2.1" height="2.1" fill="#c8641c"/>
<rect x="216.21" y="412.35" width="2.1" height="2.1" fill="#c8641c"/>
<polyline points="27.33,439.00 29.47,440.10 31.60,438.80 33.74,439.60 35.87,439.30 38.00,439.90 40.14,439.90 42.27,440.90 44.41,440.90 46.54,440.10 48.67,437.70 50.81,439.00 52.94,437.50 55.08,436.70 57.21,439.60 59.34,438.50 61.48,438.20 63.61,438.20 65.75,440.40 67.88,437.80 70.01,437.80 72.15,436.70 74.28,438.50 76.42,439.90 78.55,437.10 80.68,438.20 82.82,439.00 84.95,427.50 87.09,438.60 89.22,427.80 91.35,432.20 93.49,440.10 95.62,436.40 97.76,436.90 99.89,440.90 102.02,437.80 104.16,431.90 106.29,436.40 108.43,441.40 110.56,439.00 112.69,441.40 114.83,437.80 116.96,436.90 119.10,439.30 121.23,439.00 123.36,440.30 125.50,438.80 127.63,437.80 129.77,438.50 131.90,439.30 134.03,438.80 136.17,437.80 138.30,438.80 140.44,438.80 142.57,437.50 144.70,438.20 146.84,438.00 148.97,439.50 151.11,436.70 153.24,438.90 155.37,437.00 157.51,440.00 159.64,436.10 161.78,437.20 163.91,438.10 166.04,438.50 168.18,438.10 170.31,441.10 172.45,438.50 174.58,438.10 176.71,438.30 178.85,438.30 180.98,438.30 183.12,437.80 185.25,441.40 187.38,439.20 189.52,438.90 191.65,438.90 193.79,438.50 195.92,438.90 198.05,438.50 200.19,438.30 202.32,438.90 204.46,439.20 206.59,438.90 208.72,438.90 210.86,438.50 212.99,438.10 215.13,439.20 217.26,438.90" fill="none" stroke="#2f8a38" stroke-width="1.2" stroke-linejoin="round"/>
<circle cx="27.33" cy="439.00" r="1.05" fill="#2f8a38"/>
<circle cx="29.47" cy="440.10" r="1.05" fill="#2f8a38"/>
<circle cx="31.60" cy="438.80" r="1.05" fill="#2f8a38"/>
<circle cx="33.74" cy="439.60" r="1.05" fill="#2f8a38"/>
<circle cx="35.87" cy="439.30" r="1.05" fill="#2f8a38"/>
<circle cx="38.00" cy="439.90" r="1.05" fill="#2f8a38"/>
<circle cx="40.14" cy="439.90" r="1.05" fill="#2f8a38"/>
<circle cx="42.27" cy="440.90" r="1.05" fill="#2f8a38"/>
<circle cx="44.41" cy="440.90" r="1.05" fill="#2f8a38"/>
<circle cx="46.54" cy="440.10" r="1.05" fill="#2f8a38"/>
<circle cx="48.67" cy="437.70" r="1.05" fill="#2f8a38"/>
<circle cx="50.81" cy="439.00" r="1.05" fill="#2f8a38"/>
<circle cx="52.94" cy="437.50" r="1.05" fill="#2f8a38"/>
<circle cx="55.08" cy="436.70" r="1.05" fill="#2f8a38"/>
<circle cx="57.21" cy="439.60" r="1.05" fill="#2f8a38"/>
<circle cx="59.34" cy="438.50" r="1.05" fill="#2f8a38"/>
<circle cx="61.48" cy="438.20" r="1.05" fill="#2f8a38"/>
<circle cx="63.61" cy="438.20" r="1.05" fill="#2f8a38"/>
<circle cx="65.75" cy="440.40" r="1.05" fill="#2f8a38"/>
<circle cx="67.88" cy="437.80" r="1.05" fill="#2f8a38"/>
<circle cx="70.01" cy="437.80" r="1.05" fill="#2f8a38"/>
<circle cx="72.15" cy="436.70" r="1.05" fill="#2f8a38"/>
<circle cx="74.28" cy="438.50" r="1.05" fill="#2f8a38"/>
<circle cx="76.42" cy="439.90" r="1.05" fill="#2f8a38"/>
<circle cx="78.55" cy="437.10" r="1.05" fill="#2f8a38"/>
<circle cx="80.68" cy="438.20" r="1.05" fill="#2f8a38"/>
<circle cx="82.82" cy="439.00" r="1.05" fill="#2f8a38"/>
<circle cx="84.95" cy="427.50" r="1.05" fill="#2f8a38"/>
<circle cx="87.09" cy="438.60" r="1.05" fill="#2f8a38"/>
<circle cx="89.22" cy="427.80" r="1.05" fill="#2f8a38"/>
<circle cx="91.35" cy="432.20" r="1.05" fill="#2f8a38"/>
<circle cx="93.49" cy="440.10" r="1.05" fill="#2f8a38"/>
<circle cx="95.62" cy="436.40" r="1.05" fill="#2f8a38"/>
<circle cx="97.76" cy="436.90" r="1.05" fill="#2f8a38"/>
<circle cx="99.89" cy="440.90" r="1.05" fill="#2f8a38"/>
<circle cx="102.02" cy="437.80" r="1.05" fill="#2f8a38"/>
<circle cx="104.16" cy="431.90" r="1.05" fill="#2f8a38"/>
<circle cx="106.29" cy="436.40" r="1.05" fill="#2f8a38"/>
<circle cx="108.43" cy="441.40" r="1.05" fill="#2f8a38"/>
<circle cx="110.56" cy="439.00" r="1.05" fill="#2f8a38"/>
<circle cx="112.69" cy="441.40" r="1.05" fill="#2f8a38"/>
<circle cx="114.83" cy="437.80" r="1.05" fill="#2f8a38"/>
<circle cx="116.96" cy="436.90" r="1.05" fill="#2f8a38"/>
<circle cx="119.10" cy="439.30" r="1.05" fill="#2f8a38"/>
<circle cx="121.23" cy="439.00" r="1.05" fill="#2f8a38"/>
<circle cx="123.36" cy="440.30" r="1.05" fill="#2f8a38"/>
<circle cx="125.50" cy="438.80" r="1.05" fill="#2f8a38"/>
<circle cx="127.63" cy="437.80" r="1.05" fill="#2f8a38"/>
<circle cx="129.77" cy="438.50" r="1.05" fill="#2f8a38"/>
<circle cx="131.90" cy="439.30" r="1.05" fill="#2f8a38"/>
<circle cx="134.03" cy="438.80" r="1.05" fill="#2f8a38"/>
<circle cx="136.17" cy="437.80" r="1.05" fill="#2f8a38"/>
<circle cx="138.30" cy="438.80" r="1.05" fill="#2f8a38"/>
<circle cx="140.44" cy="438.80" r="1.05" fill="#2f8a38"/>
<circle cx="142.57" cy="437.50" r="1.05" fill="#2f8a38"/>
<circle cx="144.70" cy="438.20" r="1.05" fill="#2f8a38"/>
<circle cx="146.84" cy="438.00" r="1.05" fill="#2f8a38"/>
<circle cx="148.97" cy="439.50" r="1.05" fill="#2f8a38"/>
<circle cx="151.11" cy="436.70" r="1.05" fill="#2f8a38"/>
<circle cx="153.24" cy="438.90" r="1.05" fill="#2f8a38"/>
<circle cx="155.37" cy="437.00" r="1.05" fill="#2f8a38"/>
<circle cx="157.51" cy="440.00" r="1.05" fill="#2f8a38"/>
<circle cx="159.64" cy="436.10" r="1.05" fill="#2f8a38"/>
<circle cx="161.78" cy="437.20" r="1.05" fill="#2f8a38"/>
<circle cx="163.91" cy="438.10" r="1.05" fill="#2f8a38"/>
<circle cx="166.04" cy="438.50" r="1.05" fill="#2f8a38"/>
<circle cx="168.18" cy="438.10" r="1.05" fill="#2f8a38"/>
<circle cx="170.31" cy="441.10" r="1.05" fill="#2f8a38"/>
<circle cx="172.45" cy="438.50" r="1.05" fill="#2f8a38"/>
<circle cx="174.58" cy="438.10" r="1.05" fill="#2f8a38"/>
<circle cx="176.71" cy="438.30" r="1.05" fill="#2f8a38"/>
<circle cx="178.85" cy="438.30" r="1.05" fill="#2f8a38"/>
<circle cx="180.98" cy="438.30" r="1.05" fill="#2f8a38"/>
<circle cx="183.12" cy="437.80" r="1.05" fill="#2f8a38"/>
<circle cx="185.25" cy="441.40" r="1.05" fill="#2f8a38"/>
<circle cx="187.38" cy="439.20" r="1.05" fill="#2f8a38"/>
<circle cx="189.52" cy="438.90" r="1.05" fill="#2f8a38"/>
<circle cx="191.65" cy="438.90" r="1.05" fill="#2f8a38"/>
<circle cx="193.79" cy="438.50" r="1.05" fill="#2f8a38"/>
<circle cx="195.92" cy="438.90" r="1.05" fill="#2f8a38"/>
<circle cx="198.05" cy="438.50" r="1.05" fill="#2f8a38"/>
<circle cx="200.19" cy="438.30" r="1.05" fill="#2f8a38"/>
<circle cx="202.32" cy="438.90" r="1.05" fill="#2f8a38"/>
<circle cx="204.46" cy="439.20" r="1.05" fill="#2f8a38"/>
<circle cx="206.59" cy="438.90" r="1.05" fill="#2f8a38"/>
<circle cx="208.72" cy="438.90" r="1.05" fill="#2f8a38"/>
<circle cx="210.86" cy="438.50" r="1.05" fill="#2f8a38"/>
<circle cx="212.99" cy="438.10" r="1.05" fill="#2f8a38"/>
<circle cx="215.13" cy="439.20" r="1.05" fill="#2f8a38"/>
<circle cx="217.26" cy="438.90" r="1.05" fill="#2f8a38"/>
</g>
<rect x="25.4" y="314.6" width="193.6" height="135.7" fill="none" stroke="#1a1a1a" stroke-width="1.25"/>
<line x1="23.799999999999997" y1="441.30" x2="25.4" y2="441.30" stroke="#1a1a1a" stroke-width="1"/>
<text x="22.80" y="444.50" font-size="9.2" font-weight="bold" fill="#000" text-anchor="end" stroke="#000" stroke-width="0.22">0</text>
<line x1="23.799999999999997" y1="423.18" x2="25.4" y2="423.18" stroke="#1a1a1a" stroke-width="1"/>
<text x="22.80" y="426.38" font-size="9.2" font-weight="bold" fill="#000" text-anchor="end" stroke="#000" stroke-width="0.22">2</text>
<line x1="23.799999999999997" y1="405.06" x2="25.4" y2="405.06" stroke="#1a1a1a" stroke-width="1"/>
<text x="22.80" y="408.26" font-size="9.2" font-weight="bold" fill="#000" text-anchor="end" stroke="#000" stroke-width="0.22">4</text>
<line x1="23.799999999999997" y1="386.94" x2="25.4" y2="386.94" stroke="#1a1a1a" stroke-width="1"/>
<text x="22.80" y="390.14" font-size="9.2" font-weight="bold" fill="#000" text-anchor="end" stroke="#000" stroke-width="0.22">6</text>
<line x1="23.799999999999997" y1="368.82" x2="25.4" y2="368.82" stroke="#1a1a1a" stroke-width="1"/>
<text x="22.80" y="372.02" font-size="9.2" font-weight="bold" fill="#000" text-anchor="end" stroke="#000" stroke-width="0.22">8</text>
<line x1="23.799999999999997" y1="350.70" x2="25.4" y2="350.70" stroke="#1a1a1a" stroke-width="1"/>
<text x="22.80" y="353.90" font-size="9.2" font-weight="bold" fill="#000" text-anchor="end" stroke="#000" stroke-width="0.22">10</text>
<line x1="23.799999999999997" y1="332.58" x2="25.4" y2="332.58" stroke="#1a1a1a" stroke-width="1"/>
<text x="22.80" y="335.78" font-size="9.2" font-weight="bold" fill="#000" text-anchor="end" stroke="#000" stroke-width="0.22">12</text>
<line x1="23.799999999999997" y1="314.46" x2="25.4" y2="314.46" stroke="#1a1a1a" stroke-width="1"/>
<text x="22.80" y="317.66" font-size="9.2" font-weight="bold" fill="#000" text-anchor="end" stroke="#000" stroke-width="0.22">14</text>
<line x1="219.0" y1="450.10" x2="221.6" y2="450.10" stroke="#1a1a1a" stroke-width="1"/>
<text x="221.60" y="453.30" font-size="9.2" font-weight="bold" fill="#000" text-anchor="start" stroke="#000" stroke-width="0.22">0</text>
<line x1="219.0" y1="425.40" x2="221.6" y2="425.40" stroke="#1a1a1a" stroke-width="1"/>
<text x="221.60" y="428.60" font-size="9.2" font-weight="bold" fill="#000" text-anchor="start" stroke="#000" stroke-width="0.22">20</text>
<line x1="219.0" y1="400.70" x2="221.6" y2="400.70" stroke="#1a1a1a" stroke-width="1"/>
<text x="221.60" y="403.90" font-size="9.2" font-weight="bold" fill="#000" text-anchor="start" stroke="#000" stroke-width="0.22">40</text>
<line x1="219.0" y1="376.00" x2="221.6" y2="376.00" stroke="#1a1a1a" stroke-width="1"/>
<text x="221.60" y="379.20" font-size="9.2" font-weight="bold" fill="#000" text-anchor="start" stroke="#000" stroke-width="0.22">60</text>
<line x1="219.0" y1="351.30" x2="221.6" y2="351.30" stroke="#1a1a1a" stroke-width="1"/>
<text x="221.60" y="354.50" font-size="9.2" font-weight="bold" fill="#000" text-anchor="start" stroke="#000" stroke-width="0.22">80</text>
<line x1="219.0" y1="326.60" x2="221.6" y2="326.60" stroke="#1a1a1a" stroke-width="1"/>
<text x="221.60" y="329.80" font-size="9.2" font-weight="bold" fill="#000" text-anchor="start" stroke="#000" stroke-width="0.22">100</text>
<line x1="219.0" y1="437.75" x2="220.5" y2="437.75" stroke="#1a1a1a" stroke-width="0.9"/>
<line x1="219.0" y1="413.05" x2="220.5" y2="413.05" stroke="#1a1a1a" stroke-width="0.9"/>
<line x1="219.0" y1="388.35" x2="220.5" y2="388.35" stroke="#1a1a1a" stroke-width="0.9"/>
<line x1="219.0" y1="363.65" x2="220.5" y2="363.65" stroke="#1a1a1a" stroke-width="0.9"/>
<line x1="219.0" y1="338.95" x2="220.5" y2="338.95" stroke="#1a1a1a" stroke-width="0.9"/>
<line x1="25.20" y1="450.3" x2="25.20" y2="452.7" stroke="#1a1a1a" stroke-width="1"/>
<text x="25.20" y="460.90" font-size="9.2" font-weight="bold" fill="#000" text-anchor="middle" stroke="#000" stroke-width="0.22">0</text>
<line x1="46.54" y1="450.3" x2="46.54" y2="452.7" stroke="#1a1a1a" stroke-width="1"/>
<text x="46.54" y="460.90" font-size="9.2" font-weight="bold" fill="#000" text-anchor="middle" stroke="#000" stroke-width="0.22">10</text>
<line x1="67.88" y1="450.3" x2="67.88" y2="452.7" stroke="#1a1a1a" stroke-width="1"/>
<text x="67.88" y="460.90" font-size="9.2" font-weight="bold" fill="#000" text-anchor="middle" stroke="#000" stroke-width="0.22">20</text>
<line x1="89.22" y1="450.3" x2="89.22" y2="452.7" stroke="#1a1a1a" stroke-width="1"/>
<text x="89.22" y="460.90" font-size="9.2" font-weight="bold" fill="#000" text-anchor="middle" stroke="#000" stroke-width="0.22">30</text>
<line x1="110.56" y1="450.3" x2="110.56" y2="452.7" stroke="#1a1a1a" stroke-width="1"/>
<text x="110.56" y="460.90" font-size="9.2" font-weight="bold" fill="#000" text-anchor="middle" stroke="#000" stroke-width="0.22">40</text>
<line x1="131.90" y1="450.3" x2="131.90" y2="452.7" stroke="#1a1a1a" stroke-width="1"/>
<text x="131.90" y="460.90" font-size="9.2" font-weight="bold" fill="#000" text-anchor="middle" stroke="#000" stroke-width="0.22">50</text>
<line x1="153.24" y1="450.3" x2="153.24" y2="452.7" stroke="#1a1a1a" stroke-width="1"/>
<text x="153.24" y="460.90" font-size="9.2" font-weight="bold" fill="#000" text-anchor="middle" stroke="#000" stroke-width="0.22">60</text>
<line x1="174.58" y1="450.3" x2="174.58" y2="452.7" stroke="#1a1a1a" stroke-width="1"/>
<text x="174.58" y="460.90" font-size="9.2" font-weight="bold" fill="#000" text-anchor="middle" stroke="#000" stroke-width="0.22">70</text>
<line x1="195.92" y1="450.3" x2="195.92" y2="452.7" stroke="#1a1a1a" stroke-width="1"/>
<text x="195.92" y="460.90" font-size="9.2" font-weight="bold" fill="#000" text-anchor="middle" stroke="#000" stroke-width="0.22">80</text>
<line x1="217.26" y1="450.3" x2="217.26" y2="452.7" stroke="#1a1a1a" stroke-width="1"/>
<text x="217.26" y="460.90" font-size="9.2" font-weight="bold" fill="#000" text-anchor="middle" stroke="#000" stroke-width="0.22">90</text>
<text x="83.86" y="472.20" font-size="9.9" font-weight="bold" fill="#000" textLength="76.71" lengthAdjust="spacingAndGlyphs">Running time (d)</text>
<text transform="translate(10.20,417.91) rotate(-90)" font-size="9.8" font-weight="bold" fill="#000" textLength="71.09" lengthAdjust="spacingAndGlyphs">Turbidity (NTU)</text>
<text transform="translate(243.10,421.55) rotate(-90)" font-size="9.8" font-weight="bold" fill="#000" textLength="80.44" lengthAdjust="spacingAndGlyphs">Removal rate (%)</text>
<line x1="27.9" y1="320.5" x2="43.2" y2="320.5" stroke="#c8641c" stroke-width="1.1"/>
<rect x="34.3" y="319.2" width="2.6" height="2.6" fill="#c8641c"/>
<text x="44.79" y="323.70" font-size="9.2" font-weight="bold" fill="#000" textLength="33.63" lengthAdjust="spacingAndGlyphs">Influent</text>
<line x1="81.2" y1="320.5" x2="96.5" y2="320.5" stroke="#2f8a38" stroke-width="1.1"/>
<circle cx="88.8" cy="320.5" r="1.4" fill="#2f8a38"/>
<text x="98.90" y="323.70" font-size="9.2" font-weight="bold" fill="#000" textLength="33.60" lengthAdjust="spacingAndGlyphs">Effluent</text>
<rect x="141.6" y="317.5" width="12.7" height="5.9" fill="#b6e5fe"/>
<text x="160.30" y="323.70" font-size="9.2" font-weight="bold" fill="#000" textLength="57.11" lengthAdjust="spacingAndGlyphs">Removal rate</text>
<clipPath id="eclip"><rect x="282.4" y="314.5" width="196.90000000000003" height="136.39999999999998"/></clipPath>
<g clip-path="url(#eclip)">
<path d="M283.48,450.9 L283.48,409.9 L285.64,409.9 L285.64,357.6 L287.80,357.6 L287.80,414.5 L289.96,414.5 L289.96,419.0 L292.12,419.0 L292.12,355.3 L294.29,355.3 L294.29,407.7 L296.45,407.7 L296.45,423.6 L298.61,423.6 L298.61,430.4 L300.77,430.4 L300.77,389.5 L302.93,389.5 L302.93,412.2 L305.09,412.2 L305.09,396.3 L307.25,396.3 L307.25,400.8 L309.41,400.8 L309.41,396.3 L311.57,396.3 L311.57,407.7 L313.73,407.7 L313.73,450.9 L315.90,450.9 L315.90,419.0 L318.06,419.0 L318.06,396.3 L320.22,396.3 L320.22,423.6 L322.38,423.6 L322.38,407.7 L324.54,407.7 L324.54,441.8 L326.70,441.8 L326.70,414.5 L328.86,414.5 L328.86,421.3 L331.02,421.3 L331.02,403.1 L333.18,403.1 L333.18,364.4 L335.34,364.4 L335.34,414.5 L337.51,414.5 L337.51,421.3 L339.67,421.3 L339.67,412.2 L341.83,412.2 L341.83,428.1 L343.99,428.1 L343.99,414.5 L346.15,414.5 L346.15,384.9 L348.31,384.9 L348.31,423.6 L350.47,423.6 L350.47,375.8 L352.63,375.8 L352.63,412.2 L354.79,412.2 L354.79,423.6 L356.95,423.6 L356.95,359.9 L359.12,359.9 L359.12,416.8 L361.28,416.8 L361.28,409.9 L363.44,409.9 L363.44,421.3 L365.60,421.3 L365.60,344.0 L367.76,344.0 L367.76,414.5 L369.92,414.5 L369.92,421.3 L372.08,421.3 L372.08,388.1 L374.24,388.1 L374.24,388.1 L376.40,388.1 L376.40,423.6 L378.56,423.6 L378.56,364.9 L380.73,364.9 L380.73,349.0 L382.89,349.0 L382.89,349.0 L385.05,349.0 L385.05,416.8 L387.21,416.8 L387.21,400.8 L389.37,400.8 L389.37,423.6 L391.53,423.6 L391.53,409.9 L393.69,409.9 L393.69,444.1 L395.85,444.1 L395.85,375.8 L398.01,375.8 L398.01,375.8 L400.17,375.8 L400.17,414.5 L402.34,414.5 L402.34,403.1 L404.50,403.1 L404.50,389.5 L406.66,389.5 L406.66,419.0 L408.82,419.0 L408.82,423.6 L410.98,423.6 L410.98,376.7 L413.14,376.7 L413.14,409.9 L415.30,409.9 L415.30,419.0 L417.46,419.0 L417.46,421.3 L419.62,421.3 L419.62,375.8 L421.78,375.8 L421.78,412.2 L423.95,412.2 L423.95,416.8 L426.11,416.8 L426.11,450.9 L428.27,450.9 L428.27,400.8 L430.43,400.8 L430.43,414.5 L432.59,414.5 L432.59,409.9 L434.75,409.9 L434.75,437.9 L436.91,437.9 L436.91,419.0 L439.07,419.0 L439.07,405.4 L441.23,405.4 L441.23,414.5 L443.39,414.5 L443.39,421.3 L445.56,421.3 L445.56,409.9 L447.72,409.9 L447.72,403.1 L449.88,403.1 L449.88,419.0 L452.04,419.0 L452.04,419.0 L454.20,419.0 L454.20,405.4 L456.36,405.4 L456.36,412.2 L458.52,412.2 L458.52,414.5 L460.68,414.5 L460.68,416.8 L462.84,416.8 L462.84,425.9 L465.00,425.9 L465.00,421.3 L467.17,421.3 L467.17,409.9 L469.33,409.9 L469.33,400.8 L471.49,400.8 L471.49,377.0 L473.65,377.0 L473.65,372.0 L475.81,372.0 L475.81,409.9 L477.97,409.9 L477.97,450.9 Z" fill="#fdd6b4"/>
<rect x="282.4" y="423.6" width="1.08" height="27.3" fill="#fdd6b4"/>
<polyline points="284.56,405.10 286.72,392.90 288.88,402.10 291.04,389.90 293.20,408.90 295.37,389.90 297.53,395.20 299.69,407.40 301.85,411.90 304.01,411.20 306.17,402.80 308.33,403.60 310.49,407.10 312.65,409.70 314.81,408.90 316.98,402.10 319.14,403.60 321.30,402.50 323.46,410.10 325.62,401.70 327.78,397.30 329.94,397.30 332.10,390.70 334.26,385.50 336.42,403.90 338.59,409.10 340.75,412.80 342.91,399.20 345.07,422.40 347.23,414.30 349.39,404.70 351.55,406.60 353.71,405.40 355.87,411.50 358.03,375.80 360.20,374.80 362.36,390.00 364.52,390.30 366.68,401.80 368.84,392.30 371.00,398.80 373.16,407.50 375.32,389.00 377.48,399.10 379.64,400.10 381.81,415.30 383.97,409.70 386.13,381.00 388.29,423.20 390.45,372.00 392.61,382.00 394.77,380.10 396.93,391.80 399.09,376.90 401.25,391.30 403.42,396.40 405.58,395.80 407.74,404.80 409.90,381.70 412.06,369.90 414.22,375.60 416.38,382.00 418.54,394.70 420.70,383.40 422.87,394.70 425.03,394.70 427.19,393.00 429.35,388.70 431.51,382.80 433.67,388.80 435.83,393.50 437.99,388.80 440.15,390.40 442.31,403.90 444.47,401.40 446.64,395.00 448.80,388.40 450.96,385.70 453.12,382.80 455.28,387.90 457.44,380.00 459.60,403.90 461.76,405.00 463.92,379.70 466.08,385.70 468.25,383.70 470.41,387.90 472.57,399.20 474.73,377.80 476.89,403.10" fill="none" stroke="#a5155f" stroke-width="1.2" stroke-linejoin="round"/>
<rect x="283.51" y="404.05" width="2.1" height="2.1" fill="#a5155f"/>
<rect x="285.67" y="391.85" width="2.1" height="2.1" fill="#a5155f"/>
<rect x="287.83" y="401.05" width="2.1" height="2.1" fill="#a5155f"/>
<rect x="289.99" y="388.85" width="2.1" height="2.1" fill="#a5155f"/>
<rect x="292.15" y="407.85" width="2.1" height="2.1" fill="#a5155f"/>
<rect x="294.32" y="388.85" width="2.1" height="2.1" fill="#a5155f"/>
<rect x="296.48" y="394.15" width="2.1" height="2.1" fill="#a5155f"/>
<rect x="298.64" y="406.35" width="2.1" height="2.1" fill="#a5155f"/>
<rect x="300.80" y="410.85" width="2.1" height="2.1" fill="#a5155f"/>
<rect x="302.96" y="410.15" width="2.1" height="2.1" fill="#a5155f"/>
<rect x="305.12" y="401.75" width="2.1" height="2.1" fill="#a5155f"/>
<rect x="307.28" y="402.55" width="2.1" height="2.1" fill="#a5155f"/>
<rect x="309.44" y="406.05" width="2.1" height="2.1" fill="#a5155f"/>
<rect x="311.60" y="408.65" width="2.1" height="2.1" fill="#a5155f"/>
<rect x="313.76" y="407.85" width="2.1" height="2.1" fill="#a5155f"/>
<rect x="315.93" y="401.05" width="2.1" height="2.1" fill="#a5155f"/>
<rect x="318.09" y="402.55" width="2.1" height="2.1" fill="#a5155f"/>
<rect x="320.25" y="401.45" width="2.1" height="2.1" fill="#a5155f"/>
<rect x="322.41" y="409.05" width="2.1" height="2.1" fill="#a5155f"/>
<rect x="324.57" y="400.65" width="2.1" height="2.1" fill="#a5155f"/>
<rect x="326.73" y="396.25" width="2.1" height="2.1" fill="#a5155f"/>
<rect x="328.89" y="396.25" width="2.1" height="2.1" fill="#a5155f"/>
<rect x="331.05" y="389.65" width="2.1" height="2.1" fill="#a5155f"/>
<rect x="333.21" y="384.45" width="2.1" height="2.1" fill="#a5155f"/>
<rect x="335.37" y="402.85" width="2.1" height="2.1" fill="#a5155f"/>
<rect x="337.54" y="408.05" width="2.1" height="2.1" fill="#a5155f"/>
<rect x="339.70" y="411.75" width="2.1" height="2.1" fill="#a5155f"/>
<rect x="341.86" y="398.15" width="2.1" height="2.1" fill="#a5155f"/>
<rect x="344.02" y="421.35" width="2.1" height="2.1" fill="#a5155f"/>
<rect x="346.18" y="413.25" width="2.1" height="2.1" fill="#a5155f"/>
<rect x="348.34" y="403.65" width="2.1" height="2.1" fill="#a5155f"/>
<rect x="350.50" y="405.55" width="2.1" height="2.1" fill="#a5155f"/>
<rect x="352.66" y="404.35" width="2.1" height="2.1" fill="#a5155f"/>
<rect x="354.82" y="410.45" width="2.1" height="2.1" fill="#a5155f"/>
<rect x="356.98" y="374.75" width="2.1" height="2.1" fill="#a5155f"/>
<rect x="359.15" y="373.75" width="2.1" height="2.1" fill="#a5155f"/>
<rect x="361.31" y="388.95" width="2.1" height="2.1" fill="#a5155f"/>
<rect x="363.47" y="389.25" width="2.1" height="2.1" fill="#a5155f"/>
<rect x="365.63" y="400.75" width="2.1" height="2.1" fill="#a5155f"/>
<rect x="367.79" y="391.25" width="2.1" height="2.1" fill="#a5155f"/>
<rect x="369.95" y="397.75" width="2.1" height="2.1" fill="#a5155f"/>
<rect x="372.11" y="406.45" width="2.1" height="2.1" fill="#a5155f"/>
<rect x="374.27" y="387.95" width="2.1" height="2.1" fill="#a5155f"/>
<rect x="376.43" y="398.05" width="2.1" height="2.1" fill="#a5155f"/>
<rect x="378.59" y="399.05" width="2.1" height="2.1" fill="#a5155f"/>
<rect x="380.76" y="414.25" width="2.1" height="2.1" fill="#a5155f"/>
<rect x="382.92" y="408.65" width="2.1" height="2.1" fill="#a5155f"/>
<rect x="385.08" y="379.95" width="2.1" height="2.1" fill="#a5155f"/>
<rect x="387.24" y="422.15" width="2.1" height="2.1" fill="#a5155f"/>
<rect x="389.40" y="370.95" width="2.1" height="2.1" fill="#a5155f"/>
<rect x="391.56" y="380.95" width="2.1" height="2.1" fill="#a5155f"/>
<rect x="393.72" y="379.05" width="2.1" height="2.1" fill="#a5155f"/>
<rect x="395.88" y="390.75" width="2.1" height="2.1" fill="#a5155f"/>
<rect x="398.04" y="375.85" width="2.1" height="2.1" fill="#a5155f"/>
<rect x="400.20" y="390.25" width="2.1" height="2.1" fill="#a5155f"/>
<rect x="402.37" y="395.35" width="2.1" height="2.1" fill="#a5155f"/>
<rect x="404.53" y="394.75" width="2.1" height="2.1" fill="#a5155f"/>
<rect x="406.69" y="403.75" width="2.1" height="2.1" fill="#a5155f"/>
<rect x="408.85" y="380.65" width="2.1" height="2.1" fill="#a5155f"/>
<rect x="411.01" y="368.85" width="2.1" height="2.1" fill="#a5155f"/>
<rect x="413.17" y="374.55" width="2.1" height="2.1" fill="#a5155f"/>
<rect x="415.33" y="380.95" width="2.1" height="2.1" fill="#a5155f"/>
<rect x="417.49" y="393.65" width="2.1" height="2.1" fill="#a5155f"/>
<rect x="419.65" y="382.35" width="2.1" height="2.1" fill="#a5155f"/>
<rect x="421.81" y="393.65" width="2.1" height="2.1" fill="#a5155f"/>
<rect x="423.98" y="393.65" width="2.1" height="2.1" fill="#a5155f"/>
<rect x="426.14" y="391.95" width="2.1" height="2.1" fill="#a5155f"/>
<rect x="428.30" y="387.65" width="2.1" height="2.1" fill="#a5155f"/>
<rect x="430.46" y="381.75" width="2.1" height="2.1" fill="#a5155f"/>
<rect x="432.62" y="387.75" width="2.1" height="2.1" fill="#a5155f"/>
<rect x="434.78" y="392.45" width="2.1" height="2.1" fill="#a5155f"/>
<rect x="436.94" y="387.75" width="2.1" height="2.1" fill="#a5155f"/>
<rect x="439.10" y="389.35" width="2.1" height="2.1" fill="#a5155f"/>
<rect x="441.26" y="402.85" width="2.1" height="2.1" fill="#a5155f"/>
<rect x="443.42" y="400.35" width="2.1" height="2.1" fill="#a5155f"/>
<rect x="445.59" y="393.95" width="2.1" height="2.1" fill="#a5155f"/>
<rect x="447.75" y="387.35" width="2.1" height="2.1" fill="#a5155f"/>
<rect x="449.91" y="384.65" width="2.1" height="2.1" fill="#a5155f"/>
<rect x="452.07" y="381.75" width="2.1" height="2.1" fill="#a5155f"/>
<rect x="454.23" y="386.85" width="2.1" height="2.1" fill="#a5155f"/>
<rect x="456.39" y="378.95" width="2.1" height="2.1" fill="#a5155f"/>
<rect x="458.55" y="402.85" width="2.1" height="2.1" fill="#a5155f"/>
<rect x="460.71" y="403.95" width="2.1" height="2.1" fill="#a5155f"/>
<rect x="462.87" y="378.65" width="2.1" height="2.1" fill="#a5155f"/>
<rect x="465.03" y="384.65" width="2.1" height="2.1" fill="#a5155f"/>
<rect x="467.20" y="382.65" width="2.1" height="2.1" fill="#a5155f"/>
<rect x="469.36" y="386.85" width="2.1" height="2.1" fill="#a5155f"/>
<rect x="471.52" y="398.15" width="2.1" height="2.1" fill="#a5155f"/>
<rect x="473.68" y="376.75" width="2.1" height="2.1" fill="#a5155f"/>
<rect x="475.84" y="402.05" width="2.1" height="2.1" fill="#a5155f"/>
<polyline points="284.56,412.70 286.72,424.90 288.88,420.30 291.04,411.90 293.20,436.00 295.37,402.80 297.53,402.80 299.69,411.90 301.85,428.40 304.01,424.10 306.17,419.80 308.33,417.70 310.49,422.90 312.65,416.80 314.81,412.70 316.98,407.70 319.14,420.80 321.30,412.30 323.46,416.90 325.62,404.20 327.78,414.00 329.94,412.80 332.10,410.60 334.26,418.70 336.42,411.00 338.59,418.70 340.75,425.80 342.91,412.50 345.07,428.70 347.23,430.50 349.39,409.60 351.55,428.70 353.71,417.50 355.87,425.40 358.03,414.00 360.20,396.00 362.36,400.80 364.52,405.50 366.68,434.20 368.84,408.50 371.00,414.30 373.16,418.70 375.32,412.30 377.48,419.30 379.64,426.60 381.81,439.30 383.97,436.70 386.13,404.20 388.29,424.90 390.45,405.50 392.61,404.50 394.77,403.50 396.93,395.20 399.09,408.70 401.25,408.20 403.42,412.40 405.58,417.10 407.74,417.10 409.90,400.20 412.06,382.00 414.22,394.70 416.38,408.70 418.54,403.90 420.70,414.90 422.87,403.10 425.03,409.30 427.19,393.00 429.35,403.10 431.51,404.30 433.67,393.50 435.83,404.80 437.99,400.20 440.15,404.80 442.31,410.40 444.47,412.40 446.64,410.50 448.80,405.80 450.96,398.00 453.12,395.20 455.28,404.00 457.44,403.10 459.60,413.70 461.76,420.60 463.92,400.70 466.08,394.50 468.25,406.50 470.41,407.70 472.57,422.50 474.73,409.90 476.89,420.00" fill="none" stroke="#5b80f2" stroke-width="1.2" stroke-linejoin="round"/>
<circle cx="284.56" cy="412.70" r="1.1" fill="#5b80f2"/>
<circle cx="286.72" cy="424.90" r="1.1" fill="#5b80f2"/>
<circle cx="288.88" cy="420.30" r="1.1" fill="#5b80f2"/>
<circle cx="291.04" cy="411.90" r="1.1" fill="#5b80f2"/>
<circle cx="293.20" cy="436.00" r="1.1" fill="#5b80f2"/>
<circle cx="295.37" cy="402.80" r="1.1" fill="#5b80f2"/>
<circle cx="297.53" cy="402.80" r="1.1" fill="#5b80f2"/>
<circle cx="299.69" cy="411.90" r="1.1" fill="#5b80f2"/>
<circle cx="301.85" cy="428.40" r="1.1" fill="#5b80f2"/>
<circle cx="304.01" cy="424.10" r="1.1" fill="#5b80f2"/>
<circle cx="306.17" cy="419.80" r="1.1" fill="#5b80f2"/>
<circle cx="308.33" cy="417.70" r="1.1" fill="#5b80f2"/>
<circle cx="310.49" cy="422.90" r="1.1" fill="#5b80f2"/>
<circle cx="312.65" cy="416.80" r="1.1" fill="#5b80f2"/>
<circle cx="314.81" cy="412.70" r="1.1" fill="#5b80f2"/>
<circle cx="316.98" cy="407.70" r="1.1" fill="#5b80f2"/>
<circle cx="319.14" cy="420.80" r="1.1" fill="#5b80f2"/>
<circle cx="321.30" cy="412.30" r="1.1" fill="#5b80f2"/>
<circle cx="323.46" cy="416.90" r="1.1" fill="#5b80f2"/>
<circle cx="325.62" cy="404.20" r="1.1" fill="#5b80f2"/>
<circle cx="327.78" cy="414.00" r="1.1" fill="#5b80f2"/>
<circle cx="329.94" cy="412.80" r="1.1" fill="#5b80f2"/>
<circle cx="332.10" cy="410.60" r="1.1" fill="#5b80f2"/>
<circle cx="334.26" cy="418.70" r="1.1" fill="#5b80f2"/>
<circle cx="336.42" cy="411.00" r="1.1" fill="#5b80f2"/>
<circle cx="338.59" cy="418.70" r="1.1" fill="#5b80f2"/>
<circle cx="340.75" cy="425.80" r="1.1" fill="#5b80f2"/>
<circle cx="342.91" cy="412.50" r="1.1" fill="#5b80f2"/>
<circle cx="345.07" cy="428.70" r="1.1" fill="#5b80f2"/>
<circle cx="347.23" cy="430.50" r="1.1" fill="#5b80f2"/>
<circle cx="349.39" cy="409.60" r="1.1" fill="#5b80f2"/>
<circle cx="351.55" cy="428.70" r="1.1" fill="#5b80f2"/>
<circle cx="353.71" cy="417.50" r="1.1" fill="#5b80f2"/>
<circle cx="355.87" cy="425.40" r="1.1" fill="#5b80f2"/>
<circle cx="358.03" cy="414.00" r="1.1" fill="#5b80f2"/>
<circle cx="360.20" cy="396.00" r="1.1" fill="#5b80f2"/>
<circle cx="362.36" cy="400.80" r="1.1" fill="#5b80f2"/>
<circle cx="364.52" cy="405.50" r="1.1" fill="#5b80f2"/>
<circle cx="366.68" cy="434.20" r="1.1" fill="#5b80f2"/>
<circle cx="368.84" cy="408.50" r="1.1" fill="#5b80f2"/>
<circle cx="371.00" cy="414.30" r="1.1" fill="#5b80f2"/>
<circle cx="373.16" cy="418.70" r="1.1" fill="#5b80f2"/>
<circle cx="375.32" cy="412.30" r="1.1" fill="#5b80f2"/>
<circle cx="377.48" cy="419.30" r="1.1" fill="#5b80f2"/>
<circle cx="379.64" cy="426.60" r="1.1" fill="#5b80f2"/>
<circle cx="381.81" cy="439.30" r="1.1" fill="#5b80f2"/>
<circle cx="383.97" cy="436.70" r="1.1" fill="#5b80f2"/>
<circle cx="386.13" cy="404.20" r="1.1" fill="#5b80f2"/>
<circle cx="388.29" cy="424.90" r="1.1" fill="#5b80f2"/>
<circle cx="390.45" cy="405.50" r="1.1" fill="#5b80f2"/>
<circle cx="392.61" cy="404.50" r="1.1" fill="#5b80f2"/>
<circle cx="394.77" cy="403.50" r="1.1" fill="#5b80f2"/>
<circle cx="396.93" cy="395.20" r="1.1" fill="#5b80f2"/>
<circle cx="399.09" cy="408.70" r="1.1" fill="#5b80f2"/>
<circle cx="401.25" cy="408.20" r="1.1" fill="#5b80f2"/>
<circle cx="403.42" cy="412.40" r="1.1" fill="#5b80f2"/>
<circle cx="405.58" cy="417.10" r="1.1" fill="#5b80f2"/>
<circle cx="407.74" cy="417.10" r="1.1" fill="#5b80f2"/>
<circle cx="409.90" cy="400.20" r="1.1" fill="#5b80f2"/>
<circle cx="412.06" cy="382.00" r="1.1" fill="#5b80f2"/>
<circle cx="414.22" cy="394.70" r="1.1" fill="#5b80f2"/>
<circle cx="416.38" cy="408.70" r="1.1" fill="#5b80f2"/>
<circle cx="418.54" cy="403.90" r="1.1" fill="#5b80f2"/>
<circle cx="420.70" cy="414.90" r="1.1" fill="#5b80f2"/>
<circle cx="422.87" cy="403.10" r="1.1" fill="#5b80f2"/>
<circle cx="425.03" cy="409.30" r="1.1" fill="#5b80f2"/>
<circle cx="427.19" cy="393.00" r="1.1" fill="#5b80f2"/>
<circle cx="429.35" cy="403.10" r="1.1" fill="#5b80f2"/>
<circle cx="431.51" cy="404.30" r="1.1" fill="#5b80f2"/>
<circle cx="433.67" cy="393.50" r="1.1" fill="#5b80f2"/>
<circle cx="435.83" cy="404.80" r="1.1" fill="#5b80f2"/>
<circle cx="437.99" cy="400.20" r="1.1" fill="#5b80f2"/>
<circle cx="440.15" cy="404.80" r="1.1" fill="#5b80f2"/>
<circle cx="442.31" cy="410.40" r="1.1" fill="#5b80f2"/>
<circle cx="444.47" cy="412.40" r="1.1" fill="#5b80f2"/>
<circle cx="446.64" cy="410.50" r="1.1" fill="#5b80f2"/>
<circle cx="448.80" cy="405.80" r="1.1" fill="#5b80f2"/>
<circle cx="450.96" cy="398.00" r="1.1" fill="#5b80f2"/>
<circle cx="453.12" cy="395.20" r="1.1" fill="#5b80f2"/>
<circle cx="455.28" cy="404.00" r="1.1" fill="#5b80f2"/>
<circle cx="457.44" cy="403.10" r="1.1" fill="#5b80f2"/>
<circle cx="459.60" cy="413.70" r="1.1" fill="#5b80f2"/>
<circle cx="461.76" cy="420.60" r="1.1" fill="#5b80f2"/>
<circle cx="463.92" cy="400.70" r="1.1" fill="#5b80f2"/>
<circle cx="466.08" cy="394.50" r="1.1" fill="#5b80f2"/>
<circle cx="468.25" cy="406.50" r="1.1" fill="#5b80f2"/>
<circle cx="470.41" cy="407.70" r="1.1" fill="#5b80f2"/>
<circle cx="472.57" cy="422.50" r="1.1" fill="#5b80f2"/>
<circle cx="474.73" cy="409.90" r="1.1" fill="#5b80f2"/>
<circle cx="476.89" cy="420.00" r="1.1" fill="#5b80f2"/>
</g>
<rect x="282.4" y="314.5" width="196.90000000000003" height="136.39999999999998" fill="none" stroke="#1a1a1a" stroke-width="1.25"/>
<line x1="279.79999999999995" y1="450.90" x2="282.4" y2="450.90" stroke="#1a1a1a" stroke-width="1"/>
<text x="279.60" y="454.10" font-size="9.2" font-weight="bold" fill="#000" text-anchor="end" stroke="#000" stroke-width="0.22">1</text>
<line x1="279.79999999999995" y1="431.41" x2="282.4" y2="431.41" stroke="#1a1a1a" stroke-width="1"/>
<text x="279.60" y="434.61" font-size="9.2" font-weight="bold" fill="#000" text-anchor="end" stroke="#000" stroke-width="0.22">2</text>
<line x1="279.79999999999995" y1="411.92" x2="282.4" y2="411.92" stroke="#1a1a1a" stroke-width="1"/>
<text x="279.60" y="415.12" font-size="9.2" font-weight="bold" fill="#000" text-anchor="end" stroke="#000" stroke-width="0.22">3</text>
<line x1="279.79999999999995" y1="392.43" x2="282.4" y2="392.43" stroke="#1a1a1a" stroke-width="1"/>
<text x="279.60" y="395.63" font-size="9.2" font-weight="bold" fill="#000" text-anchor="end" stroke="#000" stroke-width="0.22">4</text>
<line x1="279.79999999999995" y1="372.94" x2="282.4" y2="372.94" stroke="#1a1a1a" stroke-width="1"/>
<text x="279.60" y="376.14" font-size="9.2" font-weight="bold" fill="#000" text-anchor="end" stroke="#000" stroke-width="0.22">5</text>
<line x1="279.79999999999995" y1="353.45" x2="282.4" y2="353.45" stroke="#1a1a1a" stroke-width="1"/>
<text x="279.60" y="356.65" font-size="9.2" font-weight="bold" fill="#000" text-anchor="end" stroke="#000" stroke-width="0.22">6</text>
<line x1="279.79999999999995" y1="333.96" x2="282.4" y2="333.96" stroke="#1a1a1a" stroke-width="1"/>
<text x="279.60" y="337.16" font-size="9.2" font-weight="bold" fill="#000" text-anchor="end" stroke="#000" stroke-width="0.22">7</text>
<line x1="279.79999999999995" y1="314.47" x2="282.4" y2="314.47" stroke="#1a1a1a" stroke-width="1"/>
<text x="279.60" y="317.67" font-size="9.2" font-weight="bold" fill="#000" text-anchor="end" stroke="#000" stroke-width="0.22">8</text>
<line x1="280.9" y1="441.15" x2="282.4" y2="441.15" stroke="#1a1a1a" stroke-width="0.9"/>
<line x1="280.9" y1="421.66" x2="282.4" y2="421.66" stroke="#1a1a1a" stroke-width="0.9"/>
<line x1="280.9" y1="402.17" x2="282.4" y2="402.17" stroke="#1a1a1a" stroke-width="0.9"/>
<line x1="280.9" y1="382.69" x2="282.4" y2="382.69" stroke="#1a1a1a" stroke-width="0.9"/>
<line x1="280.9" y1="363.19" x2="282.4" y2="363.19" stroke="#1a1a1a" stroke-width="0.9"/>
<line x1="280.9" y1="343.70" x2="282.4" y2="343.70" stroke="#1a1a1a" stroke-width="0.9"/>
<line x1="280.9" y1="324.21" x2="282.4" y2="324.21" stroke="#1a1a1a" stroke-width="0.9"/>
<line x1="479.3" y1="450.90" x2="481.90000000000003" y2="450.90" stroke="#1a1a1a" stroke-width="1"/>
<text x="482.10" y="454.10" font-size="9.2" font-weight="bold" fill="#000" text-anchor="start" stroke="#000" stroke-width="0.22">0</text>
<line x1="479.3" y1="428.15" x2="481.90000000000003" y2="428.15" stroke="#1a1a1a" stroke-width="1"/>
<text x="482.10" y="431.35" font-size="9.2" font-weight="bold" fill="#000" text-anchor="start" stroke="#000" stroke-width="0.22">10</text>
<line x1="479.3" y1="405.40" x2="481.90000000000003" y2="405.40" stroke="#1a1a1a" stroke-width="1"/>
<text x="482.10" y="408.60" font-size="9.2" font-weight="bold" fill="#000" text-anchor="start" stroke="#000" stroke-width="0.22">20</text>
<line x1="479.3" y1="382.65" x2="481.90000000000003" y2="382.65" stroke="#1a1a1a" stroke-width="1"/>
<text x="482.10" y="385.85" font-size="9.2" font-weight="bold" fill="#000" text-anchor="start" stroke="#000" stroke-width="0.22">30</text>
<line x1="479.3" y1="359.90" x2="481.90000000000003" y2="359.90" stroke="#1a1a1a" stroke-width="1"/>
<text x="482.10" y="363.10" font-size="9.2" font-weight="bold" fill="#000" text-anchor="start" stroke="#000" stroke-width="0.22">40</text>
<line x1="479.3" y1="337.15" x2="481.90000000000003" y2="337.15" stroke="#1a1a1a" stroke-width="1"/>
<text x="482.10" y="340.35" font-size="9.2" font-weight="bold" fill="#000" text-anchor="start" stroke="#000" stroke-width="0.22">50</text>
<line x1="479.3" y1="314.40" x2="481.90000000000003" y2="314.40" stroke="#1a1a1a" stroke-width="1"/>
<text x="482.10" y="317.60" font-size="9.2" font-weight="bold" fill="#000" text-anchor="start" stroke="#000" stroke-width="0.22">60</text>
<line x1="479.3" y1="439.52" x2="480.8" y2="439.52" stroke="#1a1a1a" stroke-width="0.9"/>
<line x1="479.3" y1="416.77" x2="480.8" y2="416.77" stroke="#1a1a1a" stroke-width="0.9"/>
<line x1="479.3" y1="394.02" x2="480.8" y2="394.02" stroke="#1a1a1a" stroke-width="0.9"/>
<line x1="479.3" y1="371.27" x2="480.8" y2="371.27" stroke="#1a1a1a" stroke-width="0.9"/>
<line x1="479.3" y1="348.52" x2="480.8" y2="348.52" stroke="#1a1a1a" stroke-width="0.9"/>
<line x1="479.3" y1="325.77" x2="480.8" y2="325.77" stroke="#1a1a1a" stroke-width="0.9"/>
<line x1="282.40" y1="450.9" x2="282.40" y2="453.29999999999995" stroke="#1a1a1a" stroke-width="1"/>
<text x="282.40" y="461.10" font-size="9.2" font-weight="bold" fill="#000" text-anchor="middle" stroke="#000" stroke-width="0.22">0</text>
<line x1="304.01" y1="450.9" x2="304.01" y2="453.29999999999995" stroke="#1a1a1a" stroke-width="1"/>
<text x="304.01" y="461.10" font-size="9.2" font-weight="bold" fill="#000" text-anchor="middle" stroke="#000" stroke-width="0.22">10</text>
<line x1="325.62" y1="450.9" x2="325.62" y2="453.29999999999995" stroke="#1a1a1a" stroke-width="1"/>
<text x="325.62" y="461.10" font-size="9.2" font-weight="bold" fill="#000" text-anchor="middle" stroke="#000" stroke-width="0.22">20</text>
<line x1="347.23" y1="450.9" x2="347.23" y2="453.29999999999995" stroke="#1a1a1a" stroke-width="1"/>
<text x="347.23" y="461.10" font-size="9.2" font-weight="bold" fill="#000" text-anchor="middle" stroke="#000" stroke-width="0.22">30</text>
<line x1="368.84" y1="450.9" x2="368.84" y2="453.29999999999995" stroke="#1a1a1a" stroke-width="1"/>
<text x="368.84" y="461.10" font-size="9.2" font-weight="bold" fill="#000" text-anchor="middle" stroke="#000" stroke-width="0.22">40</text>
<line x1="390.45" y1="450.9" x2="390.45" y2="453.29999999999995" stroke="#1a1a1a" stroke-width="1"/>
<text x="390.45" y="461.10" font-size="9.2" font-weight="bold" fill="#000" text-anchor="middle" stroke="#000" stroke-width="0.22">50</text>
<line x1="412.06" y1="450.9" x2="412.06" y2="453.29999999999995" stroke="#1a1a1a" stroke-width="1"/>
<text x="412.06" y="461.10" font-size="9.2" font-weight="bold" fill="#000" text-anchor="middle" stroke="#000" stroke-width="0.22">60</text>
<line x1="433.67" y1="450.9" x2="433.67" y2="453.29999999999995" stroke="#1a1a1a" stroke-width="1"/>
<text x="433.67" y="461.10" font-size="9.2" font-weight="bold" fill="#000" text-anchor="middle" stroke="#000" stroke-width="0.22">70</text>
<line x1="455.28" y1="450.9" x2="455.28" y2="453.29999999999995" stroke="#1a1a1a" stroke-width="1"/>
<text x="455.28" y="461.10" font-size="9.2" font-weight="bold" fill="#000" text-anchor="middle" stroke="#000" stroke-width="0.22">80</text>
<line x1="476.89" y1="450.9" x2="476.89" y2="453.29999999999995" stroke="#1a1a1a" stroke-width="1"/>
<text x="476.89" y="461.10" font-size="9.2" font-weight="bold" fill="#000" text-anchor="middle" stroke="#000" stroke-width="0.22">90</text>
<text x="341.75" y="472.10" font-size="9.9" font-weight="bold" fill="#000" textLength="78.03" lengthAdjust="spacingAndGlyphs">Running time (d)</text>
<text transform="translate(271.9,382.7) rotate(-90)" font-size="9.7" font-weight="bold" text-anchor="middle" fill="#000">TOC (mg L<tspan font-size="6.2" dy="-3.6">-1</tspan><tspan dy="3.6">)</tspan></text>
<text transform="translate(501.90,422.04) rotate(-90)" font-size="9.8" font-weight="bold" fill="#000" textLength="79.02" lengthAdjust="spacingAndGlyphs">Removal rate (%)</text>
<line x1="283.5" y1="321.2" x2="300.7" y2="321.2" stroke="#a5155f" stroke-width="1.1"/>
<rect x="290.8" y="319.9" width="2.6" height="2.6" fill="#a5155f"/>
<text x="302.99" y="324.20" font-size="9.2" font-weight="bold" fill="#000" textLength="33.43" lengthAdjust="spacingAndGlyphs">Influent</text>
<line x1="341.9" y1="321.2" x2="358.6" y2="321.2" stroke="#5b80f2" stroke-width="1.1"/>
<circle cx="350.2" cy="321.2" r="1.4" fill="#5b80f2"/>
<text x="360.99" y="324.20" font-size="9.2" font-weight="bold" fill="#000" textLength="34.42" lengthAdjust="spacingAndGlyphs">Effluent</text>
<rect x="400.7" y="318.1" width="12.6" height="5.6" fill="#fdd6b4"/>
<text x="420.29" y="324.20" font-size="9.2" font-weight="bold" fill="#000" textLength="57.62" lengthAdjust="spacingAndGlyphs">Removal rate</text>
<rect x="553.1" y="360.34" width="18.30" height="90.66" fill="#a97977"/>
<rect x="571.4" y="433.30" width="18.00" height="17.70" fill="#8db7ef"/>
<rect x="589.4" y="361.72" width="18.60" height="89.28" fill="#fdbe93"/>
<rect x="621.1" y="444.20" width="18.70" height="6.80" fill="#a97977"/>
<rect x="639.8" y="448.90" width="17.70" height="2.10" fill="#8db7ef"/>
<rect x="657.5" y="444.20" width="18.60" height="6.80" fill="#fdbe93"/>
<rect x="547.4" y="441.6" width="134.29999999999998" height="2.2" fill="#fff"/>
<line x1="546.6" y1="314.6" x2="682.5" y2="314.6" stroke="#1a1a1a" stroke-width="1.2"/>
<line x1="546.6" y1="314.6" x2="546.6" y2="441.2" stroke="#1a1a1a" stroke-width="1.2"/>
<line x1="546.6" y1="444.2" x2="546.6" y2="451.0" stroke="#1a1a1a" stroke-width="1.2"/>
<line x1="682.5" y1="314.6" x2="682.5" y2="441.2" stroke="#1a1a1a" stroke-width="1.2"/>
<line x1="682.5" y1="444.2" x2="682.5" y2="451.0" stroke="#1a1a1a" stroke-width="1.2"/>
<line x1="546.6" y1="451.0" x2="682.5" y2="451.0" stroke="#1a1a1a" stroke-width="1.3"/>
<line x1="544.4" y1="442.0" x2="548.8000000000001" y2="439.6" stroke="#1a1a1a" stroke-width="0.8"/>
<line x1="544.4" y1="445.6" x2="548.8000000000001" y2="443.2" stroke="#1a1a1a" stroke-width="0.8"/>
<line x1="680.3" y1="442.0" x2="684.7" y2="439.6" stroke="#1a1a1a" stroke-width="0.8"/>
<line x1="680.3" y1="445.6" x2="684.7" y2="443.2" stroke="#1a1a1a" stroke-width="0.8"/>
<line x1="544.0" y1="429.65" x2="546.6" y2="429.65" stroke="#1a1a1a" stroke-width="1"/>
<text x="543.70" y="433.05" font-size="9.6" font-weight="bold" fill="#000" text-anchor="end" stroke="#000" stroke-width="0.22">7</text>
<line x1="544.0" y1="406.70" x2="546.6" y2="406.70" stroke="#1a1a1a" stroke-width="1"/>
<text x="543.70" y="410.10" font-size="9.6" font-weight="bold" fill="#000" text-anchor="end" stroke="#000" stroke-width="0.22">8</text>
<line x1="544.0" y1="383.75" x2="546.6" y2="383.75" stroke="#1a1a1a" stroke-width="1"/>
<text x="543.70" y="387.15" font-size="9.6" font-weight="bold" fill="#000" text-anchor="end" stroke="#000" stroke-width="0.22">9</text>
<line x1="544.0" y1="360.80" x2="546.6" y2="360.80" stroke="#1a1a1a" stroke-width="1"/>
<text x="543.70" y="364.20" font-size="9.6" font-weight="bold" fill="#000" text-anchor="end" stroke="#000" stroke-width="0.22">10</text>
<line x1="544.0" y1="337.85" x2="546.6" y2="337.85" stroke="#1a1a1a" stroke-width="1"/>
<text x="543.70" y="341.25" font-size="9.6" font-weight="bold" fill="#000" text-anchor="end" stroke="#000" stroke-width="0.22">11</text>
<line x1="544.0" y1="314.90" x2="546.6" y2="314.90" stroke="#1a1a1a" stroke-width="1"/>
<text x="543.70" y="318.30" font-size="9.6" font-weight="bold" fill="#000" text-anchor="end" stroke="#000" stroke-width="0.22">12</text>
<line x1="545.1" y1="418.17" x2="546.6" y2="418.17" stroke="#1a1a1a" stroke-width="0.9"/>
<line x1="545.1" y1="395.22" x2="546.6" y2="395.22" stroke="#1a1a1a" stroke-width="0.9"/>
<line x1="545.1" y1="372.27" x2="546.6" y2="372.27" stroke="#1a1a1a" stroke-width="0.9"/>
<line x1="545.1" y1="349.32" x2="546.6" y2="349.32" stroke="#1a1a1a" stroke-width="0.9"/>
<line x1="545.1" y1="326.38" x2="546.6" y2="326.38" stroke="#1a1a1a" stroke-width="0.9"/>
<line x1="544.0" y1="446.5" x2="546.6" y2="446.5" stroke="#1a1a1a" stroke-width="1"/>
<text x="543.70" y="449.90" font-size="9.6" font-weight="bold" fill="#000" text-anchor="end" stroke="#000" stroke-width="0.22">0.2</text>
<text x="546.00" y="457.60" font-size="8.4" font-weight="bold" fill="#777" text-anchor="middle" >0</text>
<line x1="580.3" y1="451.0" x2="580.3" y2="453.6" stroke="#1a1a1a" stroke-width="1"/>
<line x1="614.8" y1="451.0" x2="614.8" y2="453.6" stroke="#1a1a1a" stroke-width="1"/>
<line x1="648.4" y1="451.0" x2="648.4" y2="453.6" stroke="#1a1a1a" stroke-width="1"/>
<text x="566.96" y="464.30" font-size="9.2" font-weight="bold" fill="#000" textLength="26.99" lengthAdjust="spacingAndGlyphs">PFOA</text>
<text x="630.35" y="464.40" font-size="9.2" font-weight="bold" fill="#000" textLength="36.31" lengthAdjust="spacingAndGlyphs">PFTrDA</text>
<text transform="translate(528.8,382.2) rotate(-90)" font-size="9.8" font-weight="bold" text-anchor="middle" fill="#000">Concentration (ng L<tspan font-size="6.3" dy="-3.7">-1</tspan><tspan dy="3.7">)</tspan></text>
<rect x="553.7" y="316.0" width="15.2" height="10.2" fill="#a97977"/>
<rect x="553.7" y="326.9" width="15.2" height="10.6" fill="#8db7ef"/>
<rect x="553.7" y="338.5" width="15.2" height="10.5" fill="#fdbe93"/>
<text x="575.49" y="324.20" font-size="9.2" font-weight="bold" fill="#000" textLength="33.53" lengthAdjust="spacingAndGlyphs">Influent</text>
<text x="575.72" y="335.50" font-size="9.2" font-weight="bold" fill="#000" textLength="100.50" lengthAdjust="spacingAndGlyphs">CNTs-PVDF Membrane</text>
<text x="576.00" y="346.90" font-size="9.2" font-weight="bold" fill="#000" textLength="100.47" lengthAdjust="spacingAndGlyphs">Traditional Purification</text>
</svg>
</body></html>
